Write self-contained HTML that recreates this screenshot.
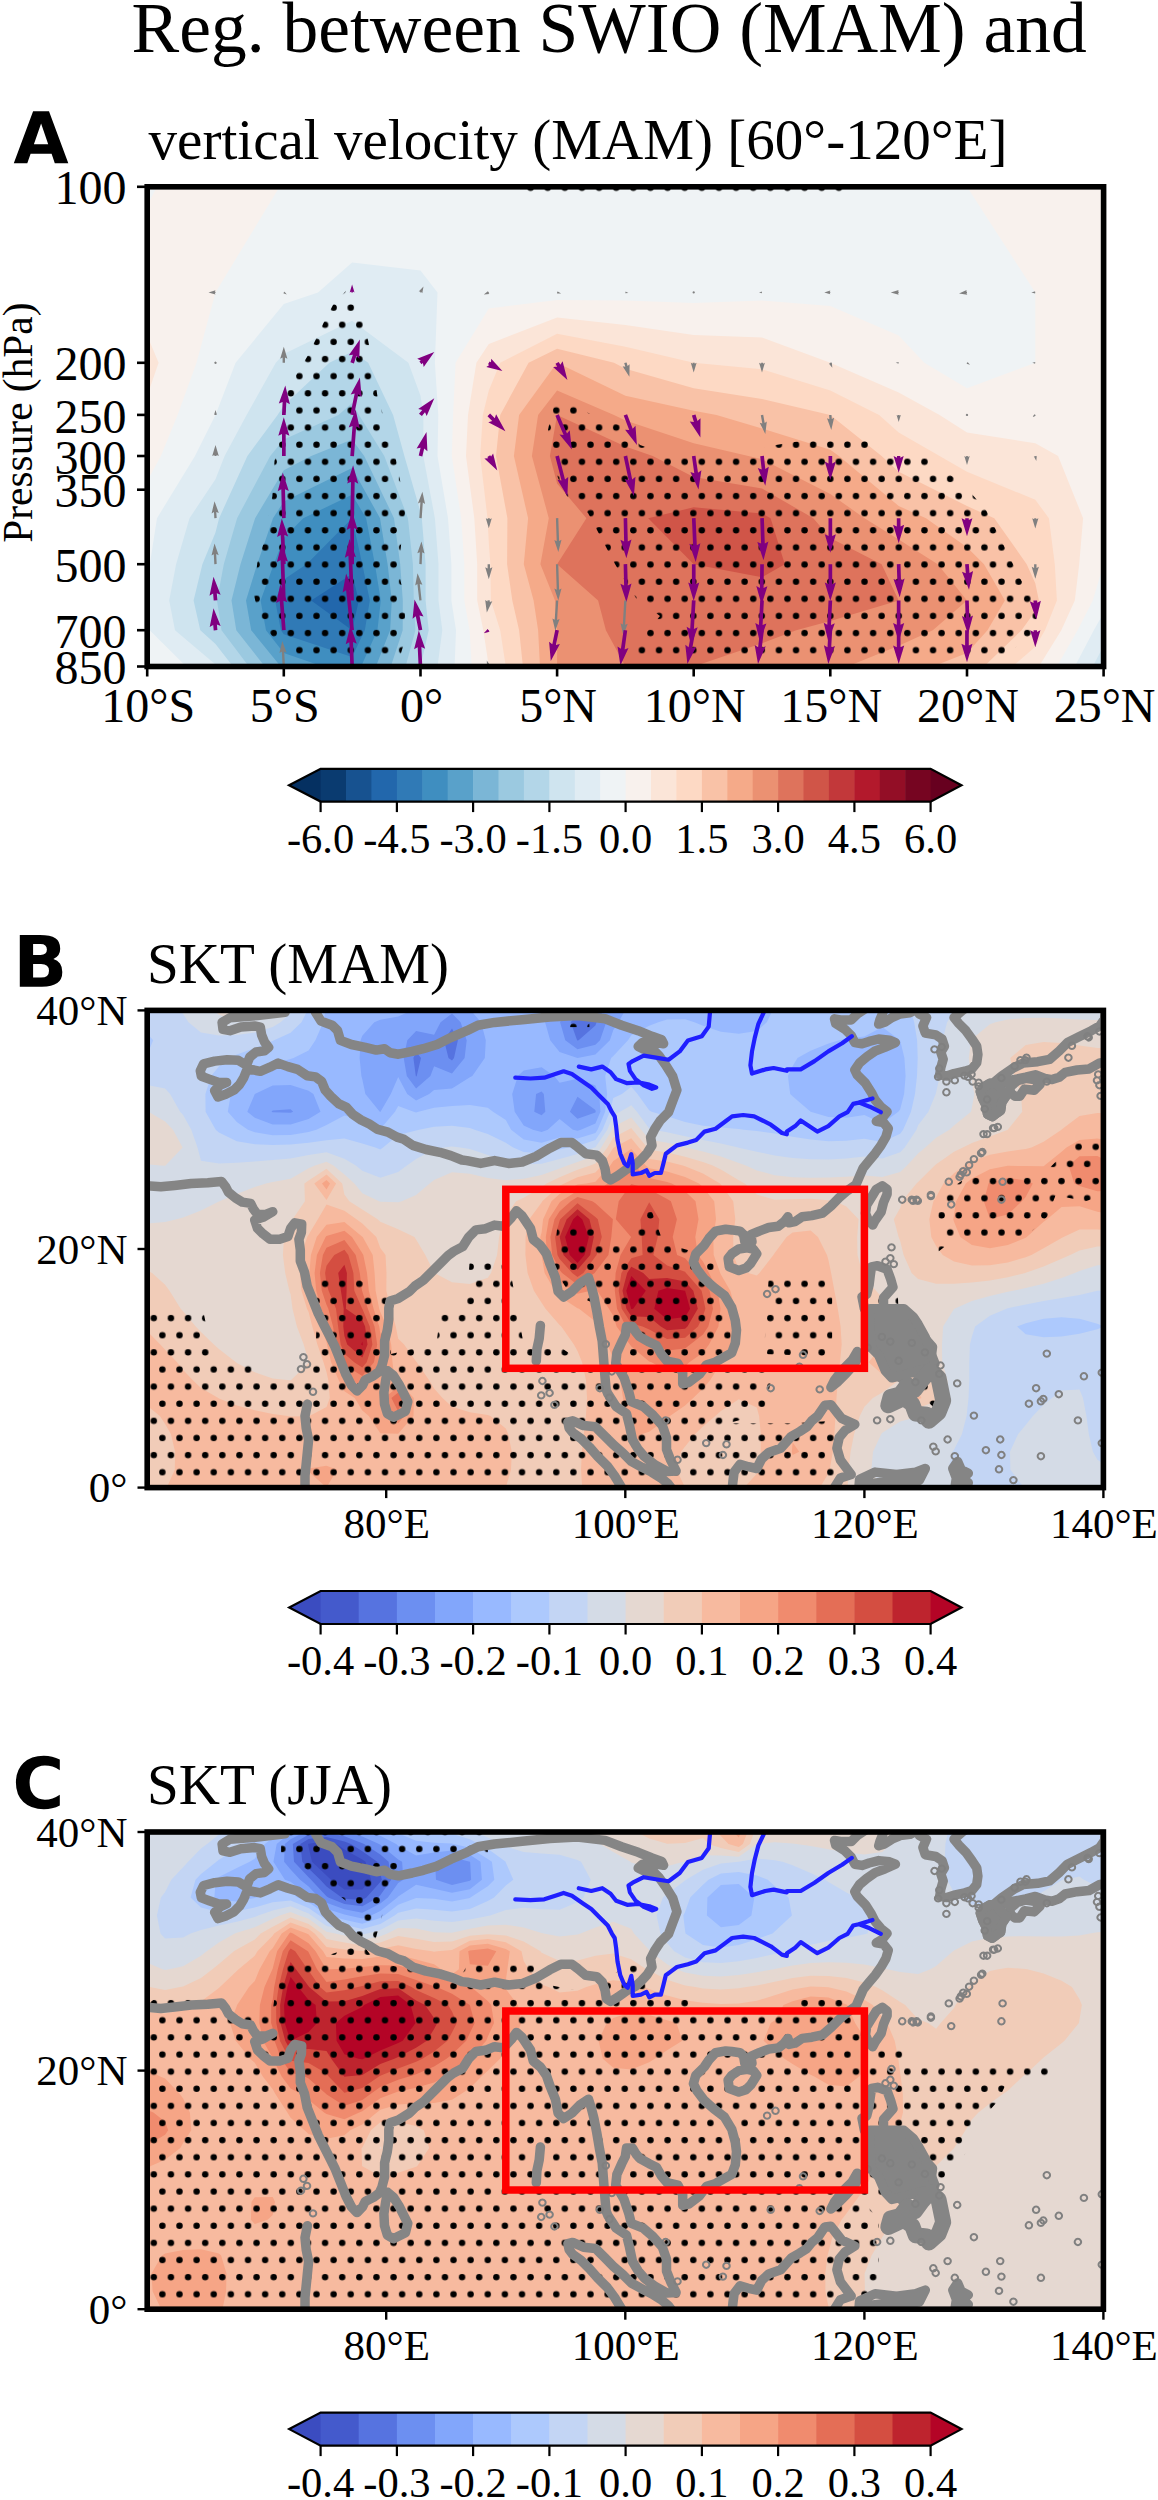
<!DOCTYPE html>
<html><head><meta charset="utf-8"><style>html,body{margin:0;padding:0;background:#fff}</style></head><body>
<svg width="1158" height="2500" viewBox="0 0 1158 2500" style="display:block">
<defs>
<pattern id="dots" patternUnits="userSpaceOnUse" x="158.1" y="436.1" width="17.126" height="34.252">
<circle cx="4.2815" cy="8.563" r="3.2" fill="#000"/>
<circle cx="12.8445" cy="25.689" r="3.2" fill="#000"/>
</pattern>
</defs>
<rect width="1158" height="2500" fill="#fff"/>
<g style="font-family:'Liberation Serif',serif" fill="#000">
<text x="131.6" y="52" font-size="71.5" text-anchor="start" >Reg. between SWIO (MAM) and</text>
<text x="148.5" y="158.8" font-size="57.1" text-anchor="start" >vertical velocity (MAM) [60°-120°E]</text>
<text x="147.1" y="982.5" font-size="57.1" text-anchor="start" >SKT (MAM)</text>
<text x="147.1" y="1804.1" font-size="57.1" text-anchor="start" >SKT (JJA)</text>
</g>
<path d="M51.6 153.8L30.6 153.8L27.3 163.3L13.8 163.3L33.1 111.3L49 111.3L68.3 163.3L54.8 163.3L51.6 153.8ZM33.9 144.2L48.2 144.2L41.1 123.5L33.9 144.2Z" fill="#000"/>
<path d="M40.5 955Q43.7 955 45.3 953.6Q46.9 952.3 46.9 949.5Q46.9 946.9 45.3 945.5Q43.7 944.1 40.5 944.1L33.1 944.1L33.1 955L40.5 955ZM41 977.6Q45 977.6 47 975.9Q49 974.2 49 970.8Q49 967.4 47 965.8Q45 964.1 41 964.1L33.1 964.1L33.1 977.6L41 977.6ZM53.4 959Q57.6 960.3 60 963.6Q62.3 967 62.3 971.9Q62.3 979.4 57.3 983Q52.2 986.7 41.9 986.7L19.8 986.7L19.8 935L39.8 935Q50.6 935 55.4 938.3Q60.2 941.5 60.2 948.7Q60.2 952.5 58.5 955.1Q56.7 957.7 53.4 959Z" fill="#000"/>
<path d="M59.8 1805.5Q56.1 1807.4 52.1 1808.3Q48.2 1809.3 43.8 1809.3Q31 1809.3 23.4 1802.1Q15.9 1794.9 15.9 1782.6Q15.9 1770.2 23.4 1763Q31 1755.8 43.8 1755.8Q48.2 1755.8 52.1 1756.8Q56.1 1757.7 59.8 1759.6L59.8 1770.3Q56.1 1767.8 52.5 1766.6Q48.9 1765.4 44.9 1765.4Q37.8 1765.4 33.7 1770Q29.6 1774.6 29.6 1782.6Q29.6 1790.5 33.7 1795.1Q37.8 1799.7 44.9 1799.7Q48.9 1799.7 52.5 1798.5Q56.1 1797.3 59.8 1794.8L59.8 1805.5Z" fill="#000"/>
<clipPath id="clipA"><rect x="147.2" y="186.8" width="956.3999999999999" height="479.7"/></clipPath>
<g clip-path="url(#clipA)">
<rect x="147.2" y="186.8" width="956.3999999999999" height="479.7" fill="#053061"/>
<path d="M215.5 186.8L283.8 186.8L352.1 186.8L420.5 186.8L488.8 186.8L557.1 186.8L625.4 186.8L693.7 186.8L762 186.8L830.3 186.8L898.7 186.8L967 186.8L1035.3 186.8L1103.6 186.8L1103.6 292.4L1103.6 362.8L1103.6 414.9L1103.6 456L1103.6 518.2L1103.6 564.2L1103.6 600.5L1103.6 630.2L1103.6 666.5L1035.3 666.5L967 666.5L898.7 666.5L830.3 666.5L762 666.5L693.7 666.5L625.4 666.5L557.1 666.5L488.8 666.5L420.5 666.5L352.1 666.5L283.8 666.5L215.5 666.5L147.2 666.5L147.2 630.2L147.2 600.5L147.2 564.2L147.2 518.2L147.2 456L147.2 414.9L147.2 362.8L147.2 292.4L147.2 186.8Z" fill="#0a3b70"/>
<path d="M215.5 186.8L283.8 186.8L352.1 186.8L420.5 186.8L488.8 186.8L557.1 186.8L625.4 186.8L693.7 186.8L762 186.8L830.3 186.8L898.7 186.8L967 186.8L1035.3 186.8L1103.6 186.8L1103.6 292.4L1103.6 362.8L1103.6 414.9L1103.6 456L1103.6 518.2L1103.6 564.2L1103.6 600.5L1103.6 630.2L1103.6 666.5L1035.3 666.5L967 666.5L898.7 666.5L830.3 666.5L762 666.5L693.7 666.5L625.4 666.5L557.1 666.5L488.8 666.5L420.5 666.5L352.1 666.5L283.8 666.5L215.5 666.5L147.2 666.5L147.2 630.2L147.2 600.5L147.2 564.2L147.2 518.2L147.2 456L147.2 414.9L147.2 362.8L147.2 292.4L147.2 186.8Z" fill="#175290"/>
<path d="M215.5 186.8L283.8 186.8L352.1 186.8L420.5 186.8L488.8 186.8L557.1 186.8L625.4 186.8L693.7 186.8L762 186.8L830.3 186.8L898.7 186.8L967 186.8L1035.3 186.8L1103.6 186.8L1103.6 292.4L1103.6 362.8L1103.6 414.9L1103.6 456L1103.6 518.2L1103.6 564.2L1103.6 600.5L1103.6 630.2L1103.6 666.5L1035.3 666.5L967 666.5L898.7 666.5L830.3 666.5L762 666.5L693.7 666.5L625.4 666.5L557.1 666.5L488.8 666.5L420.5 666.5L352.1 666.5L283.8 666.5L215.5 666.5L147.2 666.5L147.2 630.2L147.2 600.5L147.2 564.2L147.2 518.2L147.2 456L147.2 414.9L147.2 362.8L147.2 292.4L147.2 186.8Z" fill="#2267ac"/>
<path d="M215.5 186.8L283.8 186.8L352.1 186.8L420.5 186.8L488.8 186.8L557.1 186.8L625.4 186.8L693.7 186.8L762 186.8L830.3 186.8L898.7 186.8L967 186.8L1035.3 186.8L1103.6 186.8L1103.6 292.4L1103.6 362.8L1103.6 414.9L1103.6 456L1103.6 518.2L1103.6 564.2L1103.6 600.5L1103.6 630.2L1103.6 666.5L1035.3 666.5L967 666.5L898.7 666.5L830.3 666.5L762 666.5L693.7 666.5L625.4 666.5L557.1 666.5L488.8 666.5L420.5 666.5L352.1 666.5L283.8 666.5L215.5 666.5L147.2 666.5L147.2 630.2L147.2 600.5L147.2 564.2L147.2 518.2L147.2 456L147.2 414.9L147.2 362.8L147.2 292.4L147.2 186.8ZM311.2 600.5L352.1 630.2L352.1 630.2L352.1 630.2L358.8 600.5L352.1 574Z" fill="#307ab6"/>
<path d="M215.5 186.8L283.8 186.8L352.1 186.8L420.5 186.8L488.8 186.8L557.1 186.8L625.4 186.8L693.7 186.8L762 186.8L830.3 186.8L898.7 186.8L967 186.8L1035.3 186.8L1103.6 186.8L1103.6 292.4L1103.6 362.8L1103.6 414.9L1103.6 456L1103.6 518.2L1103.6 564.2L1103.6 600.5L1103.6 630.2L1103.6 666.5L1035.3 666.5L967 666.5L898.7 666.5L830.3 666.5L762 666.5L693.7 666.5L625.4 666.5L557.1 666.5L488.8 666.5L420.5 666.5L352.1 666.5L283.8 666.5L215.5 666.5L147.2 666.5L147.2 630.2L147.2 600.5L147.2 564.2L147.2 518.2L147.2 456L147.2 414.9L147.2 362.8L147.2 292.4L147.2 186.8ZM352.1 518.2L306.6 564.2L283.8 579.6L275.1 600.5L280.9 630.2L283.8 634.2L352.1 656.9L364.8 630.2L369.8 600.5L362.3 564.2L352.1 518.2L352.1 518.2Z" fill="#3f8ec0"/>
<path d="M215.5 186.8L283.8 186.8L352.1 186.8L420.5 186.8L488.8 186.8L557.1 186.8L625.4 186.8L693.7 186.8L762 186.8L830.3 186.8L898.7 186.8L967 186.8L1035.3 186.8L1103.6 186.8L1103.6 292.4L1103.6 362.8L1103.6 414.9L1103.6 456L1103.6 518.2L1103.6 564.2L1103.6 600.5L1103.6 630.2L1103.6 666.5L1035.3 666.5L967 666.5L898.7 666.5L830.3 666.5L762 666.5L693.7 666.5L625.4 666.5L557.1 666.5L488.8 666.5L420.5 666.5L361.1 666.5L377.4 630.2L380.8 600.5L374.9 564.2L366.1 518.2L352.1 494.8L303.3 518.2L283.8 538L273.8 564.2L260.6 600.5L266 630.2L283.8 653L322.9 666.5L283.8 666.5L215.5 666.5L147.2 666.5L147.2 630.2L147.2 600.5L147.2 564.2L147.2 518.2L147.2 456L147.2 414.9L147.2 362.8L147.2 292.4L147.2 186.8Z" fill="#59a1ca"/>
<path d="M215.5 186.8L283.8 186.8L352.1 186.8L420.5 186.8L488.8 186.8L557.1 186.8L625.4 186.8L693.7 186.8L762 186.8L830.3 186.8L898.7 186.8L967 186.8L1035.3 186.8L1103.6 186.8L1103.6 292.4L1103.6 362.8L1103.6 414.9L1103.6 456L1103.6 518.2L1103.6 564.2L1103.6 600.5L1103.6 630.2L1103.6 666.5L1035.3 666.5L967 666.5L898.7 666.5L830.3 666.5L762 666.5L693.7 666.5L625.4 666.5L557.1 666.5L488.8 666.5L420.5 666.5L375.9 666.5L390.1 630.2L391.8 600.5L387.6 564.2L380 518.2L352.1 468L283.8 501.6L273 518.2L257.2 564.2L246 600.5L251.2 630.2L280.7 666.5L215.5 666.5L147.2 666.5L147.2 630.2L147.2 600.5L147.2 564.2L147.2 518.2L147.2 456L147.2 414.9L147.2 362.8L147.2 292.4L147.2 186.8Z" fill="#7bb6d6"/>
<path d="M215.5 186.8L283.8 186.8L352.1 186.8L420.5 186.8L488.8 186.8L557.1 186.8L625.4 186.8L693.7 186.8L762 186.8L830.3 186.8L898.7 186.8L967 186.8L1035.3 186.8L1103.6 186.8L1103.6 292.4L1103.6 362.8L1103.6 414.9L1103.6 456L1103.6 518.2L1103.6 564.2L1103.6 600.5L1103.6 630.2L1103.6 666.5L1035.3 666.5L967 666.5L898.7 666.5L830.3 666.5L762 666.5L693.7 666.5L625.4 666.5L557.1 666.5L488.8 666.5L420.5 666.5L390.8 666.5L402.7 630.2L402.8 600.5L400.2 564.2L394 518.2L364.2 456L352.1 439.5L311.2 456L283.8 470.2L255.1 518.2L240.5 564.2L231.5 600.5L236.3 630.2L264.8 666.5L215.5 666.5L147.2 666.5L147.2 630.2L147.2 600.5L147.2 564.2L147.2 518.2L147.2 456L147.2 414.9L147.2 362.8L147.2 292.4L147.2 186.8Z" fill="#9bc9e0"/>
<path d="M215.5 186.8L283.8 186.8L352.1 186.8L420.5 186.8L488.8 186.8L557.1 186.8L625.4 186.8L693.7 186.8L762 186.8L830.3 186.8L898.7 186.8L967 186.8L1035.3 186.8L1103.6 186.8L1103.6 292.4L1103.6 362.8L1103.6 414.9L1103.6 456L1103.6 518.2L1103.6 564.2L1103.6 600.5L1103.6 630.2L1103.6 666.5L1035.3 666.5L967 666.5L898.7 666.5L830.3 666.5L762 666.5L693.7 666.5L625.4 666.5L557.1 666.5L488.8 666.5L420.5 666.5L405.6 666.5L415.4 630.2L413.8 600.5L412.9 564.2L407.9 518.2L384.3 456L359 414.9L352.1 403.1L338.5 414.9L283.8 439.5L270.2 456L237.1 518.2L223.8 564.2L217 600.5L221.5 630.2L248.9 666.5L215.5 666.5L147.2 666.5L147.2 630.2L147.2 600.5L147.2 564.2L147.2 518.2L147.2 456L147.2 414.9L147.2 362.8L147.2 292.4L147.2 186.8Z" fill="#b3d6e8"/>
<path d="M215.5 186.8L283.8 186.8L352.1 186.8L420.5 186.8L488.8 186.8L557.1 186.8L625.4 186.8L693.7 186.8L762 186.8L830.3 186.8L898.7 186.8L967 186.8L1035.3 186.8L1103.6 186.8L1103.6 292.4L1103.6 362.8L1103.6 414.9L1103.6 456L1103.6 518.2L1103.6 564.2L1103.6 600.5L1103.6 630.2L1103.6 666.5L1035.3 666.5L967 666.5L898.7 666.5L830.3 666.5L762 666.5L693.7 666.5L625.4 666.5L557.1 666.5L488.8 666.5L420.5 666.5L428.7 630.2L425.6 600.5L425.6 564.2L421.8 518.2L420.5 512.2L404.4 456L393.1 414.9L368.2 362.8L352.1 351.7L329.4 362.8L283.8 405.6L277.6 414.9L247.4 456L219.1 518.2L215.5 532.6L202.4 564.2L193.6 600.5L200.3 630.2L215.5 644L233 666.5L215.5 666.5L147.2 666.5L147.2 630.2L147.2 600.5L147.2 564.2L147.2 518.2L147.2 456L147.2 414.9L147.2 362.8L147.2 292.4L147.2 186.8Z" fill="#cfe4ef"/>
<path d="M215.5 186.8L283.8 186.8L352.1 186.8L420.5 186.8L488.8 186.8L557.1 186.8L625.4 186.8L693.7 186.8L762 186.8L830.3 186.8L898.7 186.8L967 186.8L1035.3 186.8L1103.6 186.8L1103.6 292.4L1103.6 362.8L1103.6 414.9L1103.6 456L1103.6 518.2L1103.6 564.2L1103.6 600.5L1103.6 630.2L1103.6 645.7L1092.8 666.5L1035.3 666.5L967 666.5L898.7 666.5L830.3 666.5L762 666.5L693.7 666.5L625.4 666.5L557.1 666.5L488.8 666.5L437.5 666.5L442.3 630.2L438.5 600.5L438.5 564.2L434.9 518.2L423.3 456L423.4 414.9L420.5 395.7L408.4 362.8L352.1 320.8L283.8 354.1L275.8 362.8L246.6 414.9L224.6 456L215.5 479.2L189.5 518.2L176.1 564.2L169.2 600.5L175 630.2L215.5 664.6L217.1 666.5L215.5 666.5L147.2 666.5L147.2 630.2L147.2 600.5L147.2 564.2L147.2 518.2L147.2 456L147.2 414.9L147.2 362.8L147.2 292.4L147.2 186.8Z" fill="#e0ecf3"/>
<path d="M215.5 186.8L283.8 186.8L352.1 186.8L420.5 186.8L488.8 186.8L557.1 186.8L625.4 186.8L693.7 186.8L762 186.8L830.3 186.8L898.7 186.8L967 186.8L1035.3 186.8L1103.6 186.8L1103.6 292.4L1103.6 362.8L1103.6 414.9L1103.6 456L1103.6 518.2L1103.6 564.2L1103.6 600.5L1103.6 613L1093.8 630.2L1074.8 666.5L1035.3 666.5L967 666.5L898.7 666.5L830.3 666.5L762 666.5L693.7 666.5L625.4 666.5L557.1 666.5L488.8 666.5L454.6 666.5L456 630.2L451.4 600.5L451.4 564.2L448 518.2L437.5 456L438.3 414.9L434.9 362.8L437.5 292.4L420.5 270.4L352.1 262.5L318 292.4L283.8 304L235.6 362.8L215.5 414.9L215.5 414.9L195 456L157 518.2L149.8 564.2L147.2 583.3L147.2 564.2L147.2 518.2L147.2 456L147.2 414.9L147.2 362.8L147.2 292.4L147.2 186.8ZM149.7 630.2L186.2 666.5L147.2 666.5L147.2 630.2L147.2 616Z" fill="#eff3f5"/>
<path d="M215.5 186.8L279.6 186.8L215.5 292.4L215.5 292.4L196.5 362.8L177.6 414.9L160.9 456L147.2 481.1L147.2 456L147.2 414.9L147.2 362.8L147.2 292.4L147.2 205.3L157 186.8ZM1035.3 186.8L1103.6 186.8L1103.6 292.4L1103.6 362.8L1103.6 414.9L1103.6 456L1103.6 518.2L1103.6 564.2L1103.6 564.2L1092.8 600.5L1077.6 630.2L1056.9 666.5L1035.3 666.5L967 666.5L898.7 666.5L830.3 666.5L762 666.5L693.7 666.5L625.4 666.5L557.1 666.5L488.8 666.5L471.7 666.5L469.6 630.2L464.3 600.5L464.3 564.2L461.2 518.2L451.8 456L453.1 414.9L455.6 362.8L488.8 308.5L557.1 299.9L625.4 300.4L693.7 303.1L762 300.6L830.3 305.9L898.7 335.5L924.3 362.8L967 388.2L1035.3 362.8L1035.3 362.8L1035.3 292.4L1035.3 292.4L967 186.8ZM153.7 666.5L147.2 666.5L147.2 660.5Z" fill="#f8f1ed"/>
<path d="M158.6 362.8L147.2 395.7L147.2 362.8L147.2 335.5ZM488.8 344.1L557.1 317.5L625.4 324.9L693.7 335.1L762 337.4L830.3 362.8L830.3 362.8L898.7 392.6L939.6 414.9L967 432.5L1035.3 443.3L1058.1 456L1083.1 518.2L1079.2 564.2L1074.8 600.5L1061.3 630.2L1038.9 666.5L1035.3 666.5L967 666.5L898.7 666.5L830.3 666.5L762 666.5L693.7 666.5L625.4 666.5L557.1 666.5L488.8 666.5L488.8 666.5L483.3 630.2L477.2 600.5L477.2 564.2L474.3 518.2L466 456L468 414.9L476.4 362.8Z" fill="#fbe5d8"/>
<path d="M557.1 333.7L625.4 346.8L693.7 362.8L693.7 362.8L762 369.3L830.3 390.6L879.1 414.9L898.7 432.5L939.6 456L967 471.8L1035.3 499.7L1048.9 518.2L1054.8 564.2L1056.9 600.5L1045 630.2L1035.3 646.8L1012.5 666.5L967 666.5L898.7 666.5L830.3 666.5L762 666.5L693.7 666.5L625.4 666.5L557.1 666.5L505.8 666.5L500.2 630.2L490.9 600.5L490.4 564.2L488.8 542.7L487.5 518.2L480.2 456L482.8 414.9L488.8 390.6L500.2 362.8Z" fill="#fdd9c4"/>
<path d="M557.1 348.8L614 362.8L625.4 368.7L693.7 388.2L762 399L830.3 414.9L830.3 414.9L881.6 456L898.7 471.8L967 506.1L994.3 518.2L1026.7 564.2L1035.3 583.3L1038.9 600.5L1035.3 611L1021.6 630.2L984 666.5L967 666.5L898.7 666.5L830.3 666.5L762 666.5L693.7 666.5L625.4 666.5L557.1 666.5L522.9 666.5L519.1 630.2L512.3 600.5L507.1 564.2L507.4 518.2L496 456L500.2 414.9L528.6 362.8Z" fill="#f9c2a7"/>
<path d="M557.1 362.8L625.4 395.7L693.7 410.7L716.5 414.9L762 428.6L830.3 449.8L838.9 456L898.7 506.1L926 518.2L967 547.2L984 564.2L1004.9 600.5L987.5 630.2L967 653L932.8 666.5L898.7 666.5L830.3 666.5L762 666.5L693.7 666.5L625.4 666.5L557.1 666.5L540 666.5L538.1 630.2L533.6 600.5L523.8 564.2L528.1 518.2L513.9 456L519.1 414.9Z" fill="#f5aa89"/>
<path d="M557.1 390.6L614 414.9L625.4 420.6L693.7 443.3L748.4 456L762 459.2L830.3 494.1L864.5 518.2L898.7 539.4L937.7 564.2L967 600.5L932.8 630.2L898.7 645.7L847.4 666.5L830.3 666.5L762 666.5L693.7 666.5L625.4 666.5L557.1 666.5L557.1 630.2L557.1 630.2L555 600.5L540.4 564.2L548.8 518.2L531.9 456L538.1 414.9Z" fill="#eb9172"/>
<path d="M557.1 414.9L625.4 446.6L652.7 456L693.7 477L762 488.4L813.3 518.2L830.3 538L881.6 564.2L898.7 600.5L830.3 620.9L796.2 630.2L762 643.2L693.7 666.5L625.4 666.5L605.9 630.2L598.1 600.5L557.1 564.2L586.4 518.2L557.1 483.5L549.9 456Z" fill="#de735c"/>
<path d="M693.7 507.3L762 513.5L770.6 518.2L784.8 564.2L762 577.2L693.7 564.2L693.7 564.2L648.2 518.2Z" fill="#d05548"/>
<path d="M352.2 284L333 305L324 322L315.5 340L307 357L296 375L287.5 392L281 420L278.8 444L274.5 461L272.4 496L263.7 543L257.3 563L254 595L259 617L272 636L292 652L310 663L398 663L405 640L405 600L398 570L405 513L400 480L392 440L378 400L372 360L362 310Z" fill="url(#dots)"/>
<path d="M553 406L575 405L600 420L620 425L640 445L660 452L700 456L740 456L770 446L800 441L868 441L890 455L928 458L952 476L970 492L986 510L995 528L1004 546L1012 562L1021 580L1032 597L1037 615L1033 633L1010 652L1000 663L625 663L640 640L660 616L636 598L625 581L615 564L606 547L597 530L588 513L567 496L558 478L553 460L548 430Z" fill="url(#dots)"/>
<path d="M522 186.8L845 186.8L845 193L522 193Z" fill="url(#dots)"/>
<path d="M215.5 291.7L214.8 291.7L215.5 290.3L208.5 292.4L215.5 294.5L214.8 293.1L215.5 293.1Z" fill="#808080"/>
<path d="M216.7 362.8L216.3 363.7L215.2 364L214.4 363.3L214.4 362.3L215.2 361.6L216.3 361.9Z" fill="#808080"/>
<path d="M216 414.9L216 414.4L217 414.9L215.5 409.9L214 414.9L215 414.4L215 414.9Z" fill="#808080"/>
<path d="M216.6 456L216.6 454.9L218.8 456L215.5 445.1L212.2 456L214.4 454.9L214.4 456Z" fill="#808080"/>
<path d="M216.7 518.1L216.3 511.9L218.8 512.9L214.5 501.2L211.6 513.4L214 512L214.3 518.2Z" fill="#808080"/>
<path d="M216.7 564.1L216.2 554.1L218.7 555.2L214.5 543.4L211.5 555.6L213.8 554.2L214.3 564.2Z" fill="#808080"/>
<path d="M217.4 600.3L216.8 593.2L220.6 594.7L213.5 576.8L209.5 595.7L213.1 593.5L213.7 600.6Z" fill="#800080"/>
<path d="M217.4 630L216.9 624.6L220.7 626.1L213.5 608.2L209.7 627.1L213.2 624.9L213.7 630.4Z" fill="#800080"/>
<path d="M216.7 666.5L216.3 667.4L215.2 667.7L214.4 667L214.4 666L215.2 665.3L216.3 665.6Z" fill="#808080"/>
<path d="M283.6 292.7L283.9 292.9L283.2 293.3L286.8 294.4L284.4 291.5L284.3 292.3L284 292.1Z" fill="#808080"/>
<path d="M285 362.8L285 357.6L287.4 358.8L283.8 346.8L280.2 358.8L282.6 357.6L282.6 362.8Z" fill="#808080"/>
<path d="M285.7 415L286.3 402.2L289.9 404.2L285.3 385.4L278.8 403.6L282.6 402L282 414.9Z" fill="#800080"/>
<path d="M285.7 456L285.7 434L289.4 435.8L283.8 417.3L278.3 435.8L282 434L282 456Z" fill="#800080"/>
<path d="M285.7 518.1L285 489.2L288.8 490.9L282.8 472.6L277.7 491.2L281.3 489.2L282 518.2Z" fill="#800080"/>
<path d="M285.7 564.1L284.4 534.9L288.2 536.6L281.8 518.4L277.1 537.1L280.7 535.1L282 564.3Z" fill="#800080"/>
<path d="M285.7 600.4L284.3 560L288 561.7L281.8 543.5L276.9 562.1L280.6 560.2L282 600.5Z" fill="#800080"/>
<path d="M285.7 630.1L283.4 600.7L287.3 602.2L280.3 584.2L276.2 603.1L279.7 600.9L282 630.3Z" fill="#800080"/>
<path d="M285 666.4L284.2 651.6L286.6 652.7L282.3 640.9L279.4 653.1L281.8 651.8L282.6 666.6Z" fill="#808080"/>
<path d="M352.9 292.4L352.9 291.6L354.5 292.4L352.1 284.4L349.7 292.4L351.3 291.6L351.3 292.4Z" fill="#800080"/>
<path d="M353.9 363.4L356.4 355.9L359.3 358.8L359.9 339.5L348.8 355.3L352.9 354.7L350.4 362.2Z" fill="#800080"/>
<path d="M354 415.3L358.3 394.3L361.6 396.9L359.9 377.6L350.7 394.6L354.7 393.6L350.3 414.6Z" fill="#800080"/>
<path d="M354 456.2L356.2 426.3L359.8 428.4L355.6 409.5L348.7 427.6L352.5 426L350.3 455.9Z" fill="#800080"/>
<path d="M354 518.2L354.7 481.8L358.3 483.8L353.1 465.2L347.2 483.6L351 481.8L350.3 518.1Z" fill="#800080"/>
<path d="M354 564.2L354 528.1L357.7 530L352.1 511.5L346.6 530L350.3 528.1L350.3 564.2Z" fill="#800080"/>
<path d="M354 600.4L352.1 555.5L355.9 557.2L349.5 539L344.8 557.7L348.4 555.7L350.3 600.5Z" fill="#800080"/>
<path d="M354 630L349.7 590L353.6 591.4L346.1 573.6L342.6 592.6L346.1 590.3L350.3 630.4Z" fill="#800080"/>
<path d="M354 666.4L353 642.1L356.8 643.8L350.4 625.5L345.7 644.2L349.3 642.2L350.3 666.6Z" fill="#800080"/>
<path d="M421.1 292.7L421.4 292.1L422.3 293.3L423.5 286.4L418.7 291.5L420.2 291.5L419.9 292.1Z" fill="#808080"/>
<path d="M421.5 364.2L422.9 363.1L423.7 366.9L434.3 352.1L417.2 358.7L420.8 360.4L419.4 361.4Z" fill="#800080"/>
<path d="M421.9 416.1L425 412.3L426.7 416.1L434.3 398.3L418.2 409L422.2 410L419 413.8Z" fill="#800080"/>
<path d="M422.3 456.5L424.2 448.6L427.4 451.3L426.5 432L416.6 448.6L420.6 447.7L418.7 455.6Z" fill="#800080"/>
<path d="M421.7 518.2L422.8 502.5L425.1 503.9L422.4 491.7L417.9 503.4L420.4 502.3L419.3 518.1Z" fill="#808080"/>
<path d="M421.7 564.2L422.2 552.3L424.5 553.6L421.5 541.5L417.3 553.3L419.8 552.2L419.3 564.1Z" fill="#808080"/>
<path d="M421.6 600.3L419.8 583.9L422.4 584.8L417.5 573.3L415.2 585.6L417.4 584.1L419.3 600.6Z" fill="#808080"/>
<path d="M422.3 629.8L419.5 615.5L423.5 616.6L414.5 599.5L412.6 618.7L415.8 616.2L418.6 630.5Z" fill="#800080"/>
<path d="M422.3 666.4L421.4 647L425.2 648.7L418.8 630.5L414.1 649.2L417.7 647.2L418.6 666.6Z" fill="#800080"/>
<path d="M488.6 291.9L488.1 292.1L488.2 290.9L483.8 294.4L489.4 293.9L488.5 293.1L489 292.9Z" fill="#808080"/>
<path d="M488 364.2L489.3 365L486.3 366.9L502.4 371L491.2 358.7L491 362.3L489.6 361.4Z" fill="#800080"/>
<path d="M487.5 416.3L492.2 420.9L488.3 422.2L505.4 431.2L496.1 414.3L494.8 418.3L490.1 413.6Z" fill="#800080"/>
<path d="M487.3 456.9L488.2 458.3L484.4 458.6L497.3 470.5L493.1 453.5L491.1 456.6L490.2 455.2Z" fill="#800080"/>
<path d="M487.8 518.2L487.8 519.2L485.8 518.2L488.8 528.2L491.8 518.2L489.8 519.2L489.8 518.2Z" fill="#808080"/>
<path d="M487.6 564.2L487.6 568.4L485.2 567.2L488.8 579.2L492.4 567.2L490 568.4L490 564.2Z" fill="#808080"/>
<path d="M487.6 600.3L487.4 601.6L485.2 600L486.8 612.5L492.3 601.2L489.7 602L490 600.6Z" fill="#808080"/>
<path d="M488.5 629.7L488 630L487.9 628.7L483.8 633.2L489.7 631.7L488.6 631L489.1 630.7Z" fill="#800080"/>
<path d="M489.4 666.3L489.2 665.7L490.6 665.9L486.8 660.5L487 667.1L488 666.1L488.2 666.7Z" fill="#808080"/>
<path d="M557 292.8L557.4 292.9L556.8 293.6L561.1 293.4L557.4 291.2L557.6 292.1L557.2 292Z" fill="#808080"/>
<path d="M555.5 363.8L557.2 366.7L553.1 367L567.4 380L562.6 361.3L560.4 364.8L558.7 361.9Z" fill="#800080"/>
<path d="M555.4 415.7L563.6 434.9L559.5 434.6L571.9 449.4L569.7 430.3L567 433.4L558.8 414.2Z" fill="#800080"/>
<path d="M555.3 456.5L561.5 480.6L557.4 479.7L567.4 496.2L568.2 476.9L565 479.6L558.9 455.6Z" fill="#800080"/>
<path d="M555.9 518.2L556.7 541.2L554.3 540.1L558.3 552L561.5 539.8L559.1 541.1L558.3 518.1Z" fill="#808080"/>
<path d="M555.9 564.2L556.7 589.7L554.3 588.6L558.3 600.5L561.5 588.4L559.1 589.7L558.3 564.2Z" fill="#808080"/>
<path d="M555.9 600.4L554.7 619.8L552.4 618.5L555.3 630.7L559.6 618.9L557.1 619.9L558.3 600.5Z" fill="#808080"/>
<path d="M555.3 629.8L552.3 644.3L549.1 641.8L550.8 661L559.9 644L555.9 645.1L558.9 630.6Z" fill="#800080"/>
<path d="M625.3 292.7L625.6 292.8L625.2 293.3L628.4 292.9L625.5 291.5L625.7 292.2L625.4 292.1Z" fill="#808080"/>
<path d="M624.2 363.1L625.3 366.7L622.6 366.3L629.4 376.8L629.6 364.3L627.6 366.1L626.6 362.5Z" fill="#808080"/>
<path d="M623.7 415.6L629.2 430.1L625.1 429.7L636.9 444.9L635.5 425.7L632.7 428.7L627.1 414.3Z" fill="#800080"/>
<path d="M623.6 456.4L628.6 480.1L624.6 479.1L633.9 496L635.5 476.8L632.2 479.4L627.2 455.6Z" fill="#800080"/>
<path d="M623.6 518.2L624.1 541.6L620.4 539.8L626.4 558.2L631.5 539.5L627.8 541.5L627.2 518.1Z" fill="#800080"/>
<path d="M623.6 564.2L624.1 585.6L620.4 583.8L626.4 602.2L631.5 583.6L627.8 585.5L627.2 564.1Z" fill="#800080"/>
<path d="M624.2 600.4L622.8 624.6L620.5 623.3L623.4 635.5L627.7 623.7L625.2 624.7L626.6 600.5Z" fill="#808080"/>
<path d="M623.6 629.9L620.9 648.8L617.5 646.5L620.4 665.6L628.5 648.1L624.6 649.4L627.2 630.5Z" fill="#800080"/>
<path d="M694.9 292.4L694.5 293.3L693.4 293.6L692.6 292.9L692.6 291.9L693.4 291.2L694.5 291.5Z" fill="#808080"/>
<path d="M692.7 362.8L692.7 363.8L690.8 362.8L693.7 372.5L696.6 362.8L694.7 363.8L694.7 362.8Z" fill="#808080"/>
<path d="M691.9 415.5L693.9 422.1L689.8 421.4L700.4 437.5L700.5 418.2L697.5 421.1L695.5 414.4Z" fill="#800080"/>
<path d="M691.9 456.3L694.3 473.2L690.4 471.9L698.5 489.4L701.4 470.3L698 472.7L695.5 455.8Z" fill="#800080"/>
<path d="M691.9 518.2L693.1 545.4L689.3 543.7L695.7 562L700.4 543.2L696.8 545.2L695.6 518.1Z" fill="#800080"/>
<path d="M691.9 564.2L691.9 584.3L688.2 582.5L693.7 601L699.3 582.5L695.6 584.3L695.6 564.2Z" fill="#800080"/>
<path d="M691.9 600.3L690.2 628.7L686.6 626.7L691.1 645.5L697.7 627.3L693.9 628.9L695.6 600.6Z" fill="#800080"/>
<path d="M691.9 629.9L688.6 647.3L685.3 644.8L687.4 664L696.3 646.8L692.3 648L695.5 630.5Z" fill="#800080"/>
<path d="M762 292.1L761.7 292.1L762 291.5L759 292.4L762 293.3L761.7 292.7L762 292.7Z" fill="#808080"/>
<path d="M761.1 362.8L761.1 363.8L759.1 362.8L762 372.5L764.9 362.8L763 363.8L763 362.8Z" fill="#808080"/>
<path d="M760.8 415.2L762.3 423.5L759.7 422.7L765.3 433.9L766.8 421.5L764.7 423.1L763.2 414.7Z" fill="#808080"/>
<path d="M760.2 456.2L761.7 469.4L757.8 468L765.3 485.7L768.8 466.7L765.3 469L763.9 455.8Z" fill="#800080"/>
<path d="M760.2 518.2L761.1 543.6L757.3 541.9L763.5 560.2L768.4 541.5L764.8 543.5L763.9 518.1Z" fill="#800080"/>
<path d="M760.2 564.2L759.9 588L756.3 586.1L761.6 604.7L767.4 586.2L763.6 588.1L763.9 564.2Z" fill="#800080"/>
<path d="M760.2 600.4L758.9 624.9L755.3 622.9L759.8 641.7L766.4 623.5L762.6 625.1L763.9 600.6Z" fill="#800080"/>
<path d="M760.2 630L758.1 647.2L754.7 645L758 664L765.7 646.3L761.8 647.7L763.9 630.4Z" fill="#800080"/>
<path d="M830.3 291.8L829.7 291.8L830.3 290.6L824.3 292.4L830.3 294.2L829.7 293L830.3 293Z" fill="#808080"/>
<path d="M829.8 363L830 363.5L828.8 363.4L832.3 367.8L831.8 362.2L831 363.1L830.8 362.6Z" fill="#808080"/>
<path d="M829.1 415L829.4 419.3L827 418.2L831.3 429.9L834.1 417.7L831.8 419.1L831.5 414.9Z" fill="#808080"/>
<path d="M828.5 456L828.5 463.4L824.8 461.5L830.3 480L835.9 461.5L832.2 463.4L832.2 456Z" fill="#800080"/>
<path d="M828.5 518.2L828.5 536L824.8 534.2L830.3 552.7L835.9 534.2L832.2 536L832.2 518.2Z" fill="#800080"/>
<path d="M828.5 564.2L828.5 584.3L824.8 582.5L830.3 601L835.9 582.5L832.2 584.3L832.2 564.2Z" fill="#800080"/>
<path d="M828.5 600.4L827.3 624.7L823.7 622.7L828.3 641.5L834.8 623.2L831 624.9L832.2 600.5Z" fill="#800080"/>
<path d="M828.5 630.1L827.5 647.3L823.9 645.2L828.3 664L835 645.9L831.2 647.5L832.2 630.3Z" fill="#800080"/>
<path d="M898.7 291.6L897.9 291.6L898.7 290L890.7 292.4L898.7 294.8L897.9 293.2L898.7 293.2Z" fill="#808080"/>
<path d="M898.7 362.5L898.4 362.5L898.7 361.9L895.7 362.8L898.7 363.7L898.4 363.1L898.7 363.1Z" fill="#808080"/>
<path d="M898 414.9L898 415.6L896.6 414.9L898.7 421.9L900.8 414.9L899.4 415.6L899.4 414.9Z" fill="#808080"/>
<path d="M897 456L897 457.7L893.6 456L898.7 472.7L903.7 456L900.3 457.7L900.3 456Z" fill="#800080"/>
<path d="M896.8 518.2L896.8 526.5L893.1 524.7L898.7 543.2L904.2 524.7L900.5 526.5L900.5 518.2Z" fill="#800080"/>
<path d="M896.8 564.2L897.3 580.6L893.5 578.9L899.7 597.2L904.6 578.5L901 580.5L900.5 564.1Z" fill="#800080"/>
<path d="M896.8 600.5L896.8 624.8L893.1 623L898.7 641.5L904.2 623L900.5 624.8L900.5 600.5Z" fill="#800080"/>
<path d="M896.8 630.2L896.8 647.3L893.1 645.5L898.7 664L904.2 645.5L900.5 647.3L900.5 630.2Z" fill="#800080"/>
<path d="M966.9 291.6L966.1 291.7L966.7 290L959 293.4L967.3 294.8L966.3 293.3L967.1 293.2Z" fill="#808080"/>
<path d="M966.8 363.1L967.1 363.3L966.4 363.7L970 364.8L967.6 361.9L967.5 362.7L967.2 362.5Z" fill="#808080"/>
<path d="M968.2 414.9L967.7 415.9L966.7 416.1L965.9 415.5L965.9 414.4L966.7 413.8L967.7 414Z" fill="#808080"/>
<path d="M966.1 456L966.1 456.9L964.3 456L967 465L969.7 456L967.9 456.9L967.9 456Z" fill="#808080"/>
<path d="M965.2 518.2L965.2 520L961.6 518.2L967 536.2L972.4 518.2L968.8 520L968.8 518.2Z" fill="#800080"/>
<path d="M965.1 564.3L965.8 573.3L962 571.8L969 589.8L973.1 570.9L969.5 573L968.8 564Z" fill="#800080"/>
<path d="M965.1 600.5L965.6 617.7L961.9 615.9L968 634.3L973 615.6L969.3 617.6L968.8 600.4Z" fill="#800080"/>
<path d="M965.1 630.2L965.1 645.5L961.4 643.7L967 662.2L972.5 643.7L968.8 645.5L968.8 630.2Z" fill="#800080"/>
<path d="M1035.3 292L1034.9 292L1035.3 291.2L1031.3 292.4L1035.3 293.6L1034.9 292.8L1035.3 292.8Z" fill="#808080"/>
<path d="M1035.3 362.5L1035 362.5L1035.3 361.9L1032.3 362.8L1035.3 363.7L1035 363.1L1035.3 363.1Z" fill="#808080"/>
<path d="M1035.1 414.6L1034.8 414.8L1034.7 414L1032.3 416.9L1035.9 415.8L1035.2 415.4L1035.5 415.2Z" fill="#808080"/>
<path d="M1034.8 456.1L1034.9 456.6L1033.8 456.3L1036.3 461L1036.8 455.7L1035.9 456.4L1035.8 455.9Z" fill="#808080"/>
<path d="M1034.2 518.2L1034.2 519.2L1032.2 518.2L1035.3 528.6L1038.4 518.2L1036.3 519.2L1036.3 518.2Z" fill="#808080"/>
<path d="M1034.1 564.2L1034.1 567.9L1031.7 566.7L1035.3 578.7L1038.9 566.7L1036.5 567.9L1036.5 564.2Z" fill="#808080"/>
<path d="M1033.4 600.5L1033.6 602.9L1029.8 601.3L1036.3 619.5L1040.9 600.7L1037.3 602.7L1037.1 600.4Z" fill="#800080"/>
<path d="M1033.6 630.2L1033.6 631.9L1030.2 630.2L1035.3 647.2L1040.4 630.2L1037 631.9L1037 630.2Z" fill="#800080"/>
</g>
<rect x="147.2" y="186.8" width="956.4" height="479.7" fill="none" stroke="#000" stroke-width="5.6"/>
<g style="font-family:'Liberation Serif',serif" fill="#000">
<line x1="137" y1="186.8" x2="147.2" y2="186.8" stroke="#000" stroke-width="2.6"/>
<text x="126.5" y="204.4" font-size="48" text-anchor="end" >100</text>
<line x1="137" y1="362.8" x2="147.2" y2="362.8" stroke="#000" stroke-width="2.6"/>
<text x="126.5" y="380.4" font-size="48" text-anchor="end" >200</text>
<line x1="137" y1="414.9" x2="147.2" y2="414.9" stroke="#000" stroke-width="2.6"/>
<text x="126.5" y="432.5" font-size="48" text-anchor="end" >250</text>
<line x1="137" y1="456" x2="147.2" y2="456" stroke="#000" stroke-width="2.6"/>
<text x="126.5" y="473.6" font-size="48" text-anchor="end" >300</text>
<line x1="137" y1="489.7" x2="147.2" y2="489.7" stroke="#000" stroke-width="2.6"/>
<text x="126.5" y="507.3" font-size="48" text-anchor="end" >350</text>
<line x1="137" y1="564.2" x2="147.2" y2="564.2" stroke="#000" stroke-width="2.6"/>
<text x="126.5" y="581.8" font-size="48" text-anchor="end" >500</text>
<line x1="137" y1="630.2" x2="147.2" y2="630.2" stroke="#000" stroke-width="2.6"/>
<text x="126.5" y="647.8" font-size="48" text-anchor="end" >700</text>
<line x1="137" y1="666.5" x2="147.2" y2="666.5" stroke="#000" stroke-width="2.6"/>
<text x="126.5" y="684.1" font-size="48" text-anchor="end" >850</text>
<line x1="147.2" y1="666.5" x2="147.2" y2="676.5" stroke="#000" stroke-width="2.6"/>
<text x="148.2" y="722" font-size="48" text-anchor="middle" >10°S</text>
<line x1="283.8" y1="666.5" x2="283.8" y2="676.5" stroke="#000" stroke-width="2.6"/>
<text x="284.8" y="722" font-size="48" text-anchor="middle" >5°S</text>
<line x1="420.5" y1="666.5" x2="420.5" y2="676.5" stroke="#000" stroke-width="2.6"/>
<text x="421.5" y="722" font-size="48" text-anchor="middle" >0°</text>
<line x1="557.1" y1="666.5" x2="557.1" y2="676.5" stroke="#000" stroke-width="2.6"/>
<text x="558.1" y="722" font-size="48" text-anchor="middle" >5°N</text>
<line x1="693.7" y1="666.5" x2="693.7" y2="676.5" stroke="#000" stroke-width="2.6"/>
<text x="694.7" y="722" font-size="48" text-anchor="middle" >10°N</text>
<line x1="830.3" y1="666.5" x2="830.3" y2="676.5" stroke="#000" stroke-width="2.6"/>
<text x="831.3" y="722" font-size="48" text-anchor="middle" >15°N</text>
<line x1="967" y1="666.5" x2="967" y2="676.5" stroke="#000" stroke-width="2.6"/>
<text x="968" y="722" font-size="48" text-anchor="middle" >20°N</text>
<line x1="1103.6" y1="666.5" x2="1103.6" y2="676.5" stroke="#000" stroke-width="2.6"/>
<text x="1104.6" y="722" font-size="48" text-anchor="middle" >25°N</text>
<text transform="translate(32.4 422.6) rotate(-90)" font-size="41.4" text-anchor="middle">Pressure (hPa)</text>
</g>
<g style="font-family:'Liberation Serif',serif" fill="#000">
<path d="M322.6 768.8L320.6 768.8L289 785.2L320.6 801.6L322.6 801.6Z" fill="#053061"/>
<path d="M928.6 768.8L930.6 768.8L961.5 785.2L930.6 801.6L928.6 801.6Z" fill="#67001f"/>
<rect x="320.6" y="768.8" width="26" height="32.8" fill="#0a3b70"/>
<rect x="346" y="768.8" width="26" height="32.8" fill="#175290"/>
<rect x="371.4" y="768.8" width="26" height="32.8" fill="#2267ac"/>
<rect x="396.9" y="768.8" width="26" height="32.8" fill="#307ab6"/>
<rect x="422.3" y="768.8" width="26" height="32.8" fill="#3f8ec0"/>
<rect x="447.7" y="768.8" width="26" height="32.8" fill="#59a1ca"/>
<rect x="473.1" y="768.8" width="26" height="32.8" fill="#7bb6d6"/>
<rect x="498.5" y="768.8" width="26" height="32.8" fill="#9bc9e0"/>
<rect x="523.9" y="768.8" width="26" height="32.8" fill="#b3d6e8"/>
<rect x="549.4" y="768.8" width="26" height="32.8" fill="#cfe4ef"/>
<rect x="574.8" y="768.8" width="26" height="32.8" fill="#e0ecf3"/>
<rect x="600.2" y="768.8" width="26" height="32.8" fill="#eff3f5"/>
<rect x="625.6" y="768.8" width="26" height="32.8" fill="#f8f1ed"/>
<rect x="651" y="768.8" width="26" height="32.8" fill="#fbe5d8"/>
<rect x="676.4" y="768.8" width="26" height="32.8" fill="#fdd9c4"/>
<rect x="701.9" y="768.8" width="26" height="32.8" fill="#f9c2a7"/>
<rect x="727.3" y="768.8" width="26" height="32.8" fill="#f5aa89"/>
<rect x="752.7" y="768.8" width="26" height="32.8" fill="#eb9172"/>
<rect x="778.1" y="768.8" width="26" height="32.8" fill="#de735c"/>
<rect x="803.5" y="768.8" width="26" height="32.8" fill="#d05548"/>
<rect x="828.9" y="768.8" width="26" height="32.8" fill="#c2383a"/>
<rect x="854.4" y="768.8" width="26" height="32.8" fill="#b3192c"/>
<rect x="879.8" y="768.8" width="26" height="32.8" fill="#930e26"/>
<rect x="905.2" y="768.8" width="25.4" height="32.8" fill="#760521"/>
<path d="M320.6 768.8L930.6 768.8L961.5 785.2L930.6 801.6L320.6 801.6L289 785.2Z" fill="none" stroke="#000" stroke-width="2.2" stroke-linejoin="miter"/>
<line x1="320.6" y1="801.6" x2="320.6" y2="812.1" stroke="#000" stroke-width="2.2"/>
<text x="320.6" y="852.8" font-size="42.5" text-anchor="middle" >-6.0</text>
<line x1="396.9" y1="801.6" x2="396.9" y2="812.1" stroke="#000" stroke-width="2.2"/>
<text x="396.9" y="852.8" font-size="42.5" text-anchor="middle" >-4.5</text>
<line x1="473.1" y1="801.6" x2="473.1" y2="812.1" stroke="#000" stroke-width="2.2"/>
<text x="473.1" y="852.8" font-size="42.5" text-anchor="middle" >-3.0</text>
<line x1="549.4" y1="801.6" x2="549.4" y2="812.1" stroke="#000" stroke-width="2.2"/>
<text x="549.4" y="852.8" font-size="42.5" text-anchor="middle" >-1.5</text>
<line x1="625.6" y1="801.6" x2="625.6" y2="812.1" stroke="#000" stroke-width="2.2"/>
<text x="625.6" y="852.8" font-size="42.5" text-anchor="middle" >0.0</text>
<line x1="701.9" y1="801.6" x2="701.9" y2="812.1" stroke="#000" stroke-width="2.2"/>
<text x="701.9" y="852.8" font-size="42.5" text-anchor="middle" >1.5</text>
<line x1="778.1" y1="801.6" x2="778.1" y2="812.1" stroke="#000" stroke-width="2.2"/>
<text x="778.1" y="852.8" font-size="42.5" text-anchor="middle" >3.0</text>
<line x1="854.4" y1="801.6" x2="854.4" y2="812.1" stroke="#000" stroke-width="2.2"/>
<text x="854.4" y="852.8" font-size="42.5" text-anchor="middle" >4.5</text>
<line x1="930.6" y1="801.6" x2="930.6" y2="812.1" stroke="#000" stroke-width="2.2"/>
<text x="930.6" y="852.8" font-size="42.5" text-anchor="middle" >6.0</text>
</g>
<clipPath id="clipB"><rect x="147.2" y="1010.4" width="956.2" height="477.2"/></clipPath>
<g clip-path="url(#clipB)">
<rect x="147.2" y="1010.4" width="956.2" height="477.2" fill="#3b4cc0"/>
<path d="M147.2 1505.5L165.1 1505.5L183.1 1505.5L201 1505.5L218.9 1505.5L236.8 1505.5L254.8 1505.5L272.7 1505.5L290.6 1505.5L308.6 1505.5L326.5 1505.5L344.4 1505.5L362.3 1505.5L380.3 1505.5L398.2 1505.5L416.1 1505.5L434.1 1505.5L452 1505.5L469.9 1505.5L487.8 1505.5L505.8 1505.5L523.7 1505.5L541.6 1505.5L559.6 1505.5L577.5 1505.5L595.4 1505.5L613.3 1505.5L631.3 1505.5L649.2 1505.5L667.1 1505.5L685.1 1505.5L703 1505.5L720.9 1505.5L738.8 1505.5L756.8 1505.5L774.7 1505.5L792.6 1505.5L810.6 1505.5L828.5 1505.5L846.4 1505.5L864.4 1505.5L882.3 1505.5L900.2 1505.5L918.1 1505.5L936.1 1505.5L954 1505.5L971.9 1505.5L989.9 1505.5L1007.8 1505.5L1025.7 1505.5L1043.6 1505.5L1061.6 1505.5L1079.5 1505.5L1097.4 1505.5L1115.4 1505.5L1133.3 1505.5L1133.3 1487.6L1133.3 1469.7L1133.3 1451.8L1133.3 1433.9L1133.3 1416L1133.3 1398.1L1133.3 1380.2L1133.3 1362.3L1133.3 1344.4L1133.3 1326.5L1133.3 1308.7L1133.3 1290.8L1133.3 1272.9L1133.3 1255L1133.3 1237.1L1133.3 1219.2L1133.3 1201.3L1133.3 1183.4L1133.3 1165.5L1133.3 1147.6L1133.3 1129.7L1133.3 1111.8L1133.3 1093.9L1133.3 1076L1133.3 1058.1L1133.3 1040.2L1133.3 1022.3L1133.3 1004.4L1133.3 986.5L1115.4 986.5L1097.4 986.5L1079.5 986.5L1061.6 986.5L1043.6 986.5L1025.7 986.5L1007.8 986.5L989.9 986.5L971.9 986.5L954 986.5L936.1 986.5L918.1 986.5L900.2 986.5L882.3 986.5L864.4 986.5L846.4 986.5L828.5 986.5L810.6 986.5L792.6 986.5L774.7 986.5L756.8 986.5L738.8 986.5L720.9 986.5L703 986.5L685.1 986.5L667.1 986.5L649.2 986.5L631.3 986.5L613.3 986.5L595.4 986.5L577.5 986.5L559.6 986.5L541.6 986.5L523.7 986.5L505.8 986.5L487.8 986.5L469.9 986.5L452 986.5L434.1 986.5L416.1 986.5L398.2 986.5L380.3 986.5L362.3 986.5L344.4 986.5L326.5 986.5L308.6 986.5L290.6 986.5L272.7 986.5L254.8 986.5L236.8 986.5L218.9 986.5L201 986.5L183.1 986.5L165.1 986.5L147.2 986.5L129.3 986.5L129.3 1004.4L129.3 1022.3L129.3 1040.2L129.3 1058.1L129.3 1076L129.3 1093.9L129.3 1111.8L129.3 1129.7L129.3 1147.6L129.3 1165.5L129.3 1183.4L129.3 1201.3L129.3 1219.2L129.3 1237.1L129.3 1255L129.3 1272.9L129.3 1290.8L129.3 1308.7L129.3 1326.5L129.3 1344.4L129.3 1362.3L129.3 1380.2L129.3 1398.1L129.3 1416L129.3 1433.9L129.3 1451.8L129.3 1469.7L129.3 1487.6L129.3 1505.5Z" fill="#445acc"/>
<path d="M147.2 1505.5L165.1 1505.5L183.1 1505.5L201 1505.5L218.9 1505.5L236.8 1505.5L254.8 1505.5L272.7 1505.5L290.6 1505.5L308.6 1505.5L326.5 1505.5L344.4 1505.5L362.3 1505.5L380.3 1505.5L398.2 1505.5L416.1 1505.5L434.1 1505.5L452 1505.5L469.9 1505.5L487.8 1505.5L505.8 1505.5L523.7 1505.5L541.6 1505.5L559.6 1505.5L577.5 1505.5L595.4 1505.5L613.3 1505.5L631.3 1505.5L649.2 1505.5L667.1 1505.5L685.1 1505.5L703 1505.5L720.9 1505.5L738.8 1505.5L756.8 1505.5L774.7 1505.5L792.6 1505.5L810.6 1505.5L828.5 1505.5L846.4 1505.5L864.4 1505.5L882.3 1505.5L900.2 1505.5L918.1 1505.5L936.1 1505.5L954 1505.5L971.9 1505.5L989.9 1505.5L1007.8 1505.5L1025.7 1505.5L1043.6 1505.5L1061.6 1505.5L1079.5 1505.5L1097.4 1505.5L1115.4 1505.5L1133.3 1505.5L1133.3 1487.6L1133.3 1469.7L1133.3 1451.8L1133.3 1433.9L1133.3 1416L1133.3 1398.1L1133.3 1380.2L1133.3 1362.3L1133.3 1344.4L1133.3 1326.5L1133.3 1308.7L1133.3 1290.8L1133.3 1272.9L1133.3 1255L1133.3 1237.1L1133.3 1219.2L1133.3 1201.3L1133.3 1183.4L1133.3 1165.5L1133.3 1147.6L1133.3 1129.7L1133.3 1111.8L1133.3 1093.9L1133.3 1076L1133.3 1058.1L1133.3 1040.2L1133.3 1022.3L1133.3 1004.4L1133.3 986.5L1115.4 986.5L1097.4 986.5L1079.5 986.5L1061.6 986.5L1043.6 986.5L1025.7 986.5L1007.8 986.5L989.9 986.5L971.9 986.5L954 986.5L936.1 986.5L918.1 986.5L900.2 986.5L882.3 986.5L864.4 986.5L846.4 986.5L828.5 986.5L810.6 986.5L792.6 986.5L774.7 986.5L756.8 986.5L738.8 986.5L720.9 986.5L703 986.5L685.1 986.5L667.1 986.5L649.2 986.5L631.3 986.5L613.3 986.5L595.4 986.5L577.5 986.5L559.6 986.5L541.6 986.5L523.7 986.5L505.8 986.5L487.8 986.5L469.9 986.5L452 986.5L434.1 986.5L416.1 986.5L398.2 986.5L380.3 986.5L362.3 986.5L344.4 986.5L326.5 986.5L308.6 986.5L290.6 986.5L272.7 986.5L254.8 986.5L236.8 986.5L218.9 986.5L201 986.5L183.1 986.5L165.1 986.5L147.2 986.5L129.3 986.5L129.3 1004.4L129.3 1022.3L129.3 1040.2L129.3 1058.1L129.3 1076L129.3 1093.9L129.3 1111.8L129.3 1129.7L129.3 1147.6L129.3 1165.5L129.3 1183.4L129.3 1201.3L129.3 1219.2L129.3 1237.1L129.3 1255L129.3 1272.9L129.3 1290.8L129.3 1308.7L129.3 1326.5L129.3 1344.4L129.3 1362.3L129.3 1380.2L129.3 1398.1L129.3 1416L129.3 1433.9L129.3 1451.8L129.3 1469.7L129.3 1487.6L129.3 1505.5Z" fill="#5673e0"/>
<path d="M147.2 1505.5L165.1 1505.5L183.1 1505.5L201 1505.5L218.9 1505.5L236.8 1505.5L254.8 1505.5L272.7 1505.5L290.6 1505.5L308.6 1505.5L326.5 1505.5L344.4 1505.5L362.3 1505.5L380.3 1505.5L398.2 1505.5L416.1 1505.5L434.1 1505.5L452 1505.5L469.9 1505.5L487.8 1505.5L505.8 1505.5L523.7 1505.5L541.6 1505.5L559.6 1505.5L577.5 1505.5L595.4 1505.5L613.3 1505.5L631.3 1505.5L649.2 1505.5L667.1 1505.5L685.1 1505.5L703 1505.5L720.9 1505.5L738.8 1505.5L756.8 1505.5L774.7 1505.5L792.6 1505.5L810.6 1505.5L828.5 1505.5L846.4 1505.5L864.4 1505.5L882.3 1505.5L900.2 1505.5L918.1 1505.5L936.1 1505.5L954 1505.5L971.9 1505.5L989.9 1505.5L1007.8 1505.5L1025.7 1505.5L1043.6 1505.5L1061.6 1505.5L1079.5 1505.5L1097.4 1505.5L1115.4 1505.5L1133.3 1505.5L1133.3 1487.6L1133.3 1469.7L1133.3 1451.8L1133.3 1433.9L1133.3 1416L1133.3 1398.1L1133.3 1380.2L1133.3 1362.3L1133.3 1344.4L1133.3 1326.5L1133.3 1308.7L1133.3 1290.8L1133.3 1272.9L1133.3 1255L1133.3 1237.1L1133.3 1219.2L1133.3 1201.3L1133.3 1183.4L1133.3 1165.5L1133.3 1147.6L1133.3 1129.7L1133.3 1111.8L1133.3 1093.9L1133.3 1076L1133.3 1058.1L1133.3 1040.2L1133.3 1022.3L1133.3 1004.4L1133.3 986.5L1115.4 986.5L1097.4 986.5L1079.5 986.5L1061.6 986.5L1043.6 986.5L1025.7 986.5L1007.8 986.5L989.9 986.5L971.9 986.5L954 986.5L936.1 986.5L918.1 986.5L900.2 986.5L882.3 986.5L864.4 986.5L846.4 986.5L828.5 986.5L810.6 986.5L792.6 986.5L774.7 986.5L756.8 986.5L738.8 986.5L720.9 986.5L703 986.5L685.1 986.5L667.1 986.5L649.2 986.5L631.3 986.5L613.3 986.5L595.4 986.5L577.5 986.5L559.6 986.5L541.6 986.5L523.7 986.5L505.8 986.5L487.8 986.5L469.9 986.5L452 986.5L434.1 986.5L416.1 986.5L398.2 986.5L380.3 986.5L362.3 986.5L344.4 986.5L326.5 986.5L308.6 986.5L290.6 986.5L272.7 986.5L254.8 986.5L236.8 986.5L218.9 986.5L201 986.5L183.1 986.5L165.1 986.5L147.2 986.5L129.3 986.5L129.3 1004.4L129.3 1022.3L129.3 1040.2L129.3 1058.1L129.3 1076L129.3 1093.9L129.3 1111.8L129.3 1129.7L129.3 1147.6L129.3 1165.5L129.3 1183.4L129.3 1201.3L129.3 1219.2L129.3 1237.1L129.3 1255L129.3 1272.9L129.3 1290.8L129.3 1308.7L129.3 1326.5L129.3 1344.4L129.3 1362.3L129.3 1380.2L129.3 1398.1L129.3 1416L129.3 1433.9L129.3 1451.8L129.3 1469.7L129.3 1487.6L129.3 1505.5ZM415.8 1076L413.4 1058.1L416.1 1051.8L421 1058.1L416.7 1076L416.1 1076.5ZM448.5 1058.1L444 1040.2L452 1028.6L457.9 1040.2L454 1058.1L452 1060.6ZM577.1 1040.2L570.7 1022.3L577.5 1014L595.4 1020.3L596.6 1022.3L595.4 1025.6L578.6 1040.2L577.5 1040.5Z" fill="#6c8ff1"/>
<path d="M147.2 1505.5L165.1 1505.5L183.1 1505.5L201 1505.5L218.9 1505.5L236.8 1505.5L254.8 1505.5L272.7 1505.5L290.6 1505.5L308.6 1505.5L326.5 1505.5L344.4 1505.5L362.3 1505.5L380.3 1505.5L398.2 1505.5L416.1 1505.5L434.1 1505.5L452 1505.5L469.9 1505.5L487.8 1505.5L505.8 1505.5L523.7 1505.5L541.6 1505.5L559.6 1505.5L577.5 1505.5L595.4 1505.5L613.3 1505.5L631.3 1505.5L649.2 1505.5L667.1 1505.5L685.1 1505.5L703 1505.5L720.9 1505.5L738.8 1505.5L756.8 1505.5L774.7 1505.5L792.6 1505.5L810.6 1505.5L828.5 1505.5L846.4 1505.5L864.4 1505.5L882.3 1505.5L900.2 1505.5L918.1 1505.5L936.1 1505.5L954 1505.5L971.9 1505.5L989.9 1505.5L1007.8 1505.5L1025.7 1505.5L1043.6 1505.5L1061.6 1505.5L1079.5 1505.5L1097.4 1505.5L1115.4 1505.5L1133.3 1505.5L1133.3 1487.6L1133.3 1469.7L1133.3 1451.8L1133.3 1433.9L1133.3 1416L1133.3 1398.1L1133.3 1380.2L1133.3 1362.3L1133.3 1344.4L1133.3 1326.5L1133.3 1308.7L1133.3 1290.8L1133.3 1272.9L1133.3 1255L1133.3 1237.1L1133.3 1219.2L1133.3 1201.3L1133.3 1183.4L1133.3 1165.5L1133.3 1147.6L1133.3 1129.7L1133.3 1111.8L1133.3 1093.9L1133.3 1076L1133.3 1058.1L1133.3 1040.2L1133.3 1022.3L1133.3 1004.4L1133.3 986.5L1115.4 986.5L1097.4 986.5L1079.5 986.5L1061.6 986.5L1043.6 986.5L1025.7 986.5L1007.8 986.5L989.9 986.5L971.9 986.5L954 986.5L936.1 986.5L918.1 986.5L900.2 986.5L882.3 986.5L864.4 986.5L846.4 986.5L828.5 986.5L810.6 986.5L792.6 986.5L774.7 986.5L756.8 986.5L738.8 986.5L720.9 986.5L703 986.5L685.1 986.5L667.1 986.5L649.2 986.5L631.3 986.5L613.3 986.5L595.4 986.5L577.5 986.5L559.6 986.5L541.6 986.5L523.7 986.5L505.8 986.5L487.8 986.5L469.9 986.5L452 986.5L434.1 986.5L416.1 986.5L398.2 986.5L380.3 986.5L362.3 986.5L344.4 986.5L326.5 986.5L308.6 986.5L290.6 986.5L272.7 986.5L254.8 986.5L236.8 986.5L218.9 986.5L201 986.5L183.1 986.5L165.1 986.5L147.2 986.5L129.3 986.5L129.3 1004.4L129.3 1022.3L129.3 1040.2L129.3 1058.1L129.3 1076L129.3 1093.9L129.3 1111.8L129.3 1129.7L129.3 1147.6L129.3 1165.5L129.3 1183.4L129.3 1201.3L129.3 1219.2L129.3 1237.1L129.3 1255L129.3 1272.9L129.3 1290.8L129.3 1308.7L129.3 1326.5L129.3 1344.4L129.3 1362.3L129.3 1380.2L129.3 1398.1L129.3 1416L129.3 1433.9L129.3 1451.8L129.3 1469.7L129.3 1487.6L129.3 1505.5ZM271.5 1111.8L272.7 1110.4L290.6 1109.3L293.2 1111.8L290.6 1112.7L272.7 1112.3ZM534.3 1111.8L536.1 1093.9L541.6 1091.4L543.8 1093.9L545.3 1111.8L541.6 1115.2ZM569.9 1111.8L577.5 1096.7L595.4 1110.1L595.7 1111.8L595.4 1112.4L577.5 1118.7ZM380.3 1076L380.3 1075.9L380.3 1076L380.3 1076.1ZM406.8 1076L403.7 1058.1L407.3 1040.2L416.1 1031.1L434.1 1034.7L440.6 1022.3L452 1013.5L460.6 1022.3L466.7 1040.2L464.6 1058.1L452 1073.6L434.1 1066.3L430.4 1076L416.1 1088.5ZM565.3 1040.2L560.1 1022.3L569.1 1004.4L577.5 998.1L595.4 1002.3L597.4 1004.4L606.2 1022.3L600 1040.2L595.4 1044.8L577.5 1049.3Z" fill="#82a6fb"/>
<path d="M147.2 1505.5L165.1 1505.5L183.1 1505.5L201 1505.5L218.9 1505.5L236.8 1505.5L254.8 1505.5L272.7 1505.5L290.6 1505.5L308.6 1505.5L326.5 1505.5L344.4 1505.5L362.3 1505.5L380.3 1505.5L398.2 1505.5L416.1 1505.5L434.1 1505.5L452 1505.5L469.9 1505.5L487.8 1505.5L505.8 1505.5L523.7 1505.5L541.6 1505.5L559.6 1505.5L577.5 1505.5L595.4 1505.5L613.3 1505.5L631.3 1505.5L649.2 1505.5L667.1 1505.5L685.1 1505.5L703 1505.5L720.9 1505.5L738.8 1505.5L756.8 1505.5L774.7 1505.5L792.6 1505.5L810.6 1505.5L828.5 1505.5L846.4 1505.5L864.4 1505.5L882.3 1505.5L900.2 1505.5L918.1 1505.5L936.1 1505.5L954 1505.5L971.9 1505.5L989.9 1505.5L1007.8 1505.5L1025.7 1505.5L1043.6 1505.5L1061.6 1505.5L1079.5 1505.5L1097.4 1505.5L1115.4 1505.5L1133.3 1505.5L1133.3 1487.6L1133.3 1469.7L1133.3 1451.8L1133.3 1433.9L1133.3 1416L1133.3 1398.1L1133.3 1380.2L1133.3 1362.3L1133.3 1344.4L1133.3 1326.5L1133.3 1308.7L1133.3 1290.8L1133.3 1272.9L1133.3 1255L1133.3 1237.1L1133.3 1219.2L1133.3 1201.3L1133.3 1183.4L1133.3 1165.5L1133.3 1147.6L1133.3 1129.7L1133.3 1111.8L1133.3 1093.9L1133.3 1076L1133.3 1058.1L1133.3 1040.2L1133.3 1022.3L1133.3 1004.4L1133.3 986.5L1115.4 986.5L1097.4 986.5L1079.5 986.5L1061.6 986.5L1043.6 986.5L1025.7 986.5L1007.8 986.5L989.9 986.5L971.9 986.5L954 986.5L936.1 986.5L918.1 986.5L900.2 986.5L882.3 986.5L864.4 986.5L846.4 986.5L828.5 986.5L810.6 986.5L792.6 986.5L774.7 986.5L756.8 986.5L742 986.5L742 1004.4L738.8 1006L727.4 1004.4L727.4 986.5L720.9 986.5L703 986.5L685.1 986.5L667.1 986.5L649.2 986.5L631.3 986.5L625.3 986.5L628.4 1004.4L618.5 1022.3L613.3 1029.9L609.9 1040.2L595.4 1054.5L577.5 1058.1L559.6 1052.1L550.2 1040.2L545.1 1022.3L541.6 1010.6L535.4 1004.4L537.5 986.5L523.7 986.5L505.8 986.5L487.8 986.5L469.9 986.5L455.4 986.5L465.4 1004.4L469.9 1009.3L481 1022.3L485.8 1040.2L484.8 1058.1L472.3 1076L469.9 1077.3L452 1088.4L434.1 1090L429.2 1093.9L416.1 1100.4L407.2 1093.9L398.2 1077L390.8 1093.9L380.5 1111.8L380.3 1112.1L379.8 1111.8L365.4 1093.9L362.3 1079.2L361.4 1076L359.6 1058.1L360.6 1040.2L362.3 1035.8L374.3 1022.3L380.3 1019.8L398.2 1016.5L416.1 1008.6L433.9 1004.4L434.1 1003.6L441.3 986.5L434.1 986.5L416.1 986.5L398.2 986.5L380.3 986.5L362.3 986.5L344.4 986.5L326.5 986.5L308.6 986.5L290.6 986.5L272.7 986.5L254.8 986.5L236.8 986.5L218.9 986.5L201 986.5L183.1 986.5L165.1 986.5L147.2 986.5L129.3 986.5L129.3 1004.4L129.3 1022.3L129.3 1040.2L129.3 1058.1L129.3 1076L129.3 1093.9L129.3 1111.8L129.3 1129.7L129.3 1147.6L129.3 1165.5L129.3 1183.4L129.3 1201.3L129.3 1219.2L129.3 1237.1L129.3 1255L129.3 1272.9L129.3 1290.8L129.3 1308.7L129.3 1326.5L129.3 1344.4L129.3 1362.3L129.3 1380.2L129.3 1398.1L129.3 1416L129.3 1433.9L129.3 1451.8L129.3 1469.7L129.3 1487.6L129.3 1505.5ZM532.9 1129.7L523.7 1125.5L514.7 1111.8L512.2 1093.9L517.9 1076L523.7 1070.4L541.6 1067.2L554.2 1076L559.6 1082.7L577.5 1078.7L595.4 1085.5L599.2 1093.9L600.4 1111.8L595.4 1123.5L580.9 1129.7L577.5 1130.7L572.9 1129.7L559.6 1119.1L547.8 1129.7L541.6 1131.9ZM247.3 1111.8L254.8 1094L254.8 1093.9L272.7 1085.6L290.6 1085L308.6 1090.7L313.4 1093.9L320.5 1111.8L308.6 1118.9L290.6 1124.5L272.7 1124.5L254.8 1117.8Z" fill="#98b9ff"/>
<path d="M147.2 1505.5L165.1 1505.5L183.1 1505.5L201 1505.5L218.9 1505.5L236.8 1505.5L254.8 1505.5L272.7 1505.5L290.6 1505.5L308.6 1505.5L326.5 1505.5L344.4 1505.5L362.3 1505.5L380.3 1505.5L398.2 1505.5L416.1 1505.5L434.1 1505.5L452 1505.5L469.9 1505.5L487.8 1505.5L505.8 1505.5L523.7 1505.5L541.6 1505.5L559.6 1505.5L577.5 1505.5L595.4 1505.5L613.3 1505.5L631.3 1505.5L649.2 1505.5L667.1 1505.5L685.1 1505.5L703 1505.5L720.9 1505.5L738.8 1505.5L756.8 1505.5L774.7 1505.5L792.6 1505.5L810.6 1505.5L828.5 1505.5L846.4 1505.5L864.4 1505.5L882.3 1505.5L900.2 1505.5L918.1 1505.5L936.1 1505.5L954 1505.5L971.9 1505.5L989.9 1505.5L1007.8 1505.5L1025.7 1505.5L1043.6 1505.5L1061.6 1505.5L1079.5 1505.5L1097.4 1505.5L1115.4 1505.5L1133.3 1505.5L1133.3 1487.6L1133.3 1469.7L1133.3 1451.8L1133.3 1433.9L1133.3 1416L1133.3 1398.1L1133.3 1380.2L1133.3 1362.3L1133.3 1344.4L1133.3 1326.5L1133.3 1308.7L1133.3 1290.8L1133.3 1272.9L1133.3 1255L1133.3 1237.1L1133.3 1219.2L1133.3 1201.3L1133.3 1183.4L1133.3 1165.5L1133.3 1147.6L1133.3 1129.7L1133.3 1111.8L1133.3 1093.9L1133.3 1076L1133.3 1058.1L1133.3 1040.2L1133.3 1022.3L1133.3 1004.4L1133.3 986.5L1115.4 986.5L1097.4 986.5L1079.5 986.5L1061.6 986.5L1043.6 986.5L1025.7 986.5L1007.8 986.5L989.9 986.5L971.9 986.5L954 986.5L936.1 986.5L918.1 986.5L900.2 986.5L882.3 986.5L864.4 986.5L846.4 986.5L828.5 986.5L810.6 986.5L792.6 986.5L775.1 986.5L775.1 1004.4L774.7 1006L766.8 1022.3L756.8 1031L738.8 1033.8L720.9 1031.8L703 1025.8L694.4 1022.3L685.1 1019.3L667.1 1019.6L658.3 1022.3L649.2 1025.8L631.3 1035.2L628 1040.2L613.3 1055.9L611.1 1058.1L605.2 1076L607.1 1093.9L605.1 1111.8L597.6 1129.7L595.4 1132.9L577.5 1138.4L559.6 1137.4L541.6 1142.8L523.7 1139.4L511.1 1129.7L505.8 1120.1L493 1111.8L487.8 1107.7L469.9 1105.1L452 1106.1L434.1 1107.8L418.5 1111.8L416.1 1112.4L413.7 1111.8L398.2 1105.9L395 1111.8L380.3 1129L362.3 1120.1L344.4 1115.4L326.5 1125L316.3 1129.7L308.6 1131.9L290.6 1135L272.7 1135.3L254.8 1132.2L247.9 1129.7L236.8 1122L227.8 1111.8L230.9 1093.9L236.8 1085.7L248.6 1076L254.8 1071.6L272.7 1063.8L290.6 1058.9L293.5 1058.1L308.6 1050.6L315.4 1040.2L323.3 1022.3L326.5 1004.4L326.5 986.5L308.6 986.5L290.6 986.5L272.7 986.5L254.8 986.5L236.8 986.5L218.9 986.5L201 986.5L183.1 986.5L165.1 986.5L147.2 986.5L129.3 986.5L129.3 1004.4L129.3 1022.3L129.3 1040.2L129.3 1058.1L129.3 1076L129.3 1093.9L129.3 1111.8L129.3 1129.7L129.3 1147.6L129.3 1165.5L129.3 1183.4L129.3 1201.3L129.3 1219.2L129.3 1237.1L129.3 1255L129.3 1272.9L129.3 1290.8L129.3 1308.7L129.3 1326.5L129.3 1344.4L129.3 1362.3L129.3 1380.2L129.3 1398.1L129.3 1416L129.3 1433.9L129.3 1451.8L129.3 1469.7L129.3 1487.6L129.3 1505.5ZM810.6 1111.8L810.6 1111.8L792.6 1096.2L790.2 1093.9L787.9 1076L792.6 1066.2L797.5 1058.1L810.6 1050.7L828.5 1043.4L839.4 1040.2L846.4 1038.6L864.4 1036.4L882.3 1027L899.8 1040.2L900.2 1040.6L904.4 1058.1L905.6 1076L904.1 1093.9L900.2 1109.2L898.3 1111.8L882.3 1123.6L864.4 1115.1L846.4 1117.8L828.5 1116.9Z" fill="#adc9fd"/>
<path d="M147.2 1505.5L165.1 1505.5L183.1 1505.5L201 1505.5L218.9 1505.5L236.8 1505.5L254.8 1505.5L272.7 1505.5L290.6 1505.5L308.6 1505.5L326.5 1505.5L344.4 1505.5L362.3 1505.5L380.3 1505.5L398.2 1505.5L416.1 1505.5L434.1 1505.5L452 1505.5L469.9 1505.5L487.8 1505.5L505.8 1505.5L523.7 1505.5L541.6 1505.5L559.6 1505.5L577.5 1505.5L595.4 1505.5L613.3 1505.5L631.3 1505.5L649.2 1505.5L667.1 1505.5L685.1 1505.5L703 1505.5L720.9 1505.5L738.8 1505.5L756.8 1505.5L774.7 1505.5L792.6 1505.5L810.6 1505.5L828.5 1505.5L846.4 1505.5L864.4 1505.5L882.3 1505.5L900.2 1505.5L918.1 1505.5L936.1 1505.5L954 1505.5L971.9 1505.5L989.9 1505.5L1007.8 1505.5L1025.7 1505.5L1043.6 1505.5L1061.6 1505.5L1079.5 1505.5L1097.4 1505.5L1115.4 1505.5L1133.3 1505.5L1133.3 1487.6L1133.3 1469.7L1133.3 1451.8L1133.3 1433.9L1133.3 1416L1133.3 1398.1L1133.3 1380.2L1133.3 1362.3L1133.3 1344.4L1133.3 1326.5L1133.3 1308.7L1133.3 1290.8L1133.3 1272.9L1133.3 1255L1133.3 1237.1L1133.3 1219.2L1133.3 1201.3L1133.3 1183.4L1133.3 1165.5L1133.3 1147.6L1133.3 1129.7L1133.3 1111.8L1133.3 1093.9L1133.3 1076L1133.3 1058.1L1133.3 1040.2L1133.3 1022.3L1133.3 1004.4L1133.3 986.5L1115.4 986.5L1097.4 986.5L1079.5 986.5L1061.6 986.5L1043.6 986.5L1025.7 986.5L1007.8 986.5L989.9 986.5L971.9 986.5L954 986.5L936.1 986.5L918.1 986.5L906.8 986.5L909.1 1004.4L914.2 1022.3L917.1 1040.2L917.7 1058.1L917 1076L915 1093.9L911 1111.8L903.1 1129.7L900.2 1133.7L882.3 1142.1L864.4 1138.7L846.4 1140.8L828.5 1141.2L810.6 1139.5L792.6 1136.7L774.7 1133.6L756.8 1130.9L743.7 1129.7L738.8 1129L720.9 1127.6L703 1125.7L685.1 1122L667.1 1116.3L651.6 1111.8L649.2 1110.3L637.5 1093.9L631.3 1086.7L621.9 1093.9L613.3 1098L609.9 1111.8L602.4 1129.7L595.4 1140L577.5 1146.1L568.3 1147.6L559.6 1149.4L541.6 1153.4L523.7 1151.9L513.2 1147.6L505.8 1142.8L487.8 1134L474.6 1129.7L469.9 1128.1L452 1125.8L434.1 1126.8L419.1 1129.7L416.1 1130.5L398.2 1135L383.1 1147.6L380.3 1149.4L375.2 1147.6L362.3 1143.6L344.4 1138.6L326.5 1140.2L308.6 1142.8L290.6 1144.5L272.7 1145.1L254.8 1144.3L236.8 1141.2L218.9 1132.5L215.7 1129.7L205.6 1111.8L205.4 1093.9L211.1 1076L218.9 1066.5L228.1 1058.1L236.8 1054.4L254.8 1047.9L272.7 1040.9L274.1 1040.2L290.6 1032.8L301.5 1022.3L308.6 1008L310 1004.4L310 986.5L308.6 986.5L290.6 986.5L272.7 986.5L254.8 986.5L236.8 986.5L218.9 986.5L201 986.5L183.1 986.5L165.1 986.5L147.2 986.5L129.3 986.5L129.3 1004.4L129.3 1022.3L129.3 1033.4L147.2 1033.4L153.2 1040.2L147.2 1054.8L129.3 1054.7L129.3 1058.1L129.3 1076L129.3 1093.9L129.3 1111.8L129.3 1129.7L129.3 1147.6L129.3 1165.5L129.3 1183.4L129.3 1201.3L129.3 1219.2L129.3 1237.1L129.3 1255L129.3 1272.9L129.3 1290.8L129.3 1308.7L129.3 1326.5L129.3 1344.4L129.3 1362.3L129.3 1380.2L129.3 1398.1L129.3 1416L129.3 1433.9L129.3 1451.8L129.3 1469.7L129.3 1487.6L129.3 1505.5ZM1017.1 1326.5L1025.7 1323.2L1043.6 1318.8L1061.6 1317.3L1079.5 1318.8L1097.4 1323.7L1103.7 1326.5L1097.4 1329.2L1079.5 1333.8L1061.6 1336.4L1043.6 1337.3L1025.7 1334.3ZM810.6 1007.9L828.5 1005.8L830.8 1004.4L830.8 986.5L828.5 986.5L810.6 986.5L807.1 986.5L807.1 1004.4Z" fill="#c3d5f4"/>
<path d="M147.2 1505.5L165.1 1505.5L183.1 1505.5L201 1505.5L218.9 1505.5L236.8 1505.5L254.8 1505.5L272.7 1505.5L290.6 1505.5L308.6 1505.5L326.5 1505.5L344.4 1505.5L362.3 1505.5L380.3 1505.5L398.2 1505.5L416.1 1505.5L434.1 1505.5L452 1505.5L469.9 1505.5L487.8 1505.5L505.8 1505.5L523.7 1505.5L541.6 1505.5L559.6 1505.5L577.5 1505.5L595.4 1505.5L613.3 1505.5L631.3 1505.5L649.2 1505.5L667.1 1505.5L685.1 1505.5L703 1505.5L720.9 1505.5L738.8 1505.5L756.8 1505.5L774.7 1505.5L792.6 1505.5L810.6 1505.5L828.5 1505.5L846.4 1505.5L864.4 1505.5L882.3 1505.5L900.2 1505.5L918.1 1505.5L936.1 1505.5L954 1505.5L956.8 1505.5L956.8 1487.6L954 1480.9L948.2 1469.7L952.7 1451.8L954 1449.8L962 1433.9L966.6 1416L968.5 1398.1L969.3 1380.2L969.3 1362.3L969.9 1344.4L971.9 1336.4L975.1 1326.5L989.9 1315.7L1006.5 1308.7L1007.8 1308.3L1025.7 1304.4L1043.6 1301.1L1061.6 1298L1079.5 1294.9L1097.4 1290.8L1098.3 1290.8L1115.4 1289.5L1133.3 1289.5L1133.3 1272.9L1133.3 1255L1133.3 1237.1L1133.3 1219.2L1133.3 1201.3L1133.3 1183.4L1133.3 1165.5L1133.3 1147.6L1133.3 1129.7L1133.3 1111.8L1133.3 1093.9L1133.3 1076L1133.3 1058.1L1133.3 1040.2L1133.3 1022.3L1133.3 1004.4L1133.3 986.5L1115.4 986.5L1097.4 986.5L1079.5 986.5L1061.6 986.5L1043.6 986.5L1025.7 986.5L1007.8 986.5L989.9 986.5L971.9 986.5L963.8 986.5L963.8 1004.4L954 1011.2L947.1 1022.3L942.5 1040.2L941.2 1058.1L939.8 1076L936.1 1092.2L935.7 1093.9L928.4 1111.8L918.1 1125.3L916.5 1129.7L904.7 1147.6L900.2 1152.3L882.3 1158.5L864.4 1156.6L846.4 1158.5L828.5 1159.4L810.6 1159.2L792.6 1157.9L774.7 1155.5L756.8 1151.8L738.8 1147.8L738.2 1147.6L720.9 1143.5L703 1139.9L685.1 1136.3L667.1 1132.2L653.6 1129.7L649.2 1128.4L636.9 1111.8L631.3 1105.2L620.1 1111.8L613.3 1115L607.3 1129.7L595.4 1147.2L594.3 1147.6L577.5 1154L559.6 1159.1L541.6 1163.7L523.7 1164.4L505.8 1161L487.8 1155L469.9 1149.1L460.2 1147.6L452 1146.4L443.4 1147.6L434.1 1149.3L416.1 1159L406.9 1165.5L398.2 1172.1L380.3 1177.8L362.3 1170.8L355.8 1165.5L344.4 1158.7L326.5 1152.2L308.6 1155.1L290.6 1158.5L272.7 1160L254.8 1161.4L236.8 1162.8L218.9 1163.5L201 1160.7L197.5 1147.6L191.3 1129.7L183.1 1115L180.1 1111.8L170.1 1093.9L165.1 1088.4L147.2 1085.1L129.3 1085L129.3 1093.9L129.3 1111.8L129.3 1129.7L129.3 1147.6L129.3 1165.5L129.3 1183.4L129.3 1201.3L129.3 1219.2L129.3 1237.1L129.3 1255L129.3 1272.9L129.3 1290.8L129.3 1308.7L129.3 1326.5L129.3 1344.4L129.3 1362.3L129.3 1380.2L129.3 1398.1L129.3 1416L129.3 1433.9L129.3 1451.8L129.3 1469.7L129.3 1487.6L129.3 1505.5ZM1025.7 1505.5L1043.6 1505.5L1061.6 1505.5L1079.5 1505.5L1097.4 1505.5L1115.4 1505.5L1133.3 1505.5L1133.3 1487.6L1133.3 1470.7L1115.4 1470.7L1112 1469.7L1097.4 1459.8L1092.9 1451.8L1088.8 1433.9L1086.4 1416L1083 1398.1L1079.5 1389.6L1061.6 1390.5L1052 1398.1L1043.6 1404.8L1032.9 1416L1025.7 1424.9L1018.2 1433.9L1010 1451.8L1010.4 1469.7L1023.9 1487.6L1023.9 1505.5ZM201 1032.5L218.9 1035.6L236.8 1034.9L254.8 1032.4L272.7 1027.1L280.6 1022.3L290.6 1013.1L296.3 1004.4L296.3 986.5L290.6 986.5L272.7 986.5L254.8 986.5L236.8 986.5L218.9 986.5L201 986.5L183.1 986.5L175.2 986.5L175.2 1004.4L183.1 1013.9L188.5 1022.3Z" fill="#d4dbe6"/>
<path d="M147.2 1505.5L165.1 1505.5L183.1 1505.5L201 1505.5L218.9 1505.5L236.8 1505.5L254.8 1505.5L272.7 1505.5L290.6 1505.5L308.6 1505.5L326.5 1505.5L344.4 1505.5L362.3 1505.5L380.3 1505.5L398.2 1505.5L416.1 1505.5L434.1 1505.5L452 1505.5L469.9 1505.5L487.8 1505.5L505.8 1505.5L523.7 1505.5L541.6 1505.5L559.6 1505.5L577.5 1505.5L595.4 1505.5L613.3 1505.5L631.3 1505.5L649.2 1505.5L667.1 1505.5L685.1 1505.5L703 1505.5L720.9 1505.5L738.8 1505.5L756.8 1505.5L774.7 1505.5L792.6 1505.5L810.6 1505.5L828.5 1505.5L846.4 1505.5L864.4 1505.5L880.6 1505.5L880.6 1487.6L871.4 1469.7L873 1451.8L881.3 1433.9L882.3 1432.7L900.2 1421.5L918.1 1416.8L919.3 1416L936.1 1412.5L948.1 1398.1L947.5 1380.2L942.2 1362.3L942 1344.4L943.1 1326.5L954 1309.1L954.4 1308.7L971.9 1300.9L989.9 1295.9L1007.8 1291.8L1012.8 1290.8L1025.7 1288.1L1043.6 1283.7L1061.6 1278L1074.7 1272.9L1079.5 1271L1097.4 1265.3L1115.4 1264.1L1133.3 1264.1L1133.3 1255L1133.3 1237.1L1133.3 1219.2L1133.3 1201.3L1133.3 1183.4L1133.3 1165.5L1133.3 1147.6L1133.3 1129.7L1133.3 1111.8L1133.3 1093.9L1133.3 1076L1133.3 1058.1L1133.3 1040.2L1133.3 1022.3L1133.3 1020L1115.4 1020L1097.4 1020.1L1079.5 1019.5L1061.6 1018.5L1043.6 1017.8L1025.7 1017.9L1007.8 1019.5L995.5 1022.3L989.9 1024.2L971.9 1039.1L971.1 1040.2L968.8 1058.1L971 1076L971.9 1082L974.4 1093.9L971.9 1107.6L971 1111.8L954 1125.5L949.4 1129.7L936.1 1137.8L925.3 1147.6L918.1 1153.6L907 1165.5L900.2 1171.9L882.3 1176.9L864.4 1175.5L846.4 1176.8L828.5 1177.5L810.6 1177.7L792.6 1177.3L774.7 1175.3L756.8 1170.4L745.9 1165.5L738.8 1163.1L720.9 1156.6L703 1151.5L686.2 1147.6L685.1 1147.3L667.1 1142.8L649.2 1139.5L641.2 1129.7L631.3 1117.6L613.3 1126.7L612.1 1129.7L601.2 1147.6L595.4 1155.4L577.5 1162.1L567.5 1165.5L559.6 1168.4L541.6 1175L523.7 1178.8L505.8 1180.2L487.8 1178.1L469.9 1173.7L452 1172.2L434.1 1179.9L429.7 1183.4L416.1 1195L401.8 1201.3L398.2 1202.3L380.3 1201.8L379.1 1201.3L362.3 1193.2L354.4 1183.4L344.4 1174.5L333.4 1165.5L326.5 1161.7L315 1165.5L308.6 1168.3L290.6 1178.8L272.7 1181.9L266 1183.4L254.8 1187.1L236.8 1194L219.5 1201.3L218.9 1201.6L201 1210.6L183.1 1217.4L176.5 1219.2L165.1 1222L147.2 1223.5L129.3 1223.5L129.3 1237.1L129.3 1255L129.3 1272.9L129.3 1290.8L129.3 1308.7L129.3 1326.5L129.3 1344.4L129.3 1362.3L129.3 1380.2L129.3 1398.1L129.3 1416L129.3 1433.9L129.3 1451.8L129.3 1469.7L129.3 1487.6L129.3 1505.5ZM165.1 1165.8L165.5 1165.5L182.6 1147.6L173 1129.7L165.1 1121.4L148.5 1111.8L147.2 1110.8L129.3 1110.8L129.3 1111.8L129.3 1129.7L129.3 1147.6L129.3 1163.7L147.2 1164.2L160.5 1165.5ZM218.9 1014.7L236.8 1020.2L254.8 1019.5L272.7 1012.6L281.4 1004.4L281.4 986.5L272.7 986.5L254.8 986.5L236.8 986.5L218.9 986.5L207.1 986.5L207.1 1004.4Z" fill="#e5d8d1"/>
<path d="M147.2 1505.5L165.1 1505.5L183.1 1505.5L201 1505.5L218.9 1505.5L236.8 1505.5L254.8 1505.5L272.7 1505.5L290.6 1505.5L308.6 1505.5L326.5 1505.5L344.4 1505.5L362.3 1505.5L380.3 1505.5L398.2 1505.5L416.1 1505.5L434.1 1505.5L452 1505.5L469.9 1505.5L487.8 1505.5L505.8 1505.5L523.7 1505.5L541.6 1505.5L559.6 1505.5L577.5 1505.5L595.4 1505.5L613.3 1505.5L631.3 1505.5L649.2 1505.5L667.1 1505.5L685.1 1505.5L703 1505.5L720.9 1505.5L738.8 1505.5L756.8 1505.5L774.7 1505.5L792.6 1505.5L810.6 1505.5L828.5 1505.5L846.4 1505.5L847.6 1505.5L847.6 1487.6L848.6 1469.7L850.6 1451.8L854.1 1433.9L859.8 1416L864.4 1406.7L872.9 1398.1L882.3 1392.5L899.2 1380.2L900.2 1379.1L900.8 1380.2L904.9 1398.1L918.1 1407.9L936.1 1401.2L938.6 1398.1L936.1 1385.5L933.5 1380.2L918.1 1366.4L911.5 1362.3L908.7 1344.4L902.4 1326.5L900.2 1320.9L892.5 1308.7L882.3 1298.1L876.1 1290.8L864.4 1277.9L862.2 1272.9L857.5 1255L857.2 1237.1L858.6 1219.2L846.4 1206.5L835.2 1201.3L828.5 1200.2L810.6 1198.7L792.6 1199.2L774.7 1199.7L756.8 1194.6L744.8 1183.4L738.8 1180.3L720.9 1169.6L712.7 1165.5L703 1162L685.1 1156.7L667.1 1152.5L649.2 1149.8L647.2 1147.6L632.6 1129.7L631.3 1128.1L628.2 1129.7L613.3 1137.5L607.4 1147.6L595.4 1163.6L590.3 1165.5L577.5 1169.8L559.6 1177.2L546.5 1183.4L541.6 1187.3L523.7 1197.7L516.1 1201.3L505.8 1215.8L502.8 1219.2L499.1 1237.1L497.1 1255L491 1272.9L487.8 1277.7L469.9 1284L452 1282.2L434.5 1272.9L434.1 1272.5L425.3 1255L416.1 1239.4L414.4 1237.1L398.2 1229.3L380.3 1221.7L377.6 1219.2L362.3 1209.6L349.3 1201.3L344.4 1194.5L342.2 1183.4L326.5 1168.8L308.6 1180.4L304.4 1183.4L304.9 1201.3L292.6 1219.2L290.6 1226.5L284 1237.1L282.9 1255L285.2 1272.9L289.4 1290.8L290.6 1294.2L292.5 1308.7L296.9 1326.5L303.7 1344.4L308.6 1361.6L308.6 1362.3L308.6 1363L290.9 1380.2L290.6 1380.3L289.5 1380.2L272.7 1378.4L254.8 1372.2L236.8 1362.9L236 1362.3L218.9 1348.9L213.9 1344.4L201 1331.9L195.7 1326.5L183.1 1311.3L180.7 1308.7L169.5 1290.8L165.1 1284.8L152.1 1272.9L147.2 1270.4L129.3 1270.4L129.3 1272.9L129.3 1290.8L129.3 1308.7L129.3 1326.5L129.3 1344.4L129.3 1362.3L129.3 1380.2L129.3 1398.1L129.3 1416L129.3 1433.9L129.3 1451.8L129.3 1469.7L129.3 1487.6L129.3 1505.5ZM918.1 1279L936.1 1283.7L954 1283.7L971.9 1282.4L989.9 1280.4L1007.8 1277.2L1025.4 1272.9L1025.7 1272.8L1043.6 1266.6L1061.6 1258.8L1070.2 1255L1079.5 1250.6L1097.4 1246.4L1115.4 1246.2L1133.3 1246.2L1133.3 1237.1L1133.3 1219.2L1133.3 1201.3L1133.3 1183.4L1133.3 1165.5L1133.3 1147.6L1133.3 1129.7L1133.3 1111.8L1133.3 1093.9L1133.3 1076L1133.3 1058.1L1133.3 1048.8L1115.4 1048.8L1097.4 1048L1079.5 1045.4L1061.6 1043.1L1043.6 1042L1025.7 1045.1L1010.2 1058.1L1014.3 1076L1021 1093.9L1022.2 1111.8L1007.8 1129.7L1007.8 1129.7L989.9 1136.4L971.9 1143.1L962.9 1147.6L954 1151.7L936.1 1164.3L934.7 1165.5L918.1 1181.9L916.5 1183.4L902 1201.3L900.2 1208.1L893.8 1219.2L898.6 1237.1L900.2 1241L903.6 1255L911.6 1272.9ZM254.8 1005.4L257 1004.4L257 986.5L254.8 986.5L243.8 986.5L243.8 1004.4Z" fill="#f1ccb8"/>
<path d="M183.1 1505.5L201 1505.5L218.9 1505.5L236.8 1505.5L254.8 1505.5L272.7 1505.5L290.6 1505.5L308.6 1505.5L326.5 1505.5L344.4 1505.5L362.3 1505.5L380.3 1505.5L398.2 1505.5L416.1 1505.5L434.1 1505.5L452 1505.5L469.9 1505.5L487.8 1505.5L505.8 1505.5L505.8 1505.5L505.8 1487.6L511 1469.7L511.8 1451.8L508.2 1433.9L505.8 1428.6L490.4 1416L487.8 1414.9L469.9 1412.3L452 1406.8L442.5 1398.1L434.1 1388.6L429.1 1380.2L416.8 1362.3L416.1 1361.6L404.1 1344.4L398.2 1338.7L395.8 1326.5L390.7 1308.7L386.3 1290.8L386.5 1272.9L385.5 1255L380.3 1248.1L376.3 1237.1L362.3 1223.6L356.5 1219.2L344.4 1210.8L326.5 1204.6L317.9 1219.2L308.6 1234.8L307.2 1237.1L301.1 1255L299.8 1272.9L301.5 1290.8L307 1308.7L308.6 1312.1L312.3 1326.5L317.4 1344.4L323.5 1362.3L326.5 1372L328.3 1380.2L329.8 1398.1L326.5 1406.9L309.4 1416L308.6 1416.3L290.6 1416.5L287.8 1416L272.7 1413.9L254.8 1410.2L236.8 1405.4L218.9 1398.4L218.3 1398.1L201 1388L192.9 1380.2L183.1 1370.1L177.1 1362.3L165.1 1349.8L160.3 1344.4L147.2 1331.3L129.3 1331.3L129.3 1344.4L129.3 1362.3L129.3 1380.2L129.3 1398.1L129.3 1405.7L147.2 1405.7L159.9 1416L165.1 1423.9L170.9 1433.9L175.1 1451.8L174.8 1469.7L166.8 1487.6L166.8 1505.5ZM595.4 1505.5L613.3 1505.5L631.3 1505.5L649.2 1505.5L667.1 1505.5L685.1 1505.5L685.1 1505.5L685.1 1487.6L685.1 1487.6L676.5 1469.7L681.1 1451.8L685.1 1446.4L695.1 1433.9L703 1426.5L715.3 1416L720.9 1410.9L738.8 1399.3L756.8 1407.5L759.1 1416L760.8 1433.9L760.7 1451.8L758.4 1469.7L756.8 1473.8L744.2 1487.6L744.2 1505.5L756.8 1505.5L774.7 1505.5L792.6 1505.5L810.6 1505.5L819.9 1505.5L819.9 1487.6L828.5 1473.3L829.7 1469.7L832.8 1451.8L834.4 1433.9L835.5 1416L836.5 1398.1L837.8 1380.2L840 1362.3L841.7 1344.4L840.6 1326.5L837.8 1308.7L834.4 1290.8L831.1 1272.9L828.5 1260.2L827 1255L818 1237.1L810.6 1230.6L792.6 1232.4L786.6 1237.1L774.7 1253.1L773.4 1255L759.5 1272.9L756.8 1275.6L748.3 1272.9L738.8 1269.4L733.5 1255L733.2 1237.1L735.3 1219.2L733.2 1201.3L720.9 1184.5L720 1183.4L703 1173.4L685.1 1166.2L682.8 1165.5L667.1 1161.6L649.2 1158.9L638.8 1147.6L631.3 1138.3L614 1147.6L613.3 1148.1L601.9 1165.5L595.4 1172.5L577.5 1177.2L564.2 1183.4L559.6 1185.8L542.2 1201.3L541.6 1202.6L529.3 1219.2L525.6 1237.1L525.4 1255L527.6 1272.9L533.9 1290.8L541.6 1302.8L545.5 1308.7L559.6 1324.9L561.3 1326.5L573.9 1344.4L577.5 1350.9L582.1 1362.3L586 1380.2L587 1398.1L585.9 1416L583.8 1433.9L581.9 1451.8L581 1469.7L582.2 1487.6L582.2 1505.5ZM918.1 1399.5L921.5 1398.1L918.1 1392.2L916.3 1398.1ZM882.3 1374.2L893.8 1362.3L882.3 1345.5L868.5 1362.3ZM954 1261.4L971.9 1265.4L989.9 1265.3L1007.8 1262.4L1025.7 1257.2L1031.4 1255L1043.6 1248.3L1061.6 1237.9L1063.5 1237.1L1079.5 1229.6L1097.4 1229.4L1115.4 1230.7L1133.3 1230.7L1133.3 1219.2L1133.3 1201.3L1133.3 1183.4L1133.3 1165.5L1133.3 1147.6L1133.3 1129.7L1133.3 1113.9L1115.4 1113.7L1097.4 1113.1L1079.5 1116L1061.6 1129.6L1061.5 1129.7L1043.6 1141.8L1031.5 1147.6L1025.7 1149.1L1007.8 1151.4L989.9 1154.8L971.9 1161.2L964.3 1165.5L954 1173.2L943.5 1183.4L936.1 1197.1L933.4 1201.3L929.3 1219.2L931.3 1237.1L936.1 1246.1L942.7 1255ZM326.5 1200.1L336.1 1183.4L326.5 1174.5L314.3 1183.4Z" fill="#f7ba9f"/>
<path d="M326.5 1505.5L326.5 1505.5L326.5 1487.6L337.1 1469.7L326.5 1465.8L308.6 1468.5L306.3 1469.7L308.6 1471.5L326.5 1487.6L326.5 1505.5ZM631.3 1505.5L631.8 1505.5L631.8 1487.6L631.3 1484L630.6 1487.6L630.6 1505.5ZM792.6 1454.9L799.2 1451.8L792.6 1442.3L791.8 1451.8ZM631.3 1448L641.9 1433.9L649.2 1431.8L667.1 1418.5L669.9 1416L685.1 1405.4L693.2 1398.1L703 1388.4L710.1 1380.2L720.9 1363L721.4 1362.3L730.9 1344.4L735.5 1326.5L735.3 1308.7L730.3 1290.8L720.9 1274.6L720.2 1272.9L713.7 1255L713.3 1237.1L716 1219.2L714.2 1201.3L703 1187.2L699 1183.4L685.1 1176.9L667.1 1171.5L649.2 1168.3L645.8 1165.5L631.3 1148.9L613.3 1160.9L610.3 1165.5L595.4 1181.7L586.2 1183.4L577.5 1184.5L559.6 1194.1L551.5 1201.3L543.1 1219.2L541.6 1232.6L540.3 1237.1L541.5 1255L541.6 1255.4L544.6 1272.9L554.8 1290.8L559.6 1296.4L577.5 1308.2L579.1 1308.7L595.4 1321.5L598.1 1326.5L607.5 1344.4L613.3 1358.4L615.2 1362.3L620.1 1380.2L623 1398.1L625.5 1416L628.6 1433.9ZM380.3 1433.3L398.2 1433.8L413.5 1416L413.8 1398.1L398.2 1381L394.5 1380.2L392.5 1362.3L391.2 1344.4L387 1326.5L380.3 1312.1L379.2 1308.7L375.6 1290.8L374.6 1272.9L372.7 1255L362.7 1237.1L362.3 1236.7L344.4 1221.9L326.5 1224.8L316.7 1237.1L310.9 1255L309.4 1272.9L310.6 1290.8L314.6 1308.7L320.6 1326.5L326.5 1342L327 1344.4L331.1 1362.3L338.7 1380.2L344.4 1391.3L354.7 1398.1L362.3 1410.6L368.8 1416ZM882.3 1364.2L884.1 1362.3L882.3 1359.6L880.1 1362.3ZM971.9 1245.1L989.9 1248.3L1007.8 1245.1L1025.7 1237.7L1026.8 1237.1L1043.6 1221.8L1047.1 1219.2L1061.6 1207L1079.5 1206.2L1097.4 1211.8L1115.4 1214.8L1133.3 1214.6L1133.3 1201.3L1133.3 1183.4L1133.3 1165.5L1133.3 1147.6L1133.3 1145.2L1115.4 1142.4L1097.4 1138.4L1079.5 1139.9L1066.5 1147.6L1061.6 1151.7L1044.5 1165.5L1043.6 1166.3L1025.7 1166.1L1007.8 1165.8L989.9 1169.2L971.9 1178.4L965.8 1183.4L956.1 1201.3L954 1214.7L953.3 1219.2L954 1221.7L960.3 1237.1ZM326.5 1189.5L330 1183.4L326.5 1180.1L322 1183.4Z" fill="#f6a586"/>
<path d="M398.2 1423.2L404.4 1416L408.5 1398.1L398.2 1386.8L384.2 1398.1L390 1416ZM362.3 1387.5L371.7 1380.2L380.3 1366.2L381.6 1362.3L383.2 1344.4L380.3 1333.3L379.2 1326.5L373.6 1308.7L368.8 1290.8L367 1272.9L363.3 1255L362.3 1253.2L352 1237.1L344.4 1230.7L326.5 1235.9L325.6 1237.1L316.9 1255L314.6 1272.9L316.2 1290.8L321.3 1308.7L326.5 1321.8L327.9 1326.5L331.6 1344.4L337 1362.3L344.4 1375.6L352.7 1380.2ZM667.1 1371.2L685.1 1366.5L689.3 1362.3L703 1352.7L709 1344.4L718.4 1326.5L720.5 1308.7L717.6 1290.8L709 1272.9L703 1261.4L697.8 1255L695.3 1237.1L698.5 1219.2L695.5 1201.3L685.1 1191.3L671.8 1183.4L667.1 1181.9L649.2 1178.1L633.6 1165.5L631.3 1162.8L627.1 1165.5L613.3 1177L607.9 1183.4L595.4 1192.1L577.5 1190.8L560.9 1201.3L559.6 1202.5L548.8 1219.2L545.8 1237.1L546.9 1255L553.2 1272.9L559.6 1282L573.4 1290.8L577.5 1293.8L590.8 1290.8L595.4 1289.4L597.4 1290.8L608.9 1308.7L613.3 1315.8L616.6 1326.5L629.9 1344.4L631.3 1346.5L649.2 1361.5L651.5 1362.3ZM989.9 1218.8L1007.8 1214.4L1021.9 1201.3L1025.7 1196.9L1032.8 1183.4L1025.7 1180.4L1007.8 1177.9L989.9 1182.6L988.5 1183.4L983.8 1201.3ZM1079.5 1186L1097.4 1191.3L1115.4 1190.5L1133.3 1185.8L1133.3 1183.4L1133.3 1180.4L1115.4 1167.1L1114.7 1165.5L1097.4 1156L1079.5 1156.2L1068.7 1165.5L1074.2 1183.4Z" fill="#f08b6e"/>
<path d="M398.2 1411.4L403.3 1398.1L398.2 1392.6L391.4 1398.1ZM344.4 1365.1L362.3 1376.1L374 1362.3L377.2 1344.4L374.5 1326.5L367.9 1308.7L362.3 1291.5L362 1290.8L359.8 1272.9L355.7 1255L344.4 1239.9L326.5 1247.8L322.9 1255L319.9 1272.9L321.8 1290.8L326.5 1304.7L328.3 1308.7L333 1326.5L336.2 1344.4L342.9 1362.3ZM667.1 1350.6L685.1 1348.6L690.2 1344.4L703 1334.4L708.3 1326.5L713 1308.7L709.6 1290.8L703 1279.2L697.7 1272.9L685.1 1258.2L677.1 1255L672.7 1237.1L676.9 1219.2L670.9 1201.3L667.1 1198.9L649.2 1189.2L631.3 1183.9L618.7 1201.3L615.8 1219.2L631.1 1237.1L620.5 1255L615.6 1272.9L614.8 1290.8L617 1308.7L626 1326.5L631.3 1333.3L649.2 1341.6L655.8 1344.4ZM577.5 1284.7L594.7 1272.9L595.4 1271.9L608.4 1255L611.3 1237.1L612.9 1219.2L595.4 1203.2L592.3 1201.3L577.5 1197.1L570.9 1201.3L559.6 1211.3L554.5 1219.2L550.4 1237.1L552.2 1255L559.6 1270.1L562.1 1272.9Z" fill="#e46e56"/>
<path d="M362.3 1367.5L366.7 1362.3L372.4 1344.4L369.8 1326.5L362.3 1308.7L362.2 1308.7L354.3 1290.8L353.4 1272.9L348.3 1255L344.4 1249.7L334.3 1255L326.5 1265.8L325.1 1272.9L326.5 1283.7L328.6 1290.8L336 1308.7L338.1 1326.5L340.7 1344.4L344.4 1353.8L354.2 1362.3ZM649.2 1329.6L667.1 1339.1L685.1 1337.8L698 1326.5L703 1315.9L705.4 1308.7L703 1297L701.6 1290.8L686 1272.9L685.1 1271.8L667.1 1265.6L653.4 1255L657.7 1237.1L659.3 1219.2L649.2 1202.3L640.4 1219.2L641.7 1237.1L642.6 1255L631.3 1258.2L621.4 1272.9L618.7 1290.8L621.7 1308.7L631.3 1323.4L642.5 1326.5ZM577.5 1276.9L583.4 1272.9L595.4 1256.5L596.6 1255L601.8 1237.1L597.8 1219.2L595.4 1217L577.5 1203.3L560.2 1219.2L559.6 1220.8L555.1 1237.1L557.5 1255L559.6 1259.1L572.2 1272.9Z" fill="#d44e41"/>
<path d="M362.3 1357.5L367.5 1344.4L365.1 1326.5L362.3 1319.9L345.9 1308.7L346.6 1290.8L346.9 1272.9L344.4 1264.8L338.2 1272.9L340.9 1290.8L343.7 1308.7L343.3 1326.5L344.4 1336.1L347.2 1344.4ZM667.1 1330.2L685.1 1328.7L687.5 1326.5L697.8 1308.7L693.3 1290.8L685.1 1281.4L667.1 1278.1L649.2 1279L643.2 1272.9L631.3 1266.7L627.2 1272.9L622.5 1290.8L626.4 1308.7L631.3 1316.2L649.2 1317L660.8 1326.5ZM577.5 1269.7L590.2 1255L593.8 1237.1L589.4 1219.2L577.5 1209.3L566.7 1219.2L559.7 1237.1L563.5 1255Z" fill="#be242e"/>
<path d="M362.3 1345.4L362.7 1344.4L362.3 1341.6L361.3 1344.4ZM631.3 1309L633.2 1308.7L645.8 1290.8L631.3 1276.1L626.3 1290.8L631.1 1308.7ZM667.1 1319.3L685.1 1316.9L690.1 1308.7L685.1 1290.8L685.1 1290.7L667.1 1287.9L658.4 1290.8L654.3 1308.7ZM577.5 1263L584.5 1255L588.8 1237.1L582.2 1219.2L577.5 1215.2L573.2 1219.2L565.1 1237.1L569.8 1255Z" fill="#b40426"/>
<path d="M147.2 1499.5L147.2 1306.3L202.2 1306.3L212.9 1356.4L254.8 1361.1L258.4 1375.5L307.4 1375.5L315.7 1358.8L316.9 1296.7L321.7 1274.1L352.8 1274.1L370.7 1288.4L391 1297.9L391 1354L436.5 1343.2L441.2 1307.5L466.3 1305.1L469.9 1258.5L497.4 1258.5L511.8 1278.8L523.7 1344.4L559.6 1346.8L577.5 1358.8L625.3 1358.8L768.7 1356.4L772.3 1374.3L763.9 1413.6L728.1 1423.2L792.6 1423.2L834.5 1420.8L834.5 1499.5Z" fill="url(#dots)"/>
<path d="M557.2 1227.5L599 1227.5L607.4 1243L631.3 1243L642 1210.8L651.6 1210.8L663.5 1243L713.7 1257.4L713.7 1284.8L729.3 1314.6L731.7 1356.4L613.3 1356.4L613.3 1311L569.1 1293.1L553.6 1266.9Z" fill="url(#dots)"/>
<path d="M763.9 1354L768.7 1277.6L832.1 1277.6L832.1 1356.4Z" fill="url(#dots)"/>
<path d="M938.5 1251.4L938.5 1209.6L948 1190.5L971.9 1173.8L1043.6 1173.8L1061.6 1155.9L1069.9 1141.6L1115.4 1141.6L1115.4 1191.7L1085.5 1201.3L1055.6 1195.3L1047.2 1216.8L1025.7 1237.1L954 1239.5Z" fill="url(#dots)"/>
<path d="M563.1 1027.1L563.1 1014L589.4 1014L589.4 1027.1Z" fill="url(#dots)"/>
<path d="M876.3 1293.1L897.8 1293.1L900.2 1356.4L939.7 1392.2L939.7 1412.4L919.3 1394.5L885.9 1368.3L876.3 1338.5Z" fill="url(#dots)"/>
<path d="M141.2 1185.2L160.8 1186.8L174.6 1185.4L191.2 1183.5L207.8 1182.7L221.5 1181.4L225.7 1186.8L228.5 1192.3L235.4 1197.9L242.3 1202.1L250.6 1203.4L253.3 1208.9L257.5 1214.5L265.8 1214.5L272.7 1211.7L263 1217.3L254.7 1220L257.5 1228.4L263 1233.8L270 1239.3L279.6 1239.3L287.9 1236.6L290.6 1228.4L294.8 1222.8L301.7 1224.2L301.4 1232.3L298.9 1239.3L300.3 1249.8L300.3 1261L304.5 1272.1L307.2 1286L312.7 1299.7L318.2 1313.5L323.7 1324.6L329.4 1335.6L334.9 1346.7L340.4 1360.5L345.9 1374.4L351.5 1385.4L357 1391L362.5 1385.4L365.2 1379.9L373.5 1375.7L379.1 1371.6L381.8 1366L384.6 1355.1L384.6 1341.2L387.3 1330.1L388.8 1319.1L388.8 1308.1L390.1 1301.1L398.3 1298.4L409.4 1291.5L414.9 1286L423.2 1280.4L431.5 1272.1L439.8 1263.8L448 1255.6L453.7 1251.4L462.7 1246.6L468.7 1237.1L475.9 1229.9L485.5 1228.7L494.5 1225.1L503.4 1226.3L511.2 1218L516.5 1210.8L522.1 1215.8L530.5 1228.4L533.3 1239.5L540.4 1245.4L546.4 1253.8L549.8 1263.8L555.4 1277.6L558.1 1291.5L563.6 1297L571.9 1291.5L580.2 1283.1L588.5 1277.6L591.2 1286L594 1297L596.7 1310.8L599.5 1327.4L602.2 1341.2L603.7 1360.5L605 1377.1L606.2 1389.8L607.8 1393.7L616.1 1406.5L626.5 1413.6L629.5 1425.6L632.5 1439.9L638.2 1449.4L644.4 1456.6L655.2 1464.9L667.1 1471.5L676.1 1470.9L670.7 1460.2L666.5 1449.4L666.5 1437.5L662.4 1425.6L652.8 1414.8L643.2 1406.5L631.3 1401.7L628.9 1392.2L624.1 1377.8L615.7 1363.5L616.9 1352.8L621.7 1342.1L625.3 1334.9L626.5 1326.5L632.5 1326.5L636.1 1332.5L639.6 1336.7L649.2 1342.1L656.4 1345.6L661.2 1354L667.1 1361.1L677.9 1363.5L682.7 1373.1L682.7 1383.8L688.6 1382.6L699.4 1374.3L706.6 1364.7L714.9 1362.3L720.9 1358.8L731.7 1352.8L735.3 1343.2L736.5 1330.1L735.3 1320.6L731.7 1307.5L724.5 1295.5L713.7 1287.2L704.2 1278.8L697 1269.3L693.4 1262.1L695.8 1253.8L704.2 1245.4L709 1238.3L715.5 1231.1L725.7 1229.3L731.7 1229.9L740 1231.1L743.6 1234.7L744.8 1241.8L748.4 1246L752 1241.8L750.8 1234.7L759.2 1231.1L768.7 1227.5L778.3 1226.3L784.3 1221.6L787.9 1216.8L789 1222.8L795 1221.6L802.2 1216.8L811.8 1215.6L822.5 1213.2L830.9 1206.1L839.2 1197.7L847.6 1190.5L856 1184.6L859.6 1176.2L863.2 1167.9L869.1 1160.7L875.1 1153.6L881.1 1145.2L885.9 1136.9L888.3 1128.5L883.5 1122.5L876.3 1121.3L882.3 1117.8L887.1 1111.8L881.1 1107L875.1 1099.9L871.5 1092.7L865.5 1083.2L857.2 1074.8L854.8 1070L859.6 1062.9L866.7 1056.9L875.1 1051L884.7 1047.4L895.4 1042.6L889.5 1040.2L878.7 1039L869.1 1041.4L862 1043.8L854.8 1042.6L851.2 1035.5L845.2 1029.5L835.7 1023.5L834.5 1018.8L840.4 1019.9L851.2 1019.9L857.2 1014L864.4 1009.2L870.3 1004.4M885.9 1004.4L882.3 1014L879.9 1019.9L878.7 1024.1L884.7 1022.3L891.8 1017.6L900.2 1014L909.8 1012.8L916.9 1009.2L919.3 1004.4M916.9 1006.8L919.3 1014L926.5 1017.6L922.9 1025.9L925.3 1033.1L935.8 1034.9L942 1039L944.4 1046.2L940.8 1052.2L943.2 1059.3L940.8 1067.7L939.7 1074.8L946.8 1076L954 1073.6L964.8 1071.2L971.9 1068.9L976.7 1062.9L977.9 1054.5L976.7 1046.2L971.9 1039L965.9 1030.7L958.8 1023.5L954 1017.6L962.4 1010.4L970.7 1004.4M980.3 1091.5L982.7 1098.7L986.3 1105.8L987.5 1114.2L992.2 1116.6L997 1113L1000.6 1110.6L1001.8 1102.3L1006.6 1095.1L1001.8 1090.3L995.8 1083.2L989.9 1083.2L983.9 1086.8L980.3 1091.5M1010.2 1092.7L1015 1096.3L1019.7 1096.3L1024.5 1089.1L1034.1 1090.3L1040.1 1084.4L1034.1 1079.6L1025.7 1078.4L1017.3 1080.8L1010.2 1086.8L1010.2 1092.7M1110.6 1061.7L1099.8 1062.9L1089.1 1068.9L1077.1 1070L1065.2 1072.4L1059.2 1077.2L1052 1079.6L1044.8 1078.4L1035.3 1074.8L1025.7 1077.2L1013.8 1079.6L1003 1082.6L994.6 1082L1001.8 1076L1013.8 1067.7L1023.3 1062.9L1037.7 1061.7L1049.6 1059.3L1059.2 1051L1067.5 1042.6L1079.5 1036.6L1091.4 1030.7L1099.8 1025.9L1104.6 1018.8L1105.8 1003.2M865.5 1213.2L867.9 1219.2L872.7 1225.1L875.1 1220.4L881.1 1212L883.5 1202.5L887.1 1194.1L887.1 1189.3L882.3 1185.8L876.3 1189.3L872.7 1195.3L866.7 1204.9L865.5 1213.2M728.1 1258.5L729.3 1266.9L738.8 1270.5L746 1268.1L750.8 1263.3L756.8 1253.8L753.2 1249L747.2 1247.8L738.8 1249L731.7 1253.8L728.1 1258.5M384.5 1404.1L383.9 1392.2L385.7 1380.2L387.4 1370.7L393.4 1375.5L399.4 1385L403 1392.2L407.8 1401.7L405.4 1411.2L393.4 1417.2L387.4 1413.6L384.5 1404.1M675.5 1493.6L668.3 1484L661.2 1478.1L651.6 1472.1L642 1467.3L631.3 1461.4L622.9 1453L613.3 1444.7L605 1436.3L595.4 1426.8L583.5 1425.6L572.7 1420.8L567.9 1422L569.1 1428L572.7 1432.7L581.1 1438.7L589.4 1447L597.8 1456.6L607.4 1466.1L614.5 1475.7L621.7 1487.6L625.3 1493.6M731.7 1493.6L732.9 1481.6L734.1 1472.1L740 1464.3L748.4 1466.7L756.8 1468.5L761.6 1459L768.7 1452.4L780.7 1448.2L791.4 1436.3L799.8 1431.5L807 1426.8L811.8 1420.8L817.7 1416L824.9 1405.3L830.9 1404.7L836.9 1412.4L841.6 1418.4L854.8 1424.4L845.2 1430.3L839.2 1437.5L836.9 1448.2L840.4 1460.2L851.2 1474.5L840.4 1478.1L834.5 1487.6L832.1 1493.6M871.5 1266.9L877.5 1265.7L887.1 1269.3L890.6 1278.8L893 1287.2L883.5 1297.9L883.5 1305.1L887.1 1313.4L895.4 1318.2L903.8 1321.8L912.2 1332.5L913.4 1337.3L906.2 1333.7L897.8 1325.4L888.3 1323L882.3 1324.2L872.7 1319.4L871.5 1313.4L864.4 1308.7L862 1296.7L866.7 1294.3L869.1 1284.8L870.3 1275.2L871.5 1266.9M915.7 1338.5L924.1 1337.3L932.5 1346.8L931.3 1356.4L924.1 1365.9L920.5 1368.3L915.7 1358.8L916.9 1350.4L915.7 1338.5M905 1354L912.2 1357.6L907.4 1368.3L903.8 1374.3L905 1354M893 1357.6L901.4 1357.6L907.4 1369.5L902.6 1379L894.2 1373.1L893 1357.6M887.1 1346.8L893 1345.6L902.6 1351.6L895.4 1361.1L888.3 1362.3L887.1 1346.8M867.9 1327.7L876.3 1326.5L882.3 1333.7L878.7 1340.9L871.5 1338.5L867.9 1327.7M909.8 1367.1L918.1 1368.3L915.7 1373.1L909.8 1371.9L909.8 1367.1M830.9 1387.4L836.9 1382.6L846.4 1373.1L854.8 1363.5L859.6 1354L857.2 1351.6L852.4 1359.9L842.8 1369.5L834.5 1380.2L830.9 1387.4M858.4 1493.6L859.6 1479.2L875.1 1472.1L896.6 1474.5L915.7 1472.1L925.3 1468.5L919.3 1480.4L906.2 1481.6L882.3 1482.2L867.9 1484L865.5 1493.6M954 1493.6L956.4 1478.1L952.8 1468.5L957.6 1461.4L961.2 1469.7L968.3 1473.3L962.4 1478.1L968.3 1482.8L960 1484L958.8 1493.6M540.4 1325.4L539.2 1338.5L536.9 1349.2L536.3 1361.1M307.4 1404.1L305 1416L306.2 1428L308.6 1439.9L307.4 1451.8L306.2 1463.7L305 1475.7L305 1487.6M285.1 1012.2L257.5 1015.5L229.9 1017.7L222.1 1022.4L223 1029.3L229.9 1030.7L240.9 1027.1L254.7 1026L260.3 1027.1L261.6 1034.9L264.4 1041.8L268.6 1047.3L264.4 1050.9L256.1 1052L249.8 1057L246.5 1065.3L238.2 1060.3L227.1 1059.7L214.7 1061.1L203.6 1063.9L200.3 1070.8L201.4 1076.3L209.2 1079.1L218.8 1082.4L226.6 1082.4L220.2 1085.2L214.7 1090.7L218 1097L225.7 1094.3L234 1090.1L239.5 1084.6L243.7 1077.7L246.5 1070.8L250.6 1069.4L260.3 1071.3L269.9 1067.2L278.2 1063.1L287.9 1066.6L297.6 1069.4L307.2 1075.8L315.5 1076.9L321.6 1081.3L325.2 1090.1L330.7 1096.2L339 1103.9L346.5 1107.3L352.8 1114.4L361.1 1120L369.4 1124.1L377.7 1129.4L387.9 1132.1L397 1137.1L403.9 1139.3L412.8 1145.4L426 1149.5L439.8 1152.3L450.9 1155.6L461.9 1160L466.9 1160.6L466.9 1160.6L480.7 1163.4L494.6 1160.6L508.4 1163.4L522.2 1162L536 1156.4L549.8 1148.2L560.9 1142.6L571.9 1142.6L577.4 1146.8L585.7 1153.7L596.8 1155.1L602.3 1160.6L605.1 1168.9L606.4 1177.2L610.6 1179.9L617.5 1175.8L627.2 1168.9L635.5 1164.7L641.5 1159.2L647.1 1153.1L652 1145.4L650.6 1137.1L654.8 1128.8L660.3 1120.5L668.6 1112.2L672.7 1101.2L676.9 1090.1L672.7 1076.3L665.8 1065.3L658.9 1055.6L654.8 1051.4L643.7 1049.2L638.2 1046.5L642.4 1042.6L652.6 1041.8L663.6 1043.7L661.7 1039.8L652 1036.3L638.2 1030.7L621.6 1025.2L605.1 1018.8L577.4 1015.5L549.8 1016.9L522.2 1019.7L494.6 1022.4L478 1025.2L466.9 1030.7L466.9 1030.7L450.9 1037.6L437.1 1044.5L423.3 1048.7L412.2 1051.4L398.4 1054.2L390.1 1052.8L384.6 1048.7L376.3 1050.1L365.2 1047.3L351.4 1044.5L340.4 1040.4L337.6 1030.7L332.1 1025.2L321 1021.1L315.5 1012.2" fill="none" stroke="#858585" stroke-width="9.5" stroke-linejoin="round" stroke-linecap="round"/>
<path d="M870.3 1308.7L869.7 1324.2L871.5 1348L878.7 1355.2L885.3 1370.7L891.8 1377.8L906.2 1374.3L918.1 1370.7L930.1 1368.3L934.9 1363.5L928.9 1348L925.3 1337.3L918.1 1324.2L913.4 1317L903.8 1308.7ZM980.3 1091.5L982.7 1098.7L986.3 1105.8L987.5 1114.2L992.2 1116.6L997 1113L1000.6 1110.6L1001.8 1102.3L1006.6 1095.1L1001.8 1090.3L995.8 1083.2L989.9 1083.2L983.9 1086.8L980.3 1091.5Z" fill="#858585" stroke="#858585" stroke-width="9.5" stroke-linejoin="round"/>
<path d="M888.3 1405.3L890.6 1396.9L900.2 1394.5L907.4 1385L914.6 1389.8L921.7 1380.2L930.1 1370.7L938.5 1377.8L943.2 1400.5L938.5 1412.4L928.9 1420.8L926.5 1414.8L915.7 1413.6L912.2 1404.1L903.8 1398.1L888.3 1405.3" fill="none" stroke="#858585" stroke-width="16" stroke-linejoin="round" stroke-linecap="round"/>
<path d="M303.4 1354a3.2 3.2 0 1 0 0.01 0ZM307 1361.1a3.2 3.2 0 1 0 0.01 0ZM301 1365.9a3.2 3.2 0 1 0 0.01 0ZM313 1388.6a3.2 3.2 0 1 0 0.01 0ZM542.4 1377.8a3.2 3.2 0 1 0 0.01 0ZM549.6 1389.8a3.2 3.2 0 1 0 0.01 0ZM554.4 1401.7a3.2 3.2 0 1 0 0.01 0ZM541.2 1392.2a3.2 3.2 0 1 0 0.01 0ZM609.4 1394.5a3.2 3.2 0 1 0 0.01 0ZM605.8 1340.9a3.2 3.2 0 1 0 0.01 0ZM611.8 1368.3a3.2 3.2 0 1 0 0.01 0ZM599.8 1385a3.2 3.2 0 1 0 0.01 0ZM665.6 1417.2a3.2 3.2 0 1 0 0.01 0ZM677.5 1456.6a3.2 3.2 0 1 0 0.01 0ZM706.2 1439.9a3.2 3.2 0 1 0 0.01 0ZM726.5 1441.1a3.2 3.2 0 1 0 0.01 0ZM722.9 1451.8a3.2 3.2 0 1 0 0.01 0ZM767.1 1290.8a3.2 3.2 0 1 0 0.01 0ZM775.5 1286a3.2 3.2 0 1 0 0.01 0ZM799.4 1363.5a3.2 3.2 0 1 0 0.01 0ZM819.7 1386.2a3.2 3.2 0 1 0 0.01 0ZM803 1351.6a3.2 3.2 0 1 0 0.01 0ZM770.7 1385a3.2 3.2 0 1 0 0.01 0ZM891.5 1244.2a3.2 3.2 0 1 0 0.01 0ZM890.3 1255a3.2 3.2 0 1 0 0.01 0ZM885.5 1258.5a3.2 3.2 0 1 0 0.01 0ZM893.8 1260.9a3.2 3.2 0 1 0 0.01 0ZM911.8 1196.5a3.2 3.2 0 1 0 0.01 0ZM917.8 1197.7a3.2 3.2 0 1 0 0.01 0ZM930.9 1191.7a3.2 3.2 0 1 0 0.01 0ZM960.8 1171.5a3.2 3.2 0 1 0 0.01 0ZM966.8 1169.1a3.2 3.2 0 1 0 0.01 0ZM973.9 1155.9a3.2 3.2 0 1 0 0.01 0ZM982.3 1148.8a3.2 3.2 0 1 0 0.01 0ZM993.1 1124.9a3.2 3.2 0 1 0 0.01 0ZM997.8 1123.7a3.2 3.2 0 1 0 0.01 0ZM983.5 1130.9a3.2 3.2 0 1 0 0.01 0ZM946.4 1089.1a3.2 3.2 0 1 0 0.01 0ZM968 1073.6a3.2 3.2 0 1 0 0.01 0ZM978.7 1079.6a3.2 3.2 0 1 0 0.01 0ZM951.2 1201.3a3.2 3.2 0 1 0 0.01 0ZM1002.6 1178.6a3.2 3.2 0 1 0 0.01 0ZM1001.4 1196.5a3.2 3.2 0 1 0 0.01 0ZM1046.8 1078.4a3.2 3.2 0 1 0 0.01 0ZM1068.4 1054.5a3.2 3.2 0 1 0 0.01 0ZM1088.7 1034.3a3.2 3.2 0 1 0 0.01 0ZM1099.4 1082a3.2 3.2 0 1 0 0.01 0ZM1100.6 1092.7a3.2 3.2 0 1 0 0.01 0ZM1025.3 1056.9a3.2 3.2 0 1 0 0.01 0ZM898.6 1357.6a3.2 3.2 0 1 0 0.01 0ZM881.9 1333.7a3.2 3.2 0 1 0 0.01 0ZM867.6 1344.4a3.2 3.2 0 1 0 0.01 0ZM890.3 1338.5a3.2 3.2 0 1 0 0.01 0ZM911.8 1339.7a3.2 3.2 0 1 0 0.01 0ZM924.9 1349.2a3.2 3.2 0 1 0 0.01 0ZM915.4 1379a3.2 3.2 0 1 0 0.01 0ZM939.3 1370.7a3.2 3.2 0 1 0 0.01 0ZM940.5 1362.3a3.2 3.2 0 1 0 0.01 0ZM877.1 1417.2a3.2 3.2 0 1 0 0.01 0ZM890.3 1416a3.2 3.2 0 1 0 0.01 0ZM921.3 1417.2a3.2 3.2 0 1 0 0.01 0ZM933.3 1443.5a3.2 3.2 0 1 0 0.01 0ZM935.7 1448.2a3.2 3.2 0 1 0 0.01 0ZM947.6 1436.3a3.2 3.2 0 1 0 0.01 0ZM954.8 1453a3.2 3.2 0 1 0 0.01 0ZM985.9 1447a3.2 3.2 0 1 0 0.01 0ZM1001.4 1451.8a3.2 3.2 0 1 0 0.01 0ZM1040.9 1398.1a3.2 3.2 0 1 0 0.01 0ZM1043.3 1395.7a3.2 3.2 0 1 0 0.01 0ZM1028.9 1400.5a3.2 3.2 0 1 0 0.01 0ZM1083.9 1373.1a3.2 3.2 0 1 0 0.01 0ZM1101.8 1369.5a3.2 3.2 0 1 0 0.01 0ZM1046.8 1350.4a3.2 3.2 0 1 0 0.01 0ZM1036.1 1385a3.2 3.2 0 1 0 0.01 0ZM1000.2 1436.3a3.2 3.2 0 1 0 0.01 0ZM957.2 1380.2a3.2 3.2 0 1 0 0.01 0ZM973.9 1412.4a3.2 3.2 0 1 0 0.01 0ZM1058.8 1391a3.2 3.2 0 1 0 0.01 0ZM1077.9 1417.2a3.2 3.2 0 1 0 0.01 0ZM1040.9 1453a3.2 3.2 0 1 0 0.01 0ZM999 1466.1a3.2 3.2 0 1 0 0.01 0ZM1101.8 1439.9a3.2 3.2 0 1 0 0.01 0ZM1013.4 1476.9a3.2 3.2 0 1 0 0.01 0ZM1105.4 1481.6a3.2 3.2 0 1 0 0.01 0ZM978.7 1083.2a3.2 3.2 0 1 0 0.01 0ZM972.7 1078.4a3.2 3.2 0 1 0 0.01 0ZM987.1 1096.3a3.2 3.2 0 1 0 0.01 0ZM984.7 1105.8a3.2 3.2 0 1 0 0.01 0ZM994.2 1124.9a3.2 3.2 0 1 0 0.01 0ZM987.1 1130.9a3.2 3.2 0 1 0 0.01 0ZM981.1 1150a3.2 3.2 0 1 0 0.01 0ZM973.9 1155.9a3.2 3.2 0 1 0 0.01 0ZM969.1 1161.9a3.2 3.2 0 1 0 0.01 0ZM963.2 1167.9a3.2 3.2 0 1 0 0.01 0ZM959.6 1173.8a3.2 3.2 0 1 0 0.01 0ZM948.8 1178.6a3.2 3.2 0 1 0 0.01 0ZM930.9 1192.9a3.2 3.2 0 1 0 0.01 0ZM916.6 1196.5a3.2 3.2 0 1 0 0.01 0ZM913 1197.7a3.2 3.2 0 1 0 0.01 0ZM902.2 1196.5a3.2 3.2 0 1 0 0.01 0ZM941.7 1043.8a3.2 3.2 0 1 0 0.01 0ZM934.5 1046.2a3.2 3.2 0 1 0 0.01 0ZM939.3 1065.3a3.2 3.2 0 1 0 0.01 0ZM938.1 1073.6a3.2 3.2 0 1 0 0.01 0ZM946.4 1078.4a3.2 3.2 0 1 0 0.01 0ZM954.8 1077.2a3.2 3.2 0 1 0 0.01 0ZM964.4 1072.4a3.2 3.2 0 1 0 0.01 0ZM971.5 1071.2a3.2 3.2 0 1 0 0.01 0ZM1001.4 1074.8a3.2 3.2 0 1 0 0.01 0ZM1014.6 1062.9a3.2 3.2 0 1 0 0.01 0ZM1026.5 1054.5a3.2 3.2 0 1 0 0.01 0ZM1020.5 1056.9a3.2 3.2 0 1 0 0.01 0ZM1099.4 1028.3a3.2 3.2 0 1 0 0.01 0ZM1087.5 1033.1a3.2 3.2 0 1 0 0.01 0ZM1071.9 1042.6a3.2 3.2 0 1 0 0.01 0ZM1097 1077.2a3.2 3.2 0 1 0 0.01 0ZM1098.2 1071.2a3.2 3.2 0 1 0 0.01 0Z" fill="none" stroke="#808080" stroke-width="2"/>
<path d="M515.3 1077.7L530.5 1078.5L544.3 1077.7L555.3 1074.1L563.6 1071.3L571.9 1074.1L583 1081.8L591.3 1087.4L599.5 1095.7L607.8 1103.9L612 1112.2L614.7 1116.4L616.1 1126.1L617.5 1139.9L620.3 1153.7L624.4 1163.4L627.7 1166.1L631.3 1154.2L632.7 1163.4L632.7 1174.4L641 1173L646.5 1170.3L649.3 1175.8L654.8 1173L660.9 1173L663.1 1164.7L665.8 1153.7L671.4 1149.5L676.9 1145.4L687.9 1142.6L696.2 1139.9L704.5 1131.6L715.6 1128.8L726.6 1120.5L732.1 1116.4L743.2 1115L754.2 1116.4L762.5 1120.5L770.8 1124.7L776.3 1128.8L781.9 1133L786.8 1134.3L786.9 1131.6L795.2 1126.1L800.7 1120.5L809 1126.1L817.3 1131.6L828.3 1126.1L839.4 1116.4L847.6 1112.2L853.2 1103.9L858.7 1102.6L872.5 1098.4M859.2 1102.6L869.7 1106.7L880.8 1112.2M578.8 1066.6L591.3 1069.4L602.3 1066.6L610.6 1072.2L616.1 1079.1L627.2 1083.2L638.2 1082.4L649.3 1084.6L656.2 1087.4L652 1088.8L643.7 1085.2L635.5 1079.1L629.9 1070.8L628.5 1063.9L632.7 1061.1L643.7 1055.6L660.3 1058.4L668.6 1059.7L679.7 1051.4L687.9 1040.4L701.8 1036.3L708.7 1026.6L710 1012.2M763.9 1012.2L758.4 1023.8L754.8 1037.6L752 1051.4L750.4 1065.3L752 1073.6L765.3 1069.4L773.6 1068L786.8 1070.8L786.9 1069.4L800.7 1069.4L814.5 1061.1L828.3 1051.4L842.1 1043.2L851.8 1036.3" fill="none" stroke="#1f1fff" stroke-width="4.2" stroke-linejoin="round" stroke-linecap="round"/>
<rect x="505.8" y="1189.3" width="358.6" height="179" fill="none" stroke="#ff0000" stroke-width="7.5"/>
</g>
<rect x="147.2" y="1010.4" width="956.2" height="477.2" fill="none" stroke="#000" stroke-width="5.6"/>
<g style="font-family:'Liberation Serif',serif" fill="#000">
<line x1="137.5" y1="1010.4" x2="147.2" y2="1010.4" stroke="#000" stroke-width="2.4"/>
<text x="127.5" y="1025.2" font-size="43" text-anchor="end" >40°N</text>
<line x1="137.5" y1="1249" x2="147.2" y2="1249" stroke="#000" stroke-width="2.4"/>
<text x="127.5" y="1263.8" font-size="43" text-anchor="end" >20°N</text>
<line x1="137.5" y1="1487.6" x2="147.2" y2="1487.6" stroke="#000" stroke-width="2.4"/>
<text x="127.5" y="1502.4" font-size="43" text-anchor="end" >0°</text>
<line x1="386.2" y1="1487.6" x2="386.2" y2="1498.1" stroke="#000" stroke-width="2.4"/>
<text x="386.8" y="1538.4" font-size="43" text-anchor="middle" >80°E</text>
<line x1="625.3" y1="1487.6" x2="625.3" y2="1498.1" stroke="#000" stroke-width="2.4"/>
<text x="625.8" y="1538.4" font-size="43" text-anchor="middle" >100°E</text>
<line x1="864.4" y1="1487.6" x2="864.4" y2="1498.1" stroke="#000" stroke-width="2.4"/>
<text x="864.9" y="1538.4" font-size="43" text-anchor="middle" >120°E</text>
<line x1="1103.4" y1="1487.6" x2="1103.4" y2="1498.1" stroke="#000" stroke-width="2.4"/>
<text x="1103.9" y="1538.4" font-size="43" text-anchor="middle" >140°E</text>
<path d="M322.6 1591L320.6 1591L289.2 1607.5L320.6 1624L322.6 1624Z" fill="#3b4cc0"/>
<path d="M928.6 1591L930.6 1591L961.5 1607.5L930.6 1624L928.6 1624Z" fill="#b40426"/>
<rect x="320.6" y="1591" width="38.7" height="33" fill="#445acc"/>
<rect x="358.7" y="1591" width="38.7" height="33" fill="#5673e0"/>
<rect x="396.9" y="1591" width="38.7" height="33" fill="#6c8ff1"/>
<rect x="435" y="1591" width="38.7" height="33" fill="#82a6fb"/>
<rect x="473.1" y="1591" width="38.7" height="33" fill="#98b9ff"/>
<rect x="511.2" y="1591" width="38.7" height="33" fill="#adc9fd"/>
<rect x="549.4" y="1591" width="38.7" height="33" fill="#c3d5f4"/>
<rect x="587.5" y="1591" width="38.7" height="33" fill="#d4dbe6"/>
<rect x="625.6" y="1591" width="38.7" height="33" fill="#e5d8d1"/>
<rect x="663.7" y="1591" width="38.7" height="33" fill="#f1ccb8"/>
<rect x="701.9" y="1591" width="38.7" height="33" fill="#f7ba9f"/>
<rect x="740" y="1591" width="38.7" height="33" fill="#f6a586"/>
<rect x="778.1" y="1591" width="38.7" height="33" fill="#f08b6e"/>
<rect x="816.2" y="1591" width="38.7" height="33" fill="#e46e56"/>
<rect x="854.4" y="1591" width="38.7" height="33" fill="#d44e41"/>
<rect x="892.5" y="1591" width="38.1" height="33" fill="#be242e"/>
<path d="M320.6 1591L930.6 1591L961.5 1607.5L930.6 1624L320.6 1624L289.2 1607.5Z" fill="none" stroke="#000" stroke-width="2.2" stroke-linejoin="miter"/>
<line x1="320.6" y1="1624" x2="320.6" y2="1634.5" stroke="#000" stroke-width="2.2"/>
<text x="320.6" y="1675" font-size="42.5" text-anchor="middle" >-0.4</text>
<line x1="396.9" y1="1624" x2="396.9" y2="1634.5" stroke="#000" stroke-width="2.2"/>
<text x="396.9" y="1675" font-size="42.5" text-anchor="middle" >-0.3</text>
<line x1="473.1" y1="1624" x2="473.1" y2="1634.5" stroke="#000" stroke-width="2.2"/>
<text x="473.1" y="1675" font-size="42.5" text-anchor="middle" >-0.2</text>
<line x1="549.4" y1="1624" x2="549.4" y2="1634.5" stroke="#000" stroke-width="2.2"/>
<text x="549.4" y="1675" font-size="42.5" text-anchor="middle" >-0.1</text>
<line x1="625.6" y1="1624" x2="625.6" y2="1634.5" stroke="#000" stroke-width="2.2"/>
<text x="625.6" y="1675" font-size="42.5" text-anchor="middle" >0.0</text>
<line x1="701.9" y1="1624" x2="701.9" y2="1634.5" stroke="#000" stroke-width="2.2"/>
<text x="701.9" y="1675" font-size="42.5" text-anchor="middle" >0.1</text>
<line x1="778.1" y1="1624" x2="778.1" y2="1634.5" stroke="#000" stroke-width="2.2"/>
<text x="778.1" y="1675" font-size="42.5" text-anchor="middle" >0.2</text>
<line x1="854.4" y1="1624" x2="854.4" y2="1634.5" stroke="#000" stroke-width="2.2"/>
<text x="854.4" y="1675" font-size="42.5" text-anchor="middle" >0.3</text>
<line x1="930.6" y1="1624" x2="930.6" y2="1634.5" stroke="#000" stroke-width="2.2"/>
<text x="930.6" y="1675" font-size="42.5" text-anchor="middle" >0.4</text>
</g>
<clipPath id="clipC"><rect x="147.2" y="1832" width="956.2" height="477.2"/></clipPath>
<g clip-path="url(#clipC)">
<rect x="147.2" y="1832" width="956.2" height="477.2" fill="#3b4cc0"/>
<path d="M147.2 2327.1L165.1 2327.1L183.1 2327.1L201 2327.1L218.9 2327.1L236.8 2327.1L254.8 2327.1L272.7 2327.1L290.6 2327.1L308.6 2327.1L326.5 2327.1L344.4 2327.1L362.3 2327.1L380.3 2327.1L398.2 2327.1L416.1 2327.1L434.1 2327.1L452 2327.1L469.9 2327.1L487.8 2327.1L505.8 2327.1L523.7 2327.1L541.6 2327.1L559.6 2327.1L577.5 2327.1L595.4 2327.1L613.3 2327.1L631.3 2327.1L649.2 2327.1L667.1 2327.1L685.1 2327.1L703 2327.1L720.9 2327.1L738.8 2327.1L756.8 2327.1L774.7 2327.1L792.6 2327.1L810.6 2327.1L828.5 2327.1L846.4 2327.1L864.4 2327.1L882.3 2327.1L900.2 2327.1L918.1 2327.1L936.1 2327.1L954 2327.1L971.9 2327.1L989.9 2327.1L1007.8 2327.1L1025.7 2327.1L1043.6 2327.1L1061.6 2327.1L1079.5 2327.1L1097.4 2327.1L1115.4 2327.1L1133.3 2327.1L1133.3 2309.2L1133.3 2291.3L1133.3 2273.4L1133.3 2255.5L1133.3 2237.6L1133.3 2219.7L1133.3 2201.8L1133.3 2183.9L1133.3 2166L1133.3 2148.1L1133.3 2130.2L1133.3 2112.4L1133.3 2094.5L1133.3 2076.6L1133.3 2058.7L1133.3 2040.8L1133.3 2022.9L1133.3 2005L1133.3 1987.1L1133.3 1969.2L1133.3 1951.3L1133.3 1933.4L1133.3 1915.5L1133.3 1897.6L1133.3 1879.7L1133.3 1861.8L1133.3 1843.9L1133.3 1826L1133.3 1808.1L1115.4 1808.1L1097.4 1808.1L1079.5 1808.1L1061.6 1808.1L1043.6 1808.1L1025.7 1808.1L1007.8 1808.1L989.9 1808.1L971.9 1808.1L954 1808.1L936.1 1808.1L918.1 1808.1L900.2 1808.1L882.3 1808.1L864.4 1808.1L846.4 1808.1L828.5 1808.1L810.6 1808.1L792.6 1808.1L774.7 1808.1L756.8 1808.1L738.8 1808.1L720.9 1808.1L703 1808.1L685.1 1808.1L667.1 1808.1L649.2 1808.1L631.3 1808.1L613.3 1808.1L595.4 1808.1L577.5 1808.1L559.6 1808.1L541.6 1808.1L523.7 1808.1L505.8 1808.1L487.8 1808.1L469.9 1808.1L452 1808.1L434.1 1808.1L416.1 1808.1L398.2 1808.1L380.3 1808.1L362.3 1808.1L344.4 1808.1L326.5 1808.1L308.6 1808.1L290.6 1808.1L272.7 1808.1L254.8 1808.1L236.8 1808.1L218.9 1808.1L201 1808.1L183.1 1808.1L165.1 1808.1L147.2 1808.1L129.3 1808.1L129.3 1826L129.3 1843.9L129.3 1861.8L129.3 1879.7L129.3 1897.6L129.3 1915.5L129.3 1933.4L129.3 1951.3L129.3 1969.2L129.3 1987.1L129.3 2005L129.3 2022.9L129.3 2040.8L129.3 2058.7L129.3 2076.6L129.3 2094.5L129.3 2112.4L129.3 2130.2L129.3 2148.1L129.3 2166L129.3 2183.9L129.3 2201.8L129.3 2219.7L129.3 2237.6L129.3 2255.5L129.3 2273.4L129.3 2291.3L129.3 2309.2L129.3 2327.1ZM331 1879.7L326.5 1875.6L312 1861.8L308.6 1847.2L308.1 1843.9L308.6 1843.7L326.5 1841.2L336.4 1843.9L344.4 1849.4L362.3 1859.6L365.5 1861.8L371.1 1879.7L362.3 1889.5L344.4 1889.5Z" fill="#445acc"/>
<path d="M147.2 2327.1L165.1 2327.1L183.1 2327.1L201 2327.1L218.9 2327.1L236.8 2327.1L254.8 2327.1L272.7 2327.1L290.6 2327.1L308.6 2327.1L326.5 2327.1L344.4 2327.1L362.3 2327.1L380.3 2327.1L398.2 2327.1L416.1 2327.1L434.1 2327.1L452 2327.1L469.9 2327.1L487.8 2327.1L505.8 2327.1L523.7 2327.1L541.6 2327.1L559.6 2327.1L577.5 2327.1L595.4 2327.1L613.3 2327.1L631.3 2327.1L649.2 2327.1L667.1 2327.1L685.1 2327.1L703 2327.1L720.9 2327.1L738.8 2327.1L756.8 2327.1L774.7 2327.1L792.6 2327.1L810.6 2327.1L828.5 2327.1L846.4 2327.1L864.4 2327.1L882.3 2327.1L900.2 2327.1L918.1 2327.1L936.1 2327.1L954 2327.1L971.9 2327.1L989.9 2327.1L1007.8 2327.1L1025.7 2327.1L1043.6 2327.1L1061.6 2327.1L1079.5 2327.1L1097.4 2327.1L1115.4 2327.1L1133.3 2327.1L1133.3 2309.2L1133.3 2291.3L1133.3 2273.4L1133.3 2255.5L1133.3 2237.6L1133.3 2219.7L1133.3 2201.8L1133.3 2183.9L1133.3 2166L1133.3 2148.1L1133.3 2130.2L1133.3 2112.4L1133.3 2094.5L1133.3 2076.6L1133.3 2058.7L1133.3 2040.8L1133.3 2022.9L1133.3 2005L1133.3 1987.1L1133.3 1969.2L1133.3 1951.3L1133.3 1933.4L1133.3 1915.5L1133.3 1897.6L1133.3 1879.7L1133.3 1861.8L1133.3 1843.9L1133.3 1826L1133.3 1808.1L1115.4 1808.1L1097.4 1808.1L1079.5 1808.1L1061.6 1808.1L1043.6 1808.1L1025.7 1808.1L1007.8 1808.1L989.9 1808.1L971.9 1808.1L954 1808.1L936.1 1808.1L918.1 1808.1L900.2 1808.1L882.3 1808.1L864.4 1808.1L846.4 1808.1L828.5 1808.1L810.6 1808.1L792.6 1808.1L774.7 1808.1L756.8 1808.1L738.8 1808.1L720.9 1808.1L703 1808.1L685.1 1808.1L667.1 1808.1L649.2 1808.1L631.3 1808.1L613.3 1808.1L595.4 1808.1L577.5 1808.1L559.6 1808.1L541.6 1808.1L523.7 1808.1L505.8 1808.1L487.8 1808.1L469.9 1808.1L452 1808.1L434.1 1808.1L416.1 1808.1L398.2 1808.1L380.3 1808.1L362.3 1808.1L344.4 1808.1L326.5 1808.1L308.6 1808.1L290.6 1808.1L272.7 1808.1L254.8 1808.1L236.8 1808.1L218.9 1808.1L201 1808.1L183.1 1808.1L165.1 1808.1L147.2 1808.1L129.3 1808.1L129.3 1826L129.3 1843.9L129.3 1861.8L129.3 1879.7L129.3 1897.6L129.3 1915.5L129.3 1933.4L129.3 1951.3L129.3 1969.2L129.3 1987.1L129.3 2005L129.3 2022.9L129.3 2040.8L129.3 2058.7L129.3 2076.6L129.3 2094.5L129.3 2112.4L129.3 2130.2L129.3 2148.1L129.3 2166L129.3 2183.9L129.3 2201.8L129.3 2219.7L129.3 2237.6L129.3 2255.5L129.3 2273.4L129.3 2291.3L129.3 2309.2L129.3 2327.1ZM341.7 1897.6L326.5 1886.4L320.3 1879.7L308.6 1868.4L302.3 1861.8L300.4 1843.9L308.6 1839.1L326.5 1837L344.4 1841.4L350.9 1843.9L362.3 1851.3L377.2 1861.8L380.3 1872.9L381.8 1879.7L380.3 1881.9L366.4 1897.6L362.3 1899.9L344.4 1898.7Z" fill="#5673e0"/>
<path d="M147.2 2327.1L165.1 2327.1L183.1 2327.1L201 2327.1L218.9 2327.1L236.8 2327.1L254.8 2327.1L272.7 2327.1L290.6 2327.1L308.6 2327.1L326.5 2327.1L344.4 2327.1L362.3 2327.1L380.3 2327.1L398.2 2327.1L416.1 2327.1L434.1 2327.1L452 2327.1L469.9 2327.1L487.8 2327.1L505.8 2327.1L523.7 2327.1L541.6 2327.1L559.6 2327.1L577.5 2327.1L595.4 2327.1L613.3 2327.1L631.3 2327.1L649.2 2327.1L667.1 2327.1L685.1 2327.1L703 2327.1L720.9 2327.1L738.8 2327.1L756.8 2327.1L774.7 2327.1L792.6 2327.1L810.6 2327.1L828.5 2327.1L846.4 2327.1L864.4 2327.1L882.3 2327.1L900.2 2327.1L918.1 2327.1L936.1 2327.1L954 2327.1L971.9 2327.1L989.9 2327.1L1007.8 2327.1L1025.7 2327.1L1043.6 2327.1L1061.6 2327.1L1079.5 2327.1L1097.4 2327.1L1115.4 2327.1L1133.3 2327.1L1133.3 2309.2L1133.3 2291.3L1133.3 2273.4L1133.3 2255.5L1133.3 2237.6L1133.3 2219.7L1133.3 2201.8L1133.3 2183.9L1133.3 2166L1133.3 2148.1L1133.3 2130.2L1133.3 2112.4L1133.3 2094.5L1133.3 2076.6L1133.3 2058.7L1133.3 2040.8L1133.3 2022.9L1133.3 2005L1133.3 1987.1L1133.3 1969.2L1133.3 1951.3L1133.3 1933.4L1133.3 1915.5L1133.3 1897.6L1133.3 1879.7L1133.3 1861.8L1133.3 1843.9L1133.3 1826L1133.3 1808.1L1115.4 1808.1L1097.4 1808.1L1079.5 1808.1L1061.6 1808.1L1043.6 1808.1L1025.7 1808.1L1007.8 1808.1L989.9 1808.1L971.9 1808.1L954 1808.1L936.1 1808.1L918.1 1808.1L900.2 1808.1L882.3 1808.1L864.4 1808.1L846.4 1808.1L828.5 1808.1L810.6 1808.1L792.6 1808.1L774.7 1808.1L756.8 1808.1L738.8 1808.1L720.9 1808.1L703 1808.1L685.1 1808.1L667.1 1808.1L649.2 1808.1L631.3 1808.1L613.3 1808.1L595.4 1808.1L577.5 1808.1L559.6 1808.1L541.6 1808.1L523.7 1808.1L505.8 1808.1L487.8 1808.1L469.9 1808.1L452 1808.1L434.1 1808.1L416.1 1808.1L398.2 1808.1L380.3 1808.1L362.3 1808.1L344.4 1808.1L326.5 1808.1L308.6 1808.1L290.6 1808.1L272.7 1808.1L254.8 1808.1L236.8 1808.1L218.9 1808.1L201 1808.1L183.1 1808.1L165.1 1808.1L147.2 1808.1L129.3 1808.1L129.3 1826L129.3 1843.9L129.3 1861.8L129.3 1879.7L129.3 1897.6L129.3 1915.5L129.3 1933.4L129.3 1951.3L129.3 1969.2L129.3 1987.1L129.3 2005L129.3 2022.9L129.3 2040.8L129.3 2058.7L129.3 2076.6L129.3 2094.5L129.3 2112.4L129.3 2130.2L129.3 2148.1L129.3 2166L129.3 2183.9L129.3 2201.8L129.3 2219.7L129.3 2237.6L129.3 2255.5L129.3 2273.4L129.3 2291.3L129.3 2309.2L129.3 2327.1ZM328.3 1897.6L326.5 1896.3L311.1 1879.7L308.6 1877.3L294 1861.8L292.8 1843.9L308.6 1834.5L326.5 1832.7L344.4 1836.3L362.3 1843.2L364.1 1843.9L380.3 1854.6L388.6 1861.8L391.2 1879.7L380.3 1895.2L378.1 1897.6L362.3 1906.3L344.4 1904Z" fill="#6c8ff1"/>
<path d="M147.2 2327.1L165.1 2327.1L183.1 2327.1L201 2327.1L218.9 2327.1L236.8 2327.1L254.8 2327.1L272.7 2327.1L290.6 2327.1L308.6 2327.1L326.5 2327.1L344.4 2327.1L362.3 2327.1L380.3 2327.1L398.2 2327.1L416.1 2327.1L434.1 2327.1L452 2327.1L469.9 2327.1L487.8 2327.1L505.8 2327.1L523.7 2327.1L541.6 2327.1L559.6 2327.1L577.5 2327.1L595.4 2327.1L613.3 2327.1L631.3 2327.1L649.2 2327.1L667.1 2327.1L685.1 2327.1L703 2327.1L720.9 2327.1L738.8 2327.1L756.8 2327.1L774.7 2327.1L792.6 2327.1L810.6 2327.1L828.5 2327.1L846.4 2327.1L864.4 2327.1L882.3 2327.1L900.2 2327.1L918.1 2327.1L936.1 2327.1L954 2327.1L971.9 2327.1L989.9 2327.1L1007.8 2327.1L1025.7 2327.1L1043.6 2327.1L1061.6 2327.1L1079.5 2327.1L1097.4 2327.1L1115.4 2327.1L1133.3 2327.1L1133.3 2309.2L1133.3 2291.3L1133.3 2273.4L1133.3 2255.5L1133.3 2237.6L1133.3 2219.7L1133.3 2201.8L1133.3 2183.9L1133.3 2166L1133.3 2148.1L1133.3 2130.2L1133.3 2112.4L1133.3 2094.5L1133.3 2076.6L1133.3 2058.7L1133.3 2040.8L1133.3 2022.9L1133.3 2005L1133.3 1987.1L1133.3 1969.2L1133.3 1951.3L1133.3 1933.4L1133.3 1915.5L1133.3 1897.6L1133.3 1879.7L1133.3 1861.8L1133.3 1843.9L1133.3 1826L1133.3 1808.1L1115.4 1808.1L1097.4 1808.1L1079.5 1808.1L1061.6 1808.1L1043.6 1808.1L1025.7 1808.1L1007.8 1808.1L989.9 1808.1L971.9 1808.1L954 1808.1L936.1 1808.1L918.1 1808.1L900.2 1808.1L882.3 1808.1L864.4 1808.1L846.4 1808.1L828.5 1808.1L810.6 1808.1L792.6 1808.1L774.7 1808.1L756.8 1808.1L738.8 1808.1L720.9 1808.1L703 1808.1L685.1 1808.1L667.1 1808.1L649.2 1808.1L631.3 1808.1L613.3 1808.1L595.4 1808.1L577.5 1808.1L559.6 1808.1L541.6 1808.1L523.7 1808.1L505.8 1808.1L487.8 1808.1L469.9 1808.1L452 1808.1L434.1 1808.1L416.1 1808.1L398.2 1808.1L380.3 1808.1L362.3 1808.1L344.4 1808.1L326.5 1808.1L308.6 1808.1L290.6 1808.1L272.7 1808.1L254.8 1808.1L236.8 1808.1L218.9 1808.1L201 1808.1L183.1 1808.1L165.1 1808.1L147.2 1808.1L129.3 1808.1L129.3 1826L129.3 1843.9L129.3 1861.8L129.3 1879.7L129.3 1897.6L129.3 1915.5L129.3 1933.4L129.3 1951.3L129.3 1969.2L129.3 1987.1L129.3 2005L129.3 2022.9L129.3 2040.8L129.3 2058.7L129.3 2076.6L129.3 2094.5L129.3 2112.4L129.3 2130.2L129.3 2148.1L129.3 2166L129.3 2183.9L129.3 2201.8L129.3 2219.7L129.3 2237.6L129.3 2255.5L129.3 2273.4L129.3 2291.3L129.3 2309.2L129.3 2327.1ZM318.9 1897.6L308.6 1886.5L300.1 1879.7L290.6 1869.4L284.1 1861.8L284.8 1843.9L290.6 1839.2L308.6 1830L326.5 1828.4L344.4 1831.2L362.3 1836.6L379 1843.9L380.3 1844.7L398.2 1859.6L402.1 1861.8L403.4 1879.7L398.2 1883.1L387.9 1897.6L380.3 1903.6L362.3 1912.7L344.4 1909.3L326.5 1902.8ZM436 1879.7L435.1 1861.8L452 1857.2L469.9 1861.7L470.1 1861.8L471.1 1879.7L469.9 1880.7L452 1885.1Z" fill="#82a6fb"/>
<path d="M147.2 2327.1L165.1 2327.1L183.1 2327.1L201 2327.1L218.9 2327.1L236.8 2327.1L254.8 2327.1L272.7 2327.1L290.6 2327.1L308.6 2327.1L326.5 2327.1L344.4 2327.1L362.3 2327.1L380.3 2327.1L398.2 2327.1L416.1 2327.1L434.1 2327.1L452 2327.1L469.9 2327.1L487.8 2327.1L505.8 2327.1L523.7 2327.1L541.6 2327.1L559.6 2327.1L577.5 2327.1L595.4 2327.1L613.3 2327.1L631.3 2327.1L649.2 2327.1L667.1 2327.1L685.1 2327.1L703 2327.1L720.9 2327.1L738.8 2327.1L756.8 2327.1L774.7 2327.1L792.6 2327.1L810.6 2327.1L828.5 2327.1L846.4 2327.1L864.4 2327.1L882.3 2327.1L900.2 2327.1L918.1 2327.1L936.1 2327.1L954 2327.1L971.9 2327.1L989.9 2327.1L1007.8 2327.1L1025.7 2327.1L1043.6 2327.1L1061.6 2327.1L1079.5 2327.1L1097.4 2327.1L1115.4 2327.1L1133.3 2327.1L1133.3 2309.2L1133.3 2291.3L1133.3 2273.4L1133.3 2255.5L1133.3 2237.6L1133.3 2219.7L1133.3 2201.8L1133.3 2183.9L1133.3 2166L1133.3 2148.1L1133.3 2130.2L1133.3 2112.4L1133.3 2094.5L1133.3 2076.6L1133.3 2058.7L1133.3 2040.8L1133.3 2022.9L1133.3 2005L1133.3 1987.1L1133.3 1969.2L1133.3 1951.3L1133.3 1933.4L1133.3 1915.5L1133.3 1897.6L1133.3 1879.7L1133.3 1861.8L1133.3 1843.9L1133.3 1826L1133.3 1808.1L1115.4 1808.1L1097.4 1808.1L1079.5 1808.1L1061.6 1808.1L1043.6 1808.1L1025.7 1808.1L1007.8 1808.1L989.9 1808.1L971.9 1808.1L954 1808.1L936.1 1808.1L918.1 1808.1L900.2 1808.1L882.3 1808.1L864.4 1808.1L846.4 1808.1L828.5 1808.1L810.6 1808.1L792.6 1808.1L774.7 1808.1L756.8 1808.1L738.8 1808.1L720.9 1808.1L703 1808.1L685.1 1808.1L667.1 1808.1L649.2 1808.1L631.3 1808.1L613.3 1808.1L595.4 1808.1L577.5 1808.1L559.6 1808.1L541.6 1808.1L523.7 1808.1L505.8 1808.1L487.8 1808.1L469.9 1808.1L452 1808.1L434.1 1808.1L416.1 1808.1L398.2 1808.1L380.3 1808.1L362.3 1808.1L344.4 1808.1L326.5 1808.1L308.6 1808.1L290.6 1808.1L272.7 1808.1L254.8 1808.1L236.8 1808.1L218.9 1808.1L201 1808.1L183.1 1808.1L165.1 1808.1L147.2 1808.1L129.3 1808.1L129.3 1826L129.3 1843.9L129.3 1861.8L129.3 1879.7L129.3 1897.6L129.3 1915.5L129.3 1933.4L129.3 1951.3L129.3 1969.2L129.3 1987.1L129.3 2005L129.3 2022.9L129.3 2040.8L129.3 2058.7L129.3 2076.6L129.3 2094.5L129.3 2112.4L129.3 2130.2L129.3 2148.1L129.3 2166L129.3 2183.9L129.3 2201.8L129.3 2219.7L129.3 2237.6L129.3 2255.5L129.3 2273.4L129.3 2291.3L129.3 2309.2L129.3 2327.1ZM348.7 1915.5L344.4 1914.5L326.5 1908.7L310.2 1897.6L308.6 1895.9L290.6 1881.7L284.9 1879.7L273.4 1861.8L276.7 1843.9L290.6 1832.5L306.4 1826L308.6 1824.8L326.5 1822.1L344.3 1826L344.4 1826.1L362.3 1829.9L380.3 1835.8L396.1 1843.9L398.2 1845.7L416.1 1855.4L434.1 1852.6L452 1850.4L469.9 1854.7L480.5 1861.8L481.9 1879.7L469.9 1889.2L452 1892.8L434.1 1888.8L416.1 1884.8L398.2 1896.4L397.3 1897.6L380.3 1911L371 1915.5L362.3 1918.5Z" fill="#98b9ff"/>
<path d="M147.2 2327.1L165.1 2327.1L183.1 2327.1L201 2327.1L218.9 2327.1L236.8 2327.1L254.8 2327.1L272.7 2327.1L290.6 2327.1L308.6 2327.1L326.5 2327.1L344.4 2327.1L362.3 2327.1L380.3 2327.1L398.2 2327.1L416.1 2327.1L434.1 2327.1L452 2327.1L469.9 2327.1L487.8 2327.1L505.8 2327.1L523.7 2327.1L541.6 2327.1L559.6 2327.1L577.5 2327.1L595.4 2327.1L613.3 2327.1L631.3 2327.1L649.2 2327.1L667.1 2327.1L685.1 2327.1L703 2327.1L720.9 2327.1L738.8 2327.1L756.8 2327.1L774.7 2327.1L792.6 2327.1L810.6 2327.1L828.5 2327.1L846.4 2327.1L864.4 2327.1L882.3 2327.1L900.2 2327.1L918.1 2327.1L936.1 2327.1L954 2327.1L971.9 2327.1L989.9 2327.1L1007.8 2327.1L1025.7 2327.1L1043.6 2327.1L1061.6 2327.1L1079.5 2327.1L1097.4 2327.1L1115.4 2327.1L1133.3 2327.1L1133.3 2309.2L1133.3 2291.3L1133.3 2273.4L1133.3 2255.5L1133.3 2237.6L1133.3 2219.7L1133.3 2201.8L1133.3 2183.9L1133.3 2166L1133.3 2148.1L1133.3 2130.2L1133.3 2112.4L1133.3 2094.5L1133.3 2076.6L1133.3 2058.7L1133.3 2040.8L1133.3 2022.9L1133.3 2005L1133.3 1987.1L1133.3 1969.2L1133.3 1951.3L1133.3 1933.4L1133.3 1915.5L1133.3 1897.6L1133.3 1879.7L1133.3 1861.8L1133.3 1843.9L1133.3 1826L1133.3 1808.1L1115.4 1808.1L1097.4 1808.1L1079.5 1808.1L1061.6 1808.1L1043.6 1808.1L1025.7 1808.1L1007.8 1808.1L989.9 1808.1L971.9 1808.1L954 1808.1L936.1 1808.1L918.1 1808.1L900.2 1808.1L882.3 1808.1L864.4 1808.1L846.4 1808.1L828.5 1808.1L810.6 1808.1L792.6 1808.1L774.7 1808.1L756.8 1808.1L738.8 1808.1L720.9 1808.1L703 1808.1L685.1 1808.1L667.1 1808.1L649.2 1808.1L631.3 1808.1L613.3 1808.1L595.4 1808.1L577.5 1808.1L559.6 1808.1L541.6 1808.1L523.7 1808.1L505.8 1808.1L487.8 1808.1L469.9 1808.1L452 1808.1L434.1 1808.1L416.1 1808.1L398.2 1808.1L380.3 1808.1L362.3 1808.1L344.4 1808.1L326.5 1808.1L308.6 1808.1L290.6 1808.1L272.7 1808.1L254.8 1808.1L236.8 1808.1L218.9 1808.1L201 1808.1L183.1 1808.1L165.1 1808.1L147.2 1808.1L129.3 1808.1L129.3 1826L129.3 1843.9L129.3 1861.8L129.3 1879.7L129.3 1897.6L129.3 1915.5L129.3 1933.4L129.3 1951.3L129.3 1969.2L129.3 1987.1L129.3 2005L129.3 2022.9L129.3 2040.8L129.3 2058.7L129.3 2076.6L129.3 2094.5L129.3 2112.4L129.3 2130.2L129.3 2148.1L129.3 2166L129.3 2183.9L129.3 2201.8L129.3 2219.7L129.3 2237.6L129.3 2255.5L129.3 2273.4L129.3 2291.3L129.3 2309.2L129.3 2327.1ZM329.2 1915.5L326.5 1914.7L308.6 1902.2L297.5 1897.6L290.6 1892.2L272.7 1890L256.7 1897.6L254.8 1898.1L236.8 1901.5L218.9 1899.9L214.4 1897.6L215.7 1879.7L218.9 1877L236.8 1868.1L249.7 1861.8L254.8 1858.8L264.8 1843.9L272.7 1838.1L290.3 1826L290.6 1825.8L308.6 1815.5L326.5 1813.3L344.4 1814.4L362.3 1818.7L376.5 1826L380.3 1827L398.2 1833.3L416.1 1840.7L434.1 1842.7L452 1843.4L453.6 1843.9L469.9 1847.7L487.8 1858.9L491.9 1861.8L494.3 1879.7L487.8 1886.3L470.4 1897.6L469.9 1897.9L452 1901.4L434.1 1898.8L416.1 1898.1L398.2 1904.8L384.3 1915.5L380.3 1917.9L362.3 1923.8L344.4 1919.7ZM706.9 1915.5L707.4 1897.6L720.9 1885L738.8 1884L754.3 1897.6L751.4 1915.5L738.8 1925.1L720.9 1927.3Z" fill="#adc9fd"/>
<path d="M147.2 2327.1L165.1 2327.1L183.1 2327.1L201 2327.1L218.9 2327.1L236.8 2327.1L254.8 2327.1L272.7 2327.1L290.6 2327.1L308.6 2327.1L326.5 2327.1L344.4 2327.1L362.3 2327.1L380.3 2327.1L398.2 2327.1L416.1 2327.1L434.1 2327.1L452 2327.1L469.9 2327.1L487.8 2327.1L505.8 2327.1L523.7 2327.1L541.6 2327.1L559.6 2327.1L577.5 2327.1L595.4 2327.1L613.3 2327.1L631.3 2327.1L649.2 2327.1L667.1 2327.1L685.1 2327.1L703 2327.1L720.9 2327.1L738.8 2327.1L756.8 2327.1L774.7 2327.1L792.6 2327.1L810.6 2327.1L828.5 2327.1L846.4 2327.1L864.4 2327.1L882.3 2327.1L900.2 2327.1L918.1 2327.1L936.1 2327.1L954 2327.1L971.9 2327.1L989.9 2327.1L1007.8 2327.1L1025.7 2327.1L1043.6 2327.1L1061.6 2327.1L1079.5 2327.1L1097.4 2327.1L1115.4 2327.1L1133.3 2327.1L1133.3 2309.2L1133.3 2291.3L1133.3 2273.4L1133.3 2255.5L1133.3 2237.6L1133.3 2219.7L1133.3 2201.8L1133.3 2183.9L1133.3 2166L1133.3 2148.1L1133.3 2130.2L1133.3 2112.4L1133.3 2094.5L1133.3 2076.6L1133.3 2058.7L1133.3 2040.8L1133.3 2022.9L1133.3 2005L1133.3 1987.1L1133.3 1969.2L1133.3 1951.3L1133.3 1933.4L1133.3 1915.5L1133.3 1897.6L1133.3 1879.7L1133.3 1861.8L1133.3 1843.9L1133.3 1826L1133.3 1808.1L1115.4 1808.1L1097.4 1808.1L1079.5 1808.1L1061.6 1808.1L1043.6 1808.1L1025.7 1808.1L1007.8 1808.1L989.9 1808.1L971.9 1808.1L954 1808.1L936.1 1808.1L918.1 1808.1L900.2 1808.1L882.3 1808.1L864.4 1808.1L846.4 1808.1L828.5 1808.1L810.6 1808.1L792.6 1808.1L774.7 1808.1L756.8 1808.1L738.8 1808.1L720.9 1808.1L703 1808.1L685.1 1808.1L667.1 1808.1L649.2 1808.1L631.3 1808.1L613.3 1808.1L595.4 1808.1L577.5 1808.1L559.6 1808.1L541.6 1808.1L523.7 1808.1L505.8 1808.1L487.8 1808.1L469.9 1808.1L452 1808.1L434.1 1808.1L416.1 1808.1L402.6 1808.1L415.7 1826L416.1 1826.2L434.1 1830.5L452 1833.7L469.9 1839.3L478.8 1843.9L487.8 1848.8L505.7 1861.8L505.8 1862.5L513.3 1879.7L505.8 1885.4L494.1 1897.6L487.8 1900.9L469.9 1909L452 1911.5L434.1 1909.7L416.1 1908.4L398.2 1912.8L394.6 1915.5L380.3 1924L362.3 1929.1L344.4 1924.8L326.5 1920.4L319.5 1915.5L308.6 1907.9L290.6 1900.4L272.7 1902.2L254.8 1907.5L236.8 1911.2L218.9 1912.1L201 1907.6L190.6 1897.6L195.5 1879.7L201 1874L216.4 1861.8L218.9 1859.7L236.8 1848.7L244.2 1843.9L254.8 1837.8L272.7 1826.7L273.6 1826L290.6 1810L297.3 1808.1L290.6 1808.1L272.7 1808.1L254.8 1808.1L236.8 1808.1L218.9 1808.1L201 1808.1L183.1 1808.1L165.1 1808.1L147.2 1808.1L129.3 1808.1L129.3 1826L129.3 1843.9L129.3 1861.8L129.3 1879.7L129.3 1897.6L129.3 1915.5L129.3 1933.4L129.3 1951.3L129.3 1969.2L129.3 1987.1L129.3 2005L129.3 2022.9L129.3 2040.8L129.3 2058.7L129.3 2076.6L129.3 2094.5L129.3 2112.4L129.3 2130.2L129.3 2148.1L129.3 2166L129.3 2183.9L129.3 2201.8L129.3 2219.7L129.3 2237.6L129.3 2255.5L129.3 2273.4L129.3 2291.3L129.3 2309.2L129.3 2327.1ZM685.5 1933.4L685.1 1930.8L683.3 1915.5L685.1 1912.1L690.2 1897.6L703 1884.8L708.5 1879.7L720.9 1873.4L738.8 1872.1L756.8 1875.4L767.8 1879.7L774.7 1886L788.6 1897.6L791.9 1915.5L774.7 1931.5L772.5 1933.4L756.8 1939.3L738.8 1945.1L720.9 1947.6L703 1945Z" fill="#c3d5f4"/>
<path d="M147.2 2327.1L165.1 2327.1L183.1 2327.1L201 2327.1L218.9 2327.1L236.8 2327.1L254.8 2327.1L272.7 2327.1L290.6 2327.1L308.6 2327.1L326.5 2327.1L344.4 2327.1L362.3 2327.1L380.3 2327.1L398.2 2327.1L416.1 2327.1L434.1 2327.1L452 2327.1L469.9 2327.1L487.8 2327.1L505.8 2327.1L523.7 2327.1L541.6 2327.1L559.6 2327.1L577.5 2327.1L595.4 2327.1L613.3 2327.1L631.3 2327.1L649.2 2327.1L667.1 2327.1L685.1 2327.1L703 2327.1L720.9 2327.1L738.8 2327.1L756.8 2327.1L774.7 2327.1L792.6 2327.1L810.6 2327.1L828.5 2327.1L846.4 2327.1L864.4 2327.1L882.3 2327.1L900.2 2327.1L918.1 2327.1L936.1 2327.1L954 2327.1L971.9 2327.1L989.9 2327.1L1007.8 2327.1L1025.7 2327.1L1043.6 2327.1L1061.6 2327.1L1079.5 2327.1L1097.4 2327.1L1115.4 2327.1L1133.3 2327.1L1133.3 2309.2L1133.3 2291.3L1133.3 2273.4L1133.3 2255.5L1133.3 2237.6L1133.3 2219.7L1133.3 2201.8L1133.3 2183.9L1133.3 2166L1133.3 2148.1L1133.3 2130.2L1133.3 2112.4L1133.3 2094.5L1133.3 2076.6L1133.3 2058.7L1133.3 2040.8L1133.3 2022.9L1133.3 2005L1133.3 1987.1L1133.3 1969.2L1133.3 1951.3L1133.3 1933.4L1133.3 1915.5L1133.3 1897.6L1133.3 1891.2L1115.4 1891.2L1097.4 1886.4L1083.9 1879.7L1079.5 1876.5L1064.3 1879.7L1061.6 1880.2L1043.6 1891.2L1032.9 1897.6L1025.7 1900.5L1007.8 1905.2L989.9 1906.8L971.9 1904.4L958.3 1897.6L954 1892.8L947.2 1879.7L944.7 1861.8L945.4 1843.9L949.1 1826L949.1 1808.1L936.1 1808.1L918.1 1808.1L900.2 1808.1L882.3 1808.1L864.4 1808.1L846.4 1808.1L828.5 1808.1L810.6 1808.1L792.6 1808.1L774.7 1808.1L756.8 1808.1L738.8 1808.1L720.9 1808.1L703 1808.1L685.1 1808.1L667.1 1808.1L649.2 1808.1L631.3 1808.1L613.3 1808.1L595.4 1808.1L577.5 1808.1L559.6 1808.1L541.6 1808.1L523.7 1808.1L505.8 1808.1L487.8 1808.1L469.9 1808.1L453.7 1808.1L458.9 1826L469.9 1829.5L487.8 1837.6L501.2 1843.9L505.8 1846.6L523.7 1852L541.6 1853.4L559.6 1854.8L577.5 1859.9L581.1 1861.8L590.8 1879.7L583.5 1897.6L577.5 1902.3L559.6 1909.7L541.6 1909.3L523.7 1907.8L505.8 1910.1L490.2 1915.5L487.8 1915.9L469.9 1919.4L452 1922L434.1 1920.8L416.1 1918.6L398.2 1920.5L380.3 1930.1L367.2 1933.4L362.3 1934.5L358.4 1933.4L344.4 1929.9L326.5 1926L311.4 1915.5L308.6 1913.5L290.6 1906.2L272.7 1910.5L258.3 1915.5L254.8 1917L236.8 1921.7L218.9 1925.6L201 1930.1L190.6 1933.4L183.1 1937.4L165.1 1938.4L160.5 1933.4L156.9 1915.5L160.9 1897.6L165.1 1891.9L171.3 1879.7L183.1 1867.2L188.1 1861.8L201 1848.6L207.1 1843.9L218.9 1834.5L236.8 1826.2L237.2 1826L238.1 1808.1L236.8 1808.1L218.9 1808.1L201 1808.1L183.1 1808.1L165.1 1808.1L147.2 1808.1L129.3 1808.1L129.3 1826L129.3 1843.9L129.3 1861.8L129.3 1879.7L129.3 1897.6L129.3 1915.5L129.3 1933.4L129.3 1951.3L129.3 1969.2L129.3 1987.1L129.3 2005L129.3 2022.9L129.3 2040.8L129.3 2058.7L129.3 2076.6L129.3 2094.5L129.3 2112.4L129.3 2130.2L129.3 2148.1L129.3 2166L129.3 2183.9L129.3 2201.8L129.3 2219.7L129.3 2237.6L129.3 2255.5L129.3 2273.4L129.3 2291.3L129.3 2309.2L129.3 2327.1ZM674.2 1951.3L667.1 1942.9L660.4 1933.4L656.6 1915.5L662.9 1897.6L667.1 1894.1L685.1 1880.6L685.9 1879.7L703 1869.7L720.9 1863.4L738.6 1861.8L738.8 1861.8L756.8 1858.5L774.7 1860.2L782.5 1861.8L792.6 1865.2L810.6 1873.1L825.2 1879.7L828.5 1882L846.4 1892.6L855.6 1897.6L864.4 1906.9L873.3 1915.5L867.5 1933.4L864.4 1934.3L846.4 1938L828.5 1941.1L810.6 1944.8L792.6 1949.7L787.7 1951.3L774.7 1954L756.8 1957.9L738.8 1961.3L720.9 1963.1L703 1962.3L685.1 1957.6Z" fill="#d4dbe6"/>
<path d="M147.2 2327.1L165.1 2327.1L183.1 2327.1L201 2327.1L218.9 2327.1L236.8 2327.1L254.8 2327.1L272.7 2327.1L290.6 2327.1L308.6 2327.1L326.5 2327.1L344.4 2327.1L362.3 2327.1L380.3 2327.1L398.2 2327.1L416.1 2327.1L434.1 2327.1L452 2327.1L469.9 2327.1L487.8 2327.1L505.8 2327.1L523.7 2327.1L541.6 2327.1L559.6 2327.1L577.5 2327.1L595.4 2327.1L613.3 2327.1L631.3 2327.1L649.2 2327.1L667.1 2327.1L685.1 2327.1L703 2327.1L720.9 2327.1L738.8 2327.1L756.8 2327.1L774.7 2327.1L792.6 2327.1L810.6 2327.1L828.5 2327.1L846.4 2327.1L864.4 2327.1L882.3 2327.1L900.2 2327.1L918.1 2327.1L936.1 2327.1L954 2327.1L971.9 2327.1L989.9 2327.1L1007.8 2327.1L1025.7 2327.1L1043.6 2327.1L1061.6 2327.1L1079.5 2327.1L1097.4 2327.1L1115.4 2327.1L1133.3 2327.1L1133.3 2309.2L1133.3 2291.3L1133.3 2273.4L1133.3 2255.5L1133.3 2237.6L1133.3 2219.7L1133.3 2201.8L1133.3 2183.9L1133.3 2166L1133.3 2148.1L1133.3 2130.2L1133.3 2112.4L1133.3 2094.5L1133.3 2076.6L1133.3 2058.7L1133.3 2040.8L1133.3 2022.9L1133.3 2005L1133.3 1987.1L1133.3 1969.2L1133.3 1951.3L1133.3 1933.4L1133.3 1931L1115.4 1931L1097.4 1932.2L1089.8 1933.4L1079.5 1935.4L1061.6 1936.5L1043.6 1936.4L1025.7 1936.2L1007.8 1936.5L989.9 1937.8L971.9 1941.5L954 1950.6L953 1951.3L936.1 1966L930.4 1969.2L918.1 1974.1L900.2 1972.1L887.5 1969.2L882.3 1968.1L864.4 1964.5L846.4 1962.7L828.5 1962.2L810.6 1963.1L792.6 1965.5L774.7 1969L773.8 1969.2L756.8 1972.3L738.8 1975.1L720.9 1976.5L703 1975.8L685.1 1972.5L676.7 1969.2L667.1 1964.2L650 1951.3L649.2 1950.1L634 1933.4L631.3 1928.7L613.3 1921.7L595.4 1927.4L580.6 1933.4L577.5 1934.4L559.6 1936.5L543.9 1933.4L541.6 1933L523.7 1927.6L505.8 1924.7L487.8 1925.5L469.9 1928.7L452 1932.7L434.1 1932.2L416.1 1928.6L398.2 1928.1L387.4 1933.4L380.3 1936.3L362.3 1940L344.4 1935.6L335.3 1933.4L326.5 1931.7L308.6 1918.8L299.4 1915.5L290.6 1911.9L279.7 1915.5L272.7 1918.7L254.8 1927.3L236.8 1932.8L234.8 1933.4L218.9 1942.5L206.7 1951.3L201 1955.8L183.1 1966.3L169.4 1969.2L165.1 1970L162.6 1969.2L147.2 1962.7L129.3 1962.7L129.3 1969.2L129.3 1987.1L129.3 2005L129.3 2022.9L129.3 2040.8L129.3 2058.7L129.3 2076.6L129.3 2094.5L129.3 2112.4L129.3 2130.2L129.3 2148.1L129.3 2166L129.3 2183.9L129.3 2201.8L129.3 2219.7L129.3 2237.6L129.3 2255.5L129.3 2273.4L129.3 2291.3L129.3 2309.2L129.3 2327.1ZM631.3 1862.6L649.2 1868.1L667.1 1866.2L683.5 1861.8L685.1 1861.5L703 1855.2L720.9 1855.6L738.8 1856.8L756.8 1844L757.6 1843.9L774.7 1842.2L792.6 1843.4L796.3 1843.9L810.6 1845.9L828.5 1849.3L846.4 1852.6L864.4 1854.6L882.3 1852L890.7 1843.9L891.6 1826L891.6 1808.1L882.3 1808.1L864.4 1808.1L846.4 1808.1L828.5 1808.1L810.6 1808.1L792.6 1808.1L774.7 1808.1L756.8 1808.1L738.8 1808.1L720.9 1808.1L703 1808.1L685.1 1808.1L667.1 1808.1L649.2 1808.1L631.3 1808.1L613.3 1808.1L595.4 1808.1L577.5 1808.1L559.6 1808.1L541.6 1808.1L523.7 1808.1L505.8 1808.1L487.8 1808.1L487 1808.1L487.8 1814.4L489.9 1826L505.8 1831.7L523.7 1834.5L541.6 1834.4L559.6 1833.9L577.5 1835.8L595.4 1841.6L600.2 1843.9L613.3 1851.9L630.5 1861.8Z" fill="#e5d8d1"/>
<path d="M147.2 2327.1L165.1 2327.1L183.1 2327.1L201 2327.1L218.9 2327.1L236.8 2327.1L254.8 2327.1L272.7 2327.1L290.6 2327.1L308.6 2327.1L326.5 2327.1L344.4 2327.1L362.3 2327.1L380.3 2327.1L398.2 2327.1L416.1 2327.1L434.1 2327.1L452 2327.1L469.9 2327.1L487.8 2327.1L505.8 2327.1L523.7 2327.1L541.6 2327.1L559.6 2327.1L577.5 2327.1L595.4 2327.1L613.3 2327.1L631.3 2327.1L649.2 2327.1L667.1 2327.1L685.1 2327.1L703 2327.1L720.9 2327.1L738.8 2327.1L756.8 2327.1L774.7 2327.1L792.6 2327.1L810.6 2327.1L828.5 2327.1L846.4 2327.1L864.4 2327.1L874.9 2327.1L874.9 2309.2L864.9 2291.3L864.6 2273.4L871.6 2255.5L882.1 2237.6L882.3 2237.3L893.8 2219.7L900.2 2208.7L904.6 2201.8L916.8 2183.9L918.1 2182.3L936.1 2166.1L936.1 2166L954 2148.3L954.2 2148.1L965.5 2130.2L971.9 2119.6L978.4 2112.4L989.9 2103.6L1002.2 2094.5L1007.8 2090.8L1022.7 2076.6L1025.7 2074.2L1042.3 2058.7L1043.6 2057.6L1061.6 2043.2L1064.5 2040.8L1078.9 2022.9L1079.5 2019.4L1081.9 2005L1079.5 1999.3L1072 1987.1L1061.6 1980.8L1043.6 1973.4L1027.3 1969.2L1025.7 1968.9L1007.8 1967.7L998.5 1969.2L989.9 1971L971.9 1983.4L968.3 1987.1L955.5 2005L954 2008.1L940.7 2022.9L936.1 2028.7L928.2 2022.9L918.1 2019.3L905.2 2005L900.2 2001.9L882.3 1990.3L876.1 1987.1L864.4 1982.5L846.4 1978L828.5 1975.9L810.6 1975.8L792.6 1978L774.7 1981.8L756.8 1985.5L746.1 1987.1L738.8 1988.3L720.9 1989.4L703 1988.5L695.4 1987.1L685.1 1985.4L667.1 1979.7L649.2 1970.6L646.3 1969.2L631.3 1959.2L613.3 1953.5L595.4 1955.8L577.5 1960.5L559.6 1961L541.6 1952.8L540.5 1951.3L523.7 1941.5L505.8 1935.4L487.8 1934.2L469.9 1935.8L452 1941.5L434.1 1942L416.1 1938.7L398.2 1936.1L380.3 1942.6L362.3 1945.5L344.4 1942.5L326.5 1939L321.6 1933.4L308.6 1923.9L290.6 1917.4L272.7 1926.8L260.7 1933.4L254.8 1939.5L236.8 1949.4L233.9 1951.3L218.9 1964L212.4 1969.2L201 1978L183.1 1986.5L180.1 1987.1L165.1 1990L149.7 1987.1L147.2 1986.6L129.3 1986.6L129.3 1987.1L129.3 2005L129.3 2022.9L129.3 2040.8L129.3 2058.7L129.3 2076.6L129.3 2094.5L129.3 2112.4L129.3 2130.2L129.3 2148.1L129.3 2166L129.3 2183.9L129.3 2201.8L129.3 2219.7L129.3 2237.6L129.3 2255.5L129.3 2273.4L129.3 2291.3L129.3 2309.2L129.3 2327.1ZM379.6 2148.1L380.3 2146.5L381.6 2148.1L380.3 2149.1ZM720.9 1848.1L738.8 1851.9L749.9 1843.9L756.3 1826L752.4 1808.1L738.8 1808.1L720.9 1808.1L703 1808.1L685.1 1808.1L667.1 1808.1L649.2 1808.1L631.3 1808.1L625.2 1808.1L625.2 1826L631.3 1829.2L649.2 1838.4L667.1 1843.7L685.1 1843L703 1838.1L708.5 1843.9Z" fill="#f1ccb8"/>
<path d="M147.2 2327.1L165.1 2327.1L183.1 2327.1L201 2327.1L218.9 2327.1L236.8 2327.1L254.8 2327.1L272.7 2327.1L290.6 2327.1L308.6 2327.1L326.5 2327.1L344.4 2327.1L362.3 2327.1L380.3 2327.1L398.2 2327.1L416.1 2327.1L434.1 2327.1L452 2327.1L469.9 2327.1L487.8 2327.1L505.8 2327.1L523.7 2327.1L541.6 2327.1L559.6 2327.1L577.5 2327.1L595.4 2327.1L613.3 2327.1L631.3 2327.1L649.2 2327.1L667.1 2327.1L685.1 2327.1L703 2327.1L720.9 2327.1L738.8 2327.1L756.8 2327.1L774.7 2327.1L792.6 2327.1L810.6 2327.1L828.5 2327.1L828.9 2327.1L828.9 2309.2L828.5 2307.1L825.4 2291.3L825.3 2273.4L827.6 2255.5L828.5 2252L832.3 2237.6L841.6 2219.7L846.4 2213.5L855 2201.8L864.4 2189.1L867.3 2183.9L876.2 2166L882.3 2155.7L886.8 2148.1L897.9 2130.2L900.2 2123.3L903 2112.4L902.8 2094.5L900.7 2076.6L900.2 2073.6L898.3 2058.7L894.7 2040.8L887.2 2022.9L882.3 2016.9L872.7 2005L864.4 1999.8L846.4 1991.4L828.5 1987.2L824.6 1987.1L810.6 1986.6L807.6 1987.1L792.6 1989.6L774.7 1995.3L756.8 2000.7L738.8 2003.6L720.9 2004L703 2002.8L685.1 2000.2L667.1 1995.6L649.2 1988.9L644.1 1987.1L631.3 1982.3L613.3 1980.2L595.4 1984.3L586.3 1987.1L577.5 1990.7L559.6 1992.4L548.4 1987.1L541.6 1984.4L528.7 1969.2L523.7 1960.9L521.5 1951.3L505.8 1942.2L487.8 1939L469.9 1940.7L452 1950.1L437.2 1951.3L434.1 1951.7L432.1 1951.3L416.1 1948.9L398.2 1945.2L380.3 1948.9L362.3 1951L344.4 1949.4L326.5 1947L314.6 1933.4L308.6 1929L290.6 1922.5L274.1 1933.4L272.7 1935.7L257.4 1951.3L254.8 1955.8L238.6 1969.2L236.8 1971L219.9 1987.1L218.9 1988.1L201 2001.6L192.5 2005L183.1 2010L165.1 2013.4L147.2 2011.9L129.3 2011.9L129.3 2022.9L129.3 2040.8L129.3 2058.7L129.3 2076.6L129.3 2094.5L129.3 2112.4L129.3 2130.2L129.3 2148.1L129.3 2166L129.3 2183.9L129.3 2201.8L129.3 2219.7L129.3 2237.6L129.3 2255.5L129.3 2273.4L129.3 2291.3L129.3 2309.2L129.3 2327.1ZM362.1 2166L361.5 2148.1L362.3 2147.5L370.9 2130.2L380.3 2122.3L398.2 2121.9L416.1 2125.9L423.8 2130.2L429.2 2148.1L417.3 2166L416.1 2166.8L398.2 2172.8L380.3 2176.3L362.3 2166.3ZM738.8 1846.9L742.9 1843.9L750 1826L738.8 1812.9L720.9 1817.1L711.4 1826L720.9 1836L728.5 1843.9Z" fill="#f7ba9f"/>
<path d="M165.1 2327.1L183.1 2327.1L201 2327.1L218.9 2327.1L222.5 2327.1L222.5 2309.2L226.1 2291.3L226.5 2273.4L221.1 2255.5L218.9 2253.6L201 2249.3L183.1 2249.9L165.1 2253.5L161.9 2255.5L151.5 2273.4L152.6 2291.3L161.3 2309.2L161.3 2327.1ZM254.8 2224.1L267.6 2219.7L272.7 2214.9L275 2201.8L272.7 2196.9L254.8 2197.2L251.5 2201.8L250.9 2219.7ZM147.2 2169.2L150.8 2166L165.1 2159.8L180.3 2148.1L183.1 2143L191.3 2130.2L189.9 2112.4L183.1 2098.4L180.3 2094.5L165.1 2078.4L160.1 2076.6L147.2 2069.5L129.3 2070L129.3 2076.6L129.3 2094.5L129.3 2112.4L129.3 2130.2L129.3 2148.1L129.3 2165.5L132.6 2166ZM308.6 2134L326.5 2138.8L344.4 2135.3L350.2 2130.2L362.3 2124.5L376.8 2112.4L380.3 2109.8L398.2 2104.6L416.1 2103.3L434.1 2103L452 2099.7L460.2 2094.5L469.9 2088.3L481.4 2076.6L487.8 2070.8L500 2058.7L505.8 2051.2L515 2040.8L521 2022.9L518 2005L505.8 1989L504.2 1987.1L505.8 1980.6L507.4 1969.2L509.8 1951.3L505.8 1949L487.8 1943.8L469.9 1945.5L459.5 1951.3L458.9 1969.2L452 1974.2L441.3 1969.2L434.1 1964.3L416.1 1959.6L398.2 1954.8L380.3 1956.6L362.3 1958.9L344.4 1958.6L326.5 1957L323.1 1951.3L308.6 1934.6L306.6 1933.4L290.6 1927.5L281.7 1933.4L272.7 1948.2L269.7 1951.3L259.6 1969.2L254.8 1980.9L249 1987.1L237.1 2005L236.8 2006L230.1 2022.9L235.5 2040.8L236.8 2042.1L250.1 2058.7L254.8 2062.7L262.8 2076.6L272.7 2089.3L275.7 2094.5L287.4 2112.4L290.6 2117.8L304.5 2130.2ZM828.5 2084.8L846.4 2086.4L859.2 2076.6L864.4 2069.1L866.7 2058.7L865.6 2040.8L864.4 2037.9L855.1 2022.9L847.3 2005L846.4 2004.5L828.5 1997.6L810.6 1996.6L792.6 2001.2L783.5 2005L774.7 2020.6L770.7 2022.9L763.6 2040.8L774.7 2050.6L784.4 2058.7L792.6 2064L810.6 2074.7L814.3 2076.6ZM613.3 2067.8L631.3 2069.5L649.2 2062.2L654.7 2058.7L667.1 2050.3L682.3 2040.8L676.5 2022.9L667.1 2020.2L649.2 2015L631.3 2012.1L613.3 2018L606.7 2022.9L598.5 2040.8L602.8 2058.7ZM738.8 1837.6L743.6 1826L738.8 1820.4L727.7 1826Z" fill="#f6a586"/>
<path d="M147.2 2145.2L165.1 2134.7L168.2 2130.2L165.1 2121.8L153.4 2112.4L147.2 2109.9L142.9 2112.4L132.3 2130.2ZM326.5 2113.9L344.4 2119.2L359.2 2112.4L362.3 2111.2L380.3 2098.2L390.1 2094.5L398.2 2091.4L416.1 2087.7L434.1 2082.4L445 2076.6L452 2072.8L469.9 2058.7L470 2058.7L486.2 2040.8L487.8 2036.7L494 2022.9L491.2 2005L487.8 2001.1L471.2 1987.1L469.9 1980.9L452 1982.7L434.1 1975.6L416.1 1970.4L411.4 1969.2L398.2 1965.5L380.3 1965.3L362.3 1967L344.4 1968.7L331.6 1969.2L326.5 1969.5L326.3 1969.2L315.6 1951.3L308.6 1943.2L293 1933.4L290.6 1932.5L289.3 1933.4L277.1 1951.3L272.7 1968.6L272.4 1969.2L264.5 1987.1L259.9 2005L259.3 2022.9L263.1 2040.8L272.7 2058L272.9 2058.7L281.7 2076.6L290.6 2088.4L302 2094.5L308.6 2099.7L324.1 2112.4ZM469.9 1964.3L487.8 1965.8L496.3 1951.3L487.8 1948.5L469.9 1950.4L468.2 1951.3Z" fill="#f08b6e"/>
<path d="M344.4 2105.8L362.3 2099.9L369.8 2094.5L380.3 2087L398.2 2079.8L409 2076.6L416.1 2074.2L434.1 2066.5L446.5 2058.7L452 2054.5L466.2 2040.8L469.9 2033L474.7 2022.9L469.9 2005.3L469.8 2005L452 1993.7L436.7 1987.1L434.1 1986.2L416.1 1980.1L398.2 1973.9L380.3 1973.5L362.3 1976.3L344.4 1979.5L326.5 1982.1L317 1969.2L308.6 1952.3L307.9 1951.3L290.6 1940.2L282.8 1951.3L277.8 1969.2L274.2 1987.1L272.7 1999.8L271.2 2005L271.1 2022.9L272.7 2028L274.5 2040.8L281.1 2058.7L290.6 2072.5L304.7 2076.6L308.6 2078.4L326.5 2094.2L326.7 2094.5Z" fill="#e46e56"/>
<path d="M344.4 2092.7L362.3 2087.9L379 2076.6L380.3 2075.8L398.2 2068.5L416.1 2061.8L422.4 2058.7L434.1 2051.4L447.4 2040.8L452 2032.4L456.8 2022.9L452 2011.6L448.1 2005L434.1 1998.1L416.1 1990.1L411.6 1987.1L398.2 1981.1L380.3 1981.3L362.3 1986.1L357.9 1987.1L344.4 1990.3L326.5 1992.5L319.9 1987.1L308.6 1970.6L307.5 1969.2L295.2 1951.3L290.6 1948.4L288.6 1951.3L283 1969.2L278.6 1987.1L276.1 2005L276.3 2022.9L279.9 2040.8L289.2 2058.7L290.6 2060.7L308.6 2063.1L326.5 2073.5L328.7 2076.6Z" fill="#d44e41"/>
<path d="M344.4 2076.7L346.1 2076.6L362.3 2074.9L380.3 2064.1L394.3 2058.7L398.2 2056.9L416.1 2047.8L426.9 2040.8L434.1 2028.9L437.3 2022.9L434.1 2017.9L425 2005L416.1 2000.6L398.2 1988.3L380.3 1989.1L362.3 1996.1L344.4 2001.2L326.5 2001.4L309.1 1987.1L308.6 1986.3L295.9 1969.2L290.6 1961.9L288.3 1969.2L283.1 1987.1L280.1 2005L280.5 2022.9L285.2 2040.8L290.6 2050.6L308.6 2049.1L326.5 2050.9L331.3 2058.7L344.2 2076.6Z" fill="#be242e"/>
<path d="M362.3 2059.3L363.6 2058.7L380.3 2050.6L398.2 2043.1L402.7 2040.8L415.5 2022.9L410.6 2005L398.2 1995.6L380.3 1997L364.2 2005L362.3 2006.9L344.4 2015.8L335.9 2022.9L336.6 2040.8L344.4 2054.2L358.6 2058.7ZM290.6 2040.8L290.8 2040.8L308.6 2032.1L317 2022.9L315.6 2005L308.6 1999.9L298.2 1987.1L290.6 1977.1L287.5 1987.1L284.1 2005L284.7 2022.9L290.6 2040.8Z" fill="#b40426"/>
<path d="M135.2 2321.1L135.2 2013.3L159.2 1995.4L212.9 1995.4L218.9 2013.3L272.7 2011L278.7 1965.6L314.5 1959.7L362.3 1944.1L376.7 1963.2L398.2 1966.8L458 1981.1L469.9 1960.8L535.7 1960.8L541.6 1983.5L589.4 1993.1L625.3 1965.6L646.8 1965.6L649.2 1994.2L691 1994.2L697 2011L798.6 2011L801 1995.4L842.8 1995.4L862 2022.9L862 2049.1L902.6 2049.1L906.2 2063.4L1055.6 2063.4L1055.6 2076.6L1007.8 2080.1L998.2 2100.4L974.3 2127.9L969.5 2148.1L957.6 2163.7L946.8 2183.9L936.1 2199.4L862 2199.4L878.7 2219.7L878.7 2321.1Z" fill="url(#dots)"/>
<path d="M281.1 1826L487.8 1826L487.8 1858.2L410.2 1858.2L389.8 1891.7L380.3 1921.5L374.3 1944.1L356.4 1944.1L356.4 1909.5L334.9 1891.7L296.6 1861.8L281.1 1861.8Z" fill="url(#dots)"/>
<path d="M141.2 2006.8L160.8 2008.4L174.6 2007L191.2 2005.1L207.8 2004.3L221.5 2003L225.7 2008.4L228.5 2013.9L235.4 2019.5L242.3 2023.7L250.6 2025L253.3 2030.5L257.5 2036.1L265.8 2036.1L272.7 2033.3L263 2038.9L254.7 2041.6L257.5 2050L263 2055.4L270 2060.9L279.6 2060.9L287.9 2058.2L290.6 2050L294.8 2044.4L301.7 2045.8L301.4 2053.9L298.9 2060.9L300.3 2071.4L300.3 2082.6L304.5 2093.7L307.2 2107.6L312.7 2121.3L318.2 2135.1L323.7 2146.2L329.4 2157.2L334.9 2168.3L340.4 2182.1L345.9 2196L351.5 2207L357 2212.6L362.5 2207L365.2 2201.5L373.5 2197.3L379.1 2193.2L381.8 2187.6L384.6 2176.7L384.6 2162.8L387.3 2151.7L388.8 2140.7L388.8 2129.7L390.1 2122.7L398.3 2120L409.4 2113.1L414.9 2107.6L423.2 2102L431.5 2093.7L439.8 2085.4L448 2077.2L453.7 2073L462.7 2068.2L468.7 2058.7L475.9 2051.5L485.5 2050.3L494.5 2046.7L503.4 2047.9L511.2 2039.6L516.5 2032.4L522.1 2037.4L530.5 2050L533.3 2061.1L540.4 2067L546.4 2075.4L549.8 2085.4L555.4 2099.2L558.1 2113.1L563.6 2118.6L571.9 2113.1L580.2 2104.7L588.5 2099.2L591.2 2107.6L594 2118.6L596.7 2132.4L599.5 2149L602.2 2162.8L603.7 2182.1L605 2198.7L606.2 2211.4L607.8 2215.3L616.1 2228.1L626.5 2235.2L629.5 2247.2L632.5 2261.5L638.2 2271L644.4 2278.2L655.2 2286.5L667.1 2293.1L676.1 2292.5L670.7 2281.8L666.5 2271L666.5 2259.1L662.4 2247.2L652.8 2236.4L643.2 2228.1L631.3 2223.3L628.9 2213.8L624.1 2199.4L615.7 2185.1L616.9 2174.4L621.7 2163.7L625.3 2156.5L626.5 2148.1L632.5 2148.1L636.1 2154.1L639.6 2158.3L649.2 2163.7L656.4 2167.2L661.2 2175.6L667.1 2182.7L677.9 2185.1L682.7 2194.7L682.7 2205.4L688.6 2204.2L699.4 2195.9L706.6 2186.3L714.9 2183.9L720.9 2180.4L731.7 2174.4L735.3 2164.8L736.5 2151.7L735.3 2142.2L731.7 2129.1L724.5 2117.1L713.7 2108.8L704.2 2100.4L697 2090.9L693.4 2083.7L695.8 2075.4L704.2 2067L709 2059.9L715.5 2052.7L725.7 2050.9L731.7 2051.5L740 2052.7L743.6 2056.3L744.8 2063.4L748.4 2067.6L752 2063.4L750.8 2056.3L759.2 2052.7L768.7 2049.1L778.3 2047.9L784.3 2043.2L787.9 2038.4L789 2044.4L795 2043.2L802.2 2038.4L811.8 2037.2L822.5 2034.8L830.9 2027.7L839.2 2019.3L847.6 2012.1L856 2006.2L859.6 1997.8L863.2 1989.5L869.1 1982.3L875.1 1975.2L881.1 1966.8L885.9 1958.5L888.3 1950.1L883.5 1944.1L876.3 1942.9L882.3 1939.4L887.1 1933.4L881.1 1928.6L875.1 1921.5L871.5 1914.3L865.5 1904.8L857.2 1896.4L854.8 1891.7L859.6 1884.5L866.7 1878.5L875.1 1872.6L884.7 1869L895.4 1864.2L889.5 1861.8L878.7 1860.6L869.1 1863L862 1865.4L854.8 1864.2L851.2 1857.1L845.2 1851.1L835.7 1845.1L834.5 1840.4L840.4 1841.5L851.2 1841.5L857.2 1835.6L864.4 1830.8L870.3 1826M885.9 1826L882.3 1835.6L879.9 1841.5L878.7 1845.7L884.7 1843.9L891.8 1839.2L900.2 1835.6L909.8 1834.4L916.9 1830.8L919.3 1826M916.9 1828.4L919.3 1835.6L926.5 1839.2L922.9 1847.5L925.3 1854.7L935.8 1856.5L942 1860.6L944.4 1867.8L940.8 1873.8L943.2 1880.9L940.8 1889.3L939.7 1896.4L946.8 1897.6L954 1895.2L964.8 1892.8L971.9 1890.5L976.7 1884.5L977.9 1876.1L976.7 1867.8L971.9 1860.6L965.9 1852.3L958.8 1845.1L954 1839.2L962.4 1832L970.7 1826M980.3 1913.1L982.7 1920.3L986.3 1927.4L987.5 1935.8L992.2 1938.2L997 1934.6L1000.6 1932.2L1001.8 1923.9L1006.6 1916.7L1001.8 1911.9L995.8 1904.8L989.9 1904.8L983.9 1908.4L980.3 1913.1M1010.2 1914.3L1015 1917.9L1019.7 1917.9L1024.5 1910.7L1034.1 1911.9L1040.1 1906L1034.1 1901.2L1025.7 1900L1017.3 1902.4L1010.2 1908.4L1010.2 1914.3M1110.6 1883.3L1099.8 1884.5L1089.1 1890.5L1077.1 1891.7L1065.2 1894L1059.2 1898.8L1052 1901.2L1044.8 1900L1035.3 1896.4L1025.7 1898.8L1013.8 1901.2L1003 1904.2L994.6 1903.6L1001.8 1897.6L1013.8 1889.3L1023.3 1884.5L1037.7 1883.3L1049.6 1880.9L1059.2 1872.6L1067.5 1864.2L1079.5 1858.2L1091.4 1852.3L1099.8 1847.5L1104.6 1840.4L1105.8 1824.8M865.5 2034.8L867.9 2040.8L872.7 2046.7L875.1 2042L881.1 2033.6L883.5 2024.1L887.1 2015.7L887.1 2011L882.3 2007.4L876.3 2011L872.7 2016.9L866.7 2026.5L865.5 2034.8M728.1 2080.1L729.3 2088.5L738.8 2092.1L746 2089.7L750.8 2084.9L756.8 2075.4L753.2 2070.6L747.2 2069.4L738.8 2070.6L731.7 2075.4L728.1 2080.1M384.5 2225.7L383.9 2213.8L385.7 2201.8L387.4 2192.3L393.4 2197.1L399.4 2206.6L403 2213.8L407.8 2223.3L405.4 2232.8L393.4 2238.8L387.4 2235.2L384.5 2225.7M675.5 2315.2L668.3 2305.6L661.2 2299.7L651.6 2293.7L642 2288.9L631.3 2283L622.9 2274.6L613.3 2266.3L605 2257.9L595.4 2248.4L583.5 2247.2L572.7 2242.4L567.9 2243.6L569.1 2249.6L572.7 2254.3L581.1 2260.3L589.4 2268.6L597.8 2278.2L607.4 2287.7L614.5 2297.3L621.7 2309.2L625.3 2315.2M731.7 2315.2L732.9 2303.2L734.1 2293.7L740 2285.9L748.4 2288.3L756.8 2290.1L761.6 2280.6L768.7 2274L780.7 2269.8L791.4 2257.9L799.8 2253.1L807 2248.4L811.8 2242.4L817.7 2237.6L824.9 2226.9L830.9 2226.3L836.9 2234L841.6 2240L854.8 2246L845.2 2251.9L839.2 2259.1L836.9 2269.8L840.4 2281.8L851.2 2296.1L840.4 2299.7L834.5 2309.2L832.1 2315.2M871.5 2088.5L877.5 2087.3L887.1 2090.9L890.6 2100.4L893 2108.8L883.5 2119.5L883.5 2126.7L887.1 2135L895.4 2139.8L903.8 2143.4L912.2 2154.1L913.4 2158.9L906.2 2155.3L897.8 2147L888.3 2144.6L882.3 2145.8L872.7 2141L871.5 2135L864.4 2130.2L862 2118.3L866.7 2115.9L869.1 2106.4L870.3 2096.8L871.5 2088.5M915.7 2160.1L924.1 2158.9L932.5 2168.4L931.3 2178L924.1 2187.5L920.5 2189.9L915.7 2180.4L916.9 2172L915.7 2160.1M905 2175.6L912.2 2179.2L907.4 2189.9L903.8 2195.9L905 2175.6M893 2179.2L901.4 2179.2L907.4 2191.1L902.6 2200.6L894.2 2194.7L893 2179.2M887.1 2168.4L893 2167.2L902.6 2173.2L895.4 2182.7L888.3 2183.9L887.1 2168.4M867.9 2149.3L876.3 2148.1L882.3 2155.3L878.7 2162.5L871.5 2160.1L867.9 2149.3M909.8 2188.7L918.1 2189.9L915.7 2194.7L909.8 2193.5L909.8 2188.7M830.9 2209L836.9 2204.2L846.4 2194.7L854.8 2185.1L859.6 2175.6L857.2 2173.2L852.4 2181.5L842.8 2191.1L834.5 2201.8L830.9 2209M858.4 2315.2L859.6 2300.8L875.1 2293.7L896.6 2296.1L915.7 2293.7L925.3 2290.1L919.3 2302L906.2 2303.2L882.3 2303.8L867.9 2305.6L865.5 2315.2M954 2315.2L956.4 2299.7L952.8 2290.1L957.6 2283L961.2 2291.3L968.3 2294.9L962.4 2299.7L968.3 2304.4L960 2305.6L958.8 2315.2M540.4 2147L539.2 2160.1L536.9 2170.8L536.3 2182.7M307.4 2225.7L305 2237.6L306.2 2249.6L308.6 2261.5L307.4 2273.4L306.2 2285.3L305 2297.3L305 2309.2M285.1 1833.8L257.5 1837.1L229.9 1839.3L222.1 1844L223 1850.9L229.9 1852.3L240.9 1848.7L254.7 1847.6L260.3 1848.7L261.6 1856.5L264.4 1863.4L268.6 1868.9L264.4 1872.5L256.1 1873.6L249.8 1878.6L246.5 1886.9L238.2 1881.9L227.1 1881.3L214.7 1882.7L203.6 1885.5L200.3 1892.4L201.4 1897.9L209.2 1900.7L218.8 1904L226.6 1904L220.2 1906.8L214.7 1912.3L218 1918.6L225.7 1915.9L234 1911.7L239.5 1906.2L243.7 1899.3L246.5 1892.4L250.6 1891L260.3 1892.9L269.9 1888.8L278.2 1884.7L287.9 1888.2L297.6 1891L307.2 1897.4L315.5 1898.5L321.6 1902.9L325.2 1911.7L330.7 1917.8L339 1925.5L346.5 1928.9L352.8 1936L361.1 1941.6L369.4 1945.7L377.7 1951L387.9 1953.7L397 1958.7L403.9 1960.9L412.8 1967L426 1971.1L439.8 1973.9L450.9 1977.2L461.9 1981.6L466.9 1982.2L466.9 1982.2L480.7 1985L494.6 1982.2L508.4 1985L522.2 1983.6L536 1978L549.8 1969.8L560.9 1964.2L571.9 1964.2L577.4 1968.4L585.7 1975.3L596.8 1976.7L602.3 1982.2L605.1 1990.5L606.4 1998.8L610.6 2001.5L617.5 1997.4L627.2 1990.5L635.5 1986.3L641.5 1980.8L647.1 1974.7L652 1967L650.6 1958.7L654.8 1950.4L660.3 1942.1L668.6 1933.8L672.7 1922.8L676.9 1911.7L672.7 1897.9L665.8 1886.9L658.9 1877.2L654.8 1873L643.7 1870.8L638.2 1868.1L642.4 1864.2L652.6 1863.4L663.6 1865.3L661.7 1861.4L652 1857.9L638.2 1852.3L621.6 1846.8L605.1 1840.4L577.4 1837.1L549.8 1838.5L522.2 1841.3L494.6 1844L478 1846.8L466.9 1852.3L466.9 1852.3L450.9 1859.2L437.1 1866.1L423.3 1870.3L412.2 1873L398.4 1875.8L390.1 1874.4L384.6 1870.3L376.3 1871.7L365.2 1868.9L351.4 1866.1L340.4 1862L337.6 1852.3L332.1 1846.8L321 1842.7L315.5 1833.8" fill="none" stroke="#858585" stroke-width="9.5" stroke-linejoin="round" stroke-linecap="round"/>
<path d="M870.3 2130.2L869.7 2145.8L871.5 2169.6L878.7 2176.8L885.3 2192.3L891.8 2199.4L906.2 2195.9L918.1 2192.3L930.1 2189.9L934.9 2185.1L928.9 2169.6L925.3 2158.9L918.1 2145.8L913.4 2138.6L903.8 2130.2ZM980.3 1913.1L982.7 1920.3L986.3 1927.4L987.5 1935.8L992.2 1938.2L997 1934.6L1000.6 1932.2L1001.8 1923.9L1006.6 1916.7L1001.8 1911.9L995.8 1904.8L989.9 1904.8L983.9 1908.4L980.3 1913.1Z" fill="#858585" stroke="#858585" stroke-width="9.5" stroke-linejoin="round"/>
<path d="M888.3 2226.9L890.6 2218.5L900.2 2216.1L907.4 2206.6L914.6 2211.4L921.7 2201.8L930.1 2192.3L938.5 2199.4L943.2 2222.1L938.5 2234L928.9 2242.4L926.5 2236.4L915.7 2235.2L912.2 2225.7L903.8 2219.7L888.3 2226.9" fill="none" stroke="#858585" stroke-width="16" stroke-linejoin="round" stroke-linecap="round"/>
<path d="M303.4 2175.6a3.2 3.2 0 1 0 0.01 0ZM307 2182.7a3.2 3.2 0 1 0 0.01 0ZM301 2187.5a3.2 3.2 0 1 0 0.01 0ZM313 2210.2a3.2 3.2 0 1 0 0.01 0ZM542.4 2199.4a3.2 3.2 0 1 0 0.01 0ZM549.6 2211.4a3.2 3.2 0 1 0 0.01 0ZM554.4 2223.3a3.2 3.2 0 1 0 0.01 0ZM541.2 2213.8a3.2 3.2 0 1 0 0.01 0ZM609.4 2216.1a3.2 3.2 0 1 0 0.01 0ZM605.8 2162.5a3.2 3.2 0 1 0 0.01 0ZM611.8 2189.9a3.2 3.2 0 1 0 0.01 0ZM599.8 2206.6a3.2 3.2 0 1 0 0.01 0ZM665.6 2238.8a3.2 3.2 0 1 0 0.01 0ZM677.5 2278.2a3.2 3.2 0 1 0 0.01 0ZM706.2 2261.5a3.2 3.2 0 1 0 0.01 0ZM726.5 2262.7a3.2 3.2 0 1 0 0.01 0ZM722.9 2273.4a3.2 3.2 0 1 0 0.01 0ZM767.1 2112.4a3.2 3.2 0 1 0 0.01 0ZM775.5 2107.6a3.2 3.2 0 1 0 0.01 0ZM799.4 2185.1a3.2 3.2 0 1 0 0.01 0ZM819.7 2207.8a3.2 3.2 0 1 0 0.01 0ZM803 2173.2a3.2 3.2 0 1 0 0.01 0ZM770.7 2206.6a3.2 3.2 0 1 0 0.01 0ZM891.5 2065.8a3.2 3.2 0 1 0 0.01 0ZM890.3 2076.6a3.2 3.2 0 1 0 0.01 0ZM885.5 2080.1a3.2 3.2 0 1 0 0.01 0ZM893.8 2082.5a3.2 3.2 0 1 0 0.01 0ZM911.8 2018.1a3.2 3.2 0 1 0 0.01 0ZM917.8 2019.3a3.2 3.2 0 1 0 0.01 0ZM930.9 2013.3a3.2 3.2 0 1 0 0.01 0ZM960.8 1993.1a3.2 3.2 0 1 0 0.01 0ZM966.8 1990.7a3.2 3.2 0 1 0 0.01 0ZM973.9 1977.5a3.2 3.2 0 1 0 0.01 0ZM982.3 1970.4a3.2 3.2 0 1 0 0.01 0ZM993.1 1946.5a3.2 3.2 0 1 0 0.01 0ZM997.8 1945.3a3.2 3.2 0 1 0 0.01 0ZM983.5 1952.5a3.2 3.2 0 1 0 0.01 0ZM946.4 1910.7a3.2 3.2 0 1 0 0.01 0ZM968 1895.2a3.2 3.2 0 1 0 0.01 0ZM978.7 1901.2a3.2 3.2 0 1 0 0.01 0ZM951.2 2022.9a3.2 3.2 0 1 0 0.01 0ZM1002.6 2000.2a3.2 3.2 0 1 0 0.01 0ZM1001.4 2018.1a3.2 3.2 0 1 0 0.01 0ZM1046.8 1900a3.2 3.2 0 1 0 0.01 0ZM1068.4 1876.1a3.2 3.2 0 1 0 0.01 0ZM1088.7 1855.9a3.2 3.2 0 1 0 0.01 0ZM1099.4 1903.6a3.2 3.2 0 1 0 0.01 0ZM1100.6 1914.3a3.2 3.2 0 1 0 0.01 0ZM1025.3 1878.5a3.2 3.2 0 1 0 0.01 0ZM898.6 2179.2a3.2 3.2 0 1 0 0.01 0ZM881.9 2155.3a3.2 3.2 0 1 0 0.01 0ZM867.6 2166a3.2 3.2 0 1 0 0.01 0ZM890.3 2160.1a3.2 3.2 0 1 0 0.01 0ZM911.8 2161.3a3.2 3.2 0 1 0 0.01 0ZM924.9 2170.8a3.2 3.2 0 1 0 0.01 0ZM915.4 2200.6a3.2 3.2 0 1 0 0.01 0ZM939.3 2192.3a3.2 3.2 0 1 0 0.01 0ZM940.5 2183.9a3.2 3.2 0 1 0 0.01 0ZM877.1 2238.8a3.2 3.2 0 1 0 0.01 0ZM890.3 2237.6a3.2 3.2 0 1 0 0.01 0ZM921.3 2238.8a3.2 3.2 0 1 0 0.01 0ZM933.3 2265.1a3.2 3.2 0 1 0 0.01 0ZM935.7 2269.8a3.2 3.2 0 1 0 0.01 0ZM947.6 2257.9a3.2 3.2 0 1 0 0.01 0ZM954.8 2274.6a3.2 3.2 0 1 0 0.01 0ZM985.9 2268.6a3.2 3.2 0 1 0 0.01 0ZM1001.4 2273.4a3.2 3.2 0 1 0 0.01 0ZM1040.9 2219.7a3.2 3.2 0 1 0 0.01 0ZM1043.3 2217.3a3.2 3.2 0 1 0 0.01 0ZM1028.9 2222.1a3.2 3.2 0 1 0 0.01 0ZM1083.9 2194.7a3.2 3.2 0 1 0 0.01 0ZM1101.8 2191.1a3.2 3.2 0 1 0 0.01 0ZM1046.8 2172a3.2 3.2 0 1 0 0.01 0ZM1036.1 2206.6a3.2 3.2 0 1 0 0.01 0ZM1000.2 2257.9a3.2 3.2 0 1 0 0.01 0ZM957.2 2201.8a3.2 3.2 0 1 0 0.01 0ZM973.9 2234a3.2 3.2 0 1 0 0.01 0ZM1058.8 2212.6a3.2 3.2 0 1 0 0.01 0ZM1077.9 2238.8a3.2 3.2 0 1 0 0.01 0ZM1040.9 2274.6a3.2 3.2 0 1 0 0.01 0ZM999 2287.7a3.2 3.2 0 1 0 0.01 0ZM1101.8 2261.5a3.2 3.2 0 1 0 0.01 0ZM1013.4 2298.5a3.2 3.2 0 1 0 0.01 0ZM1105.4 2303.2a3.2 3.2 0 1 0 0.01 0ZM978.7 1904.8a3.2 3.2 0 1 0 0.01 0ZM972.7 1900a3.2 3.2 0 1 0 0.01 0ZM987.1 1917.9a3.2 3.2 0 1 0 0.01 0ZM984.7 1927.4a3.2 3.2 0 1 0 0.01 0ZM994.2 1946.5a3.2 3.2 0 1 0 0.01 0ZM987.1 1952.5a3.2 3.2 0 1 0 0.01 0ZM981.1 1971.6a3.2 3.2 0 1 0 0.01 0ZM973.9 1977.5a3.2 3.2 0 1 0 0.01 0ZM969.1 1983.5a3.2 3.2 0 1 0 0.01 0ZM963.2 1989.5a3.2 3.2 0 1 0 0.01 0ZM959.6 1995.4a3.2 3.2 0 1 0 0.01 0ZM948.8 2000.2a3.2 3.2 0 1 0 0.01 0ZM930.9 2014.5a3.2 3.2 0 1 0 0.01 0ZM916.6 2018.1a3.2 3.2 0 1 0 0.01 0ZM913 2019.3a3.2 3.2 0 1 0 0.01 0ZM902.2 2018.1a3.2 3.2 0 1 0 0.01 0ZM941.7 1865.4a3.2 3.2 0 1 0 0.01 0ZM934.5 1867.8a3.2 3.2 0 1 0 0.01 0ZM939.3 1886.9a3.2 3.2 0 1 0 0.01 0ZM938.1 1895.2a3.2 3.2 0 1 0 0.01 0ZM946.4 1900a3.2 3.2 0 1 0 0.01 0ZM954.8 1898.8a3.2 3.2 0 1 0 0.01 0ZM964.4 1894a3.2 3.2 0 1 0 0.01 0ZM971.5 1892.8a3.2 3.2 0 1 0 0.01 0ZM1001.4 1896.4a3.2 3.2 0 1 0 0.01 0ZM1014.6 1884.5a3.2 3.2 0 1 0 0.01 0ZM1026.5 1876.1a3.2 3.2 0 1 0 0.01 0ZM1020.5 1878.5a3.2 3.2 0 1 0 0.01 0ZM1099.4 1849.9a3.2 3.2 0 1 0 0.01 0ZM1087.5 1854.7a3.2 3.2 0 1 0 0.01 0ZM1071.9 1864.2a3.2 3.2 0 1 0 0.01 0ZM1097 1898.8a3.2 3.2 0 1 0 0.01 0ZM1098.2 1892.8a3.2 3.2 0 1 0 0.01 0Z" fill="none" stroke="#808080" stroke-width="2"/>
<path d="M515.3 1899.3L530.5 1900.1L544.3 1899.3L555.3 1895.7L563.6 1892.9L571.9 1895.7L583 1903.4L591.3 1909L599.5 1917.3L607.8 1925.5L612 1933.8L614.7 1938L616.1 1947.7L617.5 1961.5L620.3 1975.3L624.4 1985L627.7 1987.7L631.3 1975.8L632.7 1985L632.7 1996L641 1994.6L646.5 1991.9L649.3 1997.4L654.8 1994.6L660.9 1994.6L663.1 1986.3L665.8 1975.3L671.4 1971.1L676.9 1967L687.9 1964.2L696.2 1961.5L704.5 1953.2L715.6 1950.4L726.6 1942.1L732.1 1938L743.2 1936.6L754.2 1938L762.5 1942.1L770.8 1946.3L776.3 1950.4L781.9 1954.6L786.8 1955.9L786.9 1953.2L795.2 1947.7L800.7 1942.1L809 1947.7L817.3 1953.2L828.3 1947.7L839.4 1938L847.6 1933.8L853.2 1925.5L858.7 1924.2L872.5 1920M859.2 1924.2L869.7 1928.3L880.8 1933.8M578.8 1888.2L591.3 1891L602.3 1888.2L610.6 1893.8L616.1 1900.7L627.2 1904.8L638.2 1904L649.3 1906.2L656.2 1909L652 1910.4L643.7 1906.8L635.5 1900.7L629.9 1892.4L628.5 1885.5L632.7 1882.7L643.7 1877.2L660.3 1880L668.6 1881.3L679.7 1873L687.9 1862L701.8 1857.9L708.7 1848.2L710 1833.8M763.9 1833.8L758.4 1845.4L754.8 1859.2L752 1873L750.4 1886.9L752 1895.2L765.3 1891L773.6 1889.6L786.8 1892.4L786.9 1891L800.7 1891L814.5 1882.7L828.3 1873L842.1 1864.8L851.8 1857.9" fill="none" stroke="#1f1fff" stroke-width="4.2" stroke-linejoin="round" stroke-linecap="round"/>
<rect x="505.8" y="2011" width="358.6" height="179" fill="none" stroke="#ff0000" stroke-width="7.5"/>
</g>
<rect x="147.2" y="1832" width="956.2" height="477.2" fill="none" stroke="#000" stroke-width="5.6"/>
<g style="font-family:'Liberation Serif',serif" fill="#000">
<line x1="137.5" y1="1832" x2="147.2" y2="1832" stroke="#000" stroke-width="2.4"/>
<text x="127.5" y="1846.8" font-size="43" text-anchor="end" >40°N</text>
<line x1="137.5" y1="2070.6" x2="147.2" y2="2070.6" stroke="#000" stroke-width="2.4"/>
<text x="127.5" y="2085.4" font-size="43" text-anchor="end" >20°N</text>
<line x1="137.5" y1="2309.2" x2="147.2" y2="2309.2" stroke="#000" stroke-width="2.4"/>
<text x="127.5" y="2324" font-size="43" text-anchor="end" >0°</text>
<line x1="386.2" y1="2309.2" x2="386.2" y2="2319.7" stroke="#000" stroke-width="2.4"/>
<text x="386.8" y="2360" font-size="43" text-anchor="middle" >80°E</text>
<line x1="625.3" y1="2309.2" x2="625.3" y2="2319.7" stroke="#000" stroke-width="2.4"/>
<text x="625.8" y="2360" font-size="43" text-anchor="middle" >100°E</text>
<line x1="864.4" y1="2309.2" x2="864.4" y2="2319.7" stroke="#000" stroke-width="2.4"/>
<text x="864.9" y="2360" font-size="43" text-anchor="middle" >120°E</text>
<line x1="1103.4" y1="2309.2" x2="1103.4" y2="2319.7" stroke="#000" stroke-width="2.4"/>
<text x="1103.9" y="2360" font-size="43" text-anchor="middle" >140°E</text>
<path d="M322.6 2412.6L320.6 2412.6L289.2 2429.1L320.6 2445.6L322.6 2445.6Z" fill="#3b4cc0"/>
<path d="M928.6 2412.6L930.6 2412.6L961.5 2429.1L930.6 2445.6L928.6 2445.6Z" fill="#b40426"/>
<rect x="320.6" y="2412.6" width="38.7" height="33" fill="#445acc"/>
<rect x="358.7" y="2412.6" width="38.7" height="33" fill="#5673e0"/>
<rect x="396.9" y="2412.6" width="38.7" height="33" fill="#6c8ff1"/>
<rect x="435" y="2412.6" width="38.7" height="33" fill="#82a6fb"/>
<rect x="473.1" y="2412.6" width="38.7" height="33" fill="#98b9ff"/>
<rect x="511.2" y="2412.6" width="38.7" height="33" fill="#adc9fd"/>
<rect x="549.4" y="2412.6" width="38.7" height="33" fill="#c3d5f4"/>
<rect x="587.5" y="2412.6" width="38.7" height="33" fill="#d4dbe6"/>
<rect x="625.6" y="2412.6" width="38.7" height="33" fill="#e5d8d1"/>
<rect x="663.7" y="2412.6" width="38.7" height="33" fill="#f1ccb8"/>
<rect x="701.9" y="2412.6" width="38.7" height="33" fill="#f7ba9f"/>
<rect x="740" y="2412.6" width="38.7" height="33" fill="#f6a586"/>
<rect x="778.1" y="2412.6" width="38.7" height="33" fill="#f08b6e"/>
<rect x="816.2" y="2412.6" width="38.7" height="33" fill="#e46e56"/>
<rect x="854.4" y="2412.6" width="38.7" height="33" fill="#d44e41"/>
<rect x="892.5" y="2412.6" width="38.1" height="33" fill="#be242e"/>
<path d="M320.6 2412.6L930.6 2412.6L961.5 2429.1L930.6 2445.6L320.6 2445.6L289.2 2429.1Z" fill="none" stroke="#000" stroke-width="2.2" stroke-linejoin="miter"/>
<line x1="320.6" y1="2445.6" x2="320.6" y2="2456.1" stroke="#000" stroke-width="2.2"/>
<text x="320.6" y="2496.6" font-size="42.5" text-anchor="middle" >-0.4</text>
<line x1="396.9" y1="2445.6" x2="396.9" y2="2456.1" stroke="#000" stroke-width="2.2"/>
<text x="396.9" y="2496.6" font-size="42.5" text-anchor="middle" >-0.3</text>
<line x1="473.1" y1="2445.6" x2="473.1" y2="2456.1" stroke="#000" stroke-width="2.2"/>
<text x="473.1" y="2496.6" font-size="42.5" text-anchor="middle" >-0.2</text>
<line x1="549.4" y1="2445.6" x2="549.4" y2="2456.1" stroke="#000" stroke-width="2.2"/>
<text x="549.4" y="2496.6" font-size="42.5" text-anchor="middle" >-0.1</text>
<line x1="625.6" y1="2445.6" x2="625.6" y2="2456.1" stroke="#000" stroke-width="2.2"/>
<text x="625.6" y="2496.6" font-size="42.5" text-anchor="middle" >0.0</text>
<line x1="701.9" y1="2445.6" x2="701.9" y2="2456.1" stroke="#000" stroke-width="2.2"/>
<text x="701.9" y="2496.6" font-size="42.5" text-anchor="middle" >0.1</text>
<line x1="778.1" y1="2445.6" x2="778.1" y2="2456.1" stroke="#000" stroke-width="2.2"/>
<text x="778.1" y="2496.6" font-size="42.5" text-anchor="middle" >0.2</text>
<line x1="854.4" y1="2445.6" x2="854.4" y2="2456.1" stroke="#000" stroke-width="2.2"/>
<text x="854.4" y="2496.6" font-size="42.5" text-anchor="middle" >0.3</text>
<line x1="930.6" y1="2445.6" x2="930.6" y2="2456.1" stroke="#000" stroke-width="2.2"/>
<text x="930.6" y="2496.6" font-size="42.5" text-anchor="middle" >0.4</text>
</g>
</svg>
</body></html>
